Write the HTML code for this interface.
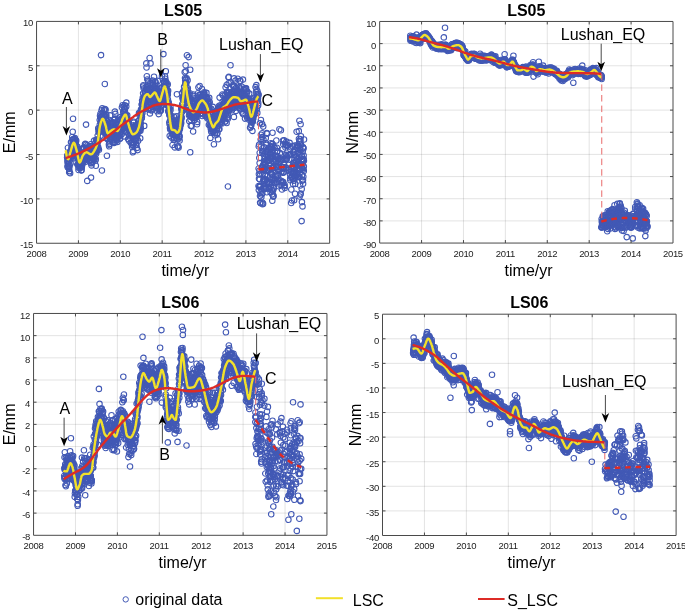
<!DOCTYPE html><html><head><meta charset="utf-8"><style>html,body{margin:0;padding:0;background:#fff;}svg{display:block;filter:blur(0.3px);}text{font-family:"Liberation Sans", sans-serif;}</style></head><body>
<svg width="685" height="611" viewBox="0 0 685 611">
<defs><marker id="m" markerUnits="userSpaceOnUse" markerWidth="8" markerHeight="8" refX="4" refY="4" overflow="visible"><circle cx="4" cy="4" r="2.75" fill="none" stroke="#4259b5" stroke-width="1.1"/></marker><clipPath id="cTL"><rect x="36.56" y="21.42" width="293.10" height="221.83"/></clipPath><clipPath id="cTR"><rect x="379.66" y="21.46" width="293.34" height="221.59"/></clipPath><clipPath id="cBL"><rect x="33.56" y="313.46" width="293.39" height="221.84"/></clipPath><clipPath id="cBR"><rect x="382.50" y="314.20" width="293.60" height="221.30"/></clipPath></defs>
<g><path d="M78.43 21.42V243.25M120.30 21.42V243.25M162.17 21.42V243.25M204.05 21.42V243.25M245.92 21.42V243.25M287.79 21.42V243.25" stroke="#262626" stroke-opacity="0.125" stroke-width="1" fill="none"/><path d="M36.56 198.88H329.66M36.56 154.52H329.66M36.56 110.15H329.66M36.56 65.79H329.66" stroke="#262626" stroke-opacity="0.125" stroke-width="1" fill="none"/><g clip-path="url(#cTL)"><polyline points="67.1,157.5 67.2,155.3 67.4,160.5 67.5,166.0 67.6,162.5 67.7,167.3 67.8,158.5 67.9,147.8 68.0,163.3 68.2,164.4 68.3,155.1 68.4,156.2 68.5,158.1 68.6,166.5 68.7,158.8 68.8,152.5 69.0,168.9 69.1,161.2 69.2,172.5 69.3,167.1 69.4,171.0 69.5,157.5 69.6,165.3 69.8,152.4 69.9,152.8 70.0,155.1 70.1,173.2 70.2,157.0 70.3,152.7 70.5,151.1 70.6,163.3 70.7,154.9 70.8,158.2 70.9,156.5 71.0,142.2 71.1,155.6 71.3,149.5 71.4,142.5 71.5,152.6 71.6,148.8 71.7,146.8 71.8,146.8 71.9,155.1 72.1,145.9 72.2,137.0 72.3,155.8 72.4,139.7 72.5,144.2 72.6,148.7 72.7,131.8 72.9,139.3 73.0,118.8 73.1,143.1 73.2,139.9 73.3,144.3 73.4,158.4 73.5,143.3 73.7,139.0 73.8,157.5 73.9,146.6 74.0,141.7 74.1,145.5 74.2,142.4 74.3,149.6 74.5,146.5 74.6,144.7 74.7,139.2 74.8,138.1 74.9,151.6 75.0,149.1 75.2,141.8 75.3,156.2 75.4,148.5 75.5,146.9 75.6,140.1 75.7,143.6 75.8,149.4 76.0,150.0 76.1,149.8 76.2,140.8 76.3,151.6 76.4,151.4 76.5,148.3 76.6,154.2 76.8,152.0 76.9,157.3 77.0,151.9 77.1,154.6 77.2,146.6 77.3,164.5 77.4,154.0 77.6,150.9 77.7,156.9 77.8,150.1 77.9,156.3 78.0,153.8 78.1,164.3 78.2,156.2 78.4,167.6 78.5,170.0 78.6,161.3 78.7,165.0 78.8,159.8 78.9,149.1 79.0,165.9 79.2,165.1 79.3,161.0 79.4,159.6 79.5,163.4 79.6,163.6 79.7,158.8 79.9,159.7 80.0,167.9 80.1,162.7 80.2,161.9 80.3,167.6 80.4,160.4 80.5,166.1 80.7,156.1 80.8,160.0 80.9,160.2 81.0,163.6 81.1,160.7 81.2,170.4 81.3,165.5 81.5,157.2 81.6,170.1 81.7,153.9 81.8,167.3 81.9,153.7 82.0,161.9 82.1,163.9 82.3,156.0 82.4,164.6 82.5,149.5 82.6,148.2 82.7,156.0 82.8,156.9 82.9,156.1 83.1,160.3 83.2,149.1 83.3,157.7 83.4,154.9 83.5,158.7 83.6,157.7 83.7,161.0 83.9,147.4 84.0,154.7 84.1,148.6 84.2,153.6 84.3,157.2 84.4,155.1 84.6,156.2 84.7,153.1 84.8,155.0 84.9,154.5 85.0,144.3 85.1,157.0 85.2,143.8 85.4,156.1 85.5,158.0 85.6,150.6 85.7,144.8 85.8,160.0 85.9,153.4 86.0,124.6 86.2,161.6 86.3,148.3 86.4,152.3 86.5,151.9 86.6,156.3 86.7,149.9 86.8,155.2 87.0,153.1 87.1,158.3 87.2,180.9 87.3,145.4 87.4,155.3 87.5,151.1 87.6,152.9 87.8,155.1 87.9,155.5 88.0,149.5 88.1,154.6 88.2,153.8 88.3,153.0 88.4,146.9 88.6,149.6 88.7,151.3 88.8,156.4 88.9,160.8 89.0,148.5 89.1,148.5 89.3,154.5 89.4,150.9 89.5,149.7 89.6,149.5 89.7,149.1 89.8,156.5 89.9,146.0 90.1,160.8 90.2,149.6 90.3,151.6 90.4,149.6 90.5,144.3 90.6,146.4 90.7,160.4 90.9,163.3 91.0,150.0 91.1,159.7 91.2,154.4 91.3,149.8 91.4,163.0 91.5,165.4 91.7,152.8 91.8,153.8 91.9,155.3 92.0,153.7 92.1,158.4 92.2,161.8 92.3,154.5 92.5,153.8 92.6,162.1 92.7,150.5 92.8,153.4 92.9,150.8 93.0,158.0 93.1,156.1 93.3,157.8 93.4,157.0 93.5,151.1 93.6,156.1 93.7,149.8 93.8,149.7 94.0,140.6 94.1,158.6 94.2,146.2 94.3,151.2 94.4,150.6 94.5,158.1 94.6,152.6 94.8,146.0 94.9,150.2 95.0,149.1 95.1,150.9 95.2,143.0 95.3,149.0 95.4,160.5 95.6,152.2 95.7,158.9 95.8,165.7 95.9,150.6 96.0,140.1 96.1,146.9 96.2,153.4 96.4,151.8 96.5,139.9 96.6,145.0 96.7,145.3 96.8,145.5 96.9,144.6 97.0,139.9 97.2,140.9 97.3,142.4 97.4,149.3 97.5,139.9 97.6,146.4 97.7,135.5 97.8,148.9 98.0,141.6 98.1,140.1 98.2,147.2 98.3,128.2 98.4,128.8 98.5,139.5 98.7,131.1 98.8,132.5 98.9,149.8 99.0,131.4 99.1,132.3 99.2,130.5 99.3,129.4 99.5,130.9 99.6,129.5 99.7,120.1 99.8,124.7 99.9,127.5 100.0,115.8 100.1,128.6 100.3,127.1 100.4,135.9 100.5,113.7 100.6,117.1 100.7,117.0 100.8,118.2 100.9,121.5 101.1,120.4 101.2,123.2 101.3,122.5 101.4,120.5 101.5,110.4 101.6,116.5 101.7,120.3 101.9,123.6 102.0,123.8 102.1,108.4 102.2,115.7 102.3,118.5 102.4,121.2 102.5,126.4 102.7,121.8 102.8,112.7 102.9,121.5 103.0,120.5 103.1,120.5 103.2,118.4 103.4,130.5 103.5,121.2 103.6,125.8 103.7,113.7 103.8,125.7 103.9,116.4 104.0,110.0 104.2,123.4 104.3,125.8 104.4,120.5 104.5,122.2 104.6,129.6 104.7,128.3 104.8,109.0 105.0,125.4 105.1,125.4 105.2,131.7 105.3,122.4 105.4,133.8 105.5,133.2 105.6,109.7 105.8,132.6 105.9,119.0 106.0,116.3 106.1,125.8 106.2,124.3 106.3,114.9 106.4,130.7 106.6,134.0 106.7,137.8 106.8,130.6 106.9,120.8 107.0,133.8 107.1,138.8 107.2,138.6 107.4,136.4 107.5,130.9 107.6,134.6 107.7,131.7 107.8,131.1 107.9,135.3 108.1,133.5 108.2,131.7 108.3,133.7 108.4,129.4 108.5,119.7 108.6,128.6 108.7,132.4 108.9,144.6 109.0,129.8 109.1,146.3 109.2,142.3 109.3,126.2 109.4,127.1 109.5,133.1 109.7,144.0 109.8,134.4 109.9,136.5 110.0,127.0 110.1,115.4 110.2,129.8 110.3,136.8 110.5,139.5 110.6,131.5 110.7,131.0 110.8,139.1 110.9,130.0 111.0,139.0 111.1,122.8 111.3,123.1 111.4,122.9 111.5,133.9 111.6,126.8 111.7,131.3 111.8,133.0 111.9,132.6 112.1,128.4 112.2,140.3 112.3,124.4 112.4,132.7 112.5,128.3 112.6,122.7 112.8,142.0 112.9,135.3 113.0,128.4 113.1,126.8 113.2,132.2 113.3,122.2 113.4,128.0 113.6,138.1 113.7,136.0 113.8,123.7 113.9,126.1 114.0,142.9 114.1,119.8 114.2,125.2 114.4,119.9 114.5,132.2 114.6,131.6 114.7,137.6 114.8,111.6 114.9,130.9 115.0,118.5 115.2,134.4 115.3,113.9 115.4,141.9 115.5,132.8 115.6,123.2 115.7,139.1 115.8,122.7 116.0,128.0 116.1,137.9 116.2,134.1 116.3,133.9 116.4,131.0 116.5,134.6 116.6,136.7 116.8,133.0 116.9,138.2 117.0,140.1 117.1,131.3 117.2,124.7 117.3,141.9 117.5,131.0 117.6,135.6 117.7,137.8 117.8,124.7 117.9,134.4 118.0,119.9 118.1,135.9 118.3,127.4 118.4,131.6 118.5,135.1 118.6,125.3 118.7,130.3 118.8,124.7 118.9,129.0 119.1,136.1 119.2,128.8 119.3,127.4 119.4,120.7 119.5,133.6 119.6,127.1 119.7,138.7 119.9,121.6 120.0,133.6 120.1,138.4 120.2,125.7 120.3,117.1 120.4,135.5 120.5,132.2 120.7,129.4 120.8,131.9 120.9,120.9 121.0,129.0 121.1,128.0 121.2,118.5 121.3,127.6 121.5,118.8 121.6,128.5 121.7,129.8 121.8,133.9 121.9,107.4 122.0,122.5 122.2,118.2 122.3,119.8 122.4,118.2 122.5,118.7 122.6,105.2 122.7,125.8 122.8,129.3 123.0,125.2 123.1,127.3 123.2,112.3 123.3,111.6 123.4,124.0 123.5,126.8 123.6,119.3 123.8,106.7 123.9,136.4 124.0,112.4 124.1,123.6 124.2,108.4 124.3,123.3 124.4,117.5 124.6,126.0 124.7,115.3 124.8,105.2 124.9,109.1 125.0,112.0 125.1,120.9 125.2,128.1 125.4,117.4 125.5,114.8 125.6,115.2 125.7,115.3 125.8,122.8 125.9,115.5 126.0,115.5 126.2,106.4 126.3,102.6 126.4,117.2 126.5,122.1 126.6,117.6 126.7,121.9 126.9,123.3 127.0,119.0 127.1,126.5 127.2,115.2 127.3,120.8 127.4,118.7 127.5,122.3 127.7,126.6 127.8,122.6 127.9,123.9 128.0,126.5 128.1,139.0 128.2,123.4 128.3,133.4 128.5,123.7 128.6,134.1 128.7,129.4 128.8,127.5 128.9,140.6 129.0,125.6 129.1,125.6 129.3,128.2 129.4,130.4 129.5,130.5 129.6,135.1 129.7,130.4 129.8,132.8 129.9,128.5 130.1,138.1 130.2,128.1 130.3,129.1 130.4,131.3 130.5,133.7 130.6,126.9 130.8,142.9 130.9,128.1 131.0,129.9 131.1,129.8 131.2,129.4 131.3,137.0 131.4,134.4 131.6,128.3 131.7,130.0 131.8,131.8 131.9,144.2 132.0,129.8 132.1,147.0 132.2,126.7 132.4,132.4 132.5,145.2 132.6,127.5 132.7,135.3 132.8,152.3 132.9,131.6 133.0,144.9 133.2,143.5 133.3,151.0 133.4,125.2 133.5,136.8 133.6,132.3 133.7,121.7 133.8,122.8 134.0,134.8 134.1,135.7 134.2,142.9 134.3,138.8 134.4,130.8 134.5,131.0 134.6,132.9 134.8,126.6 134.9,139.1 135.0,133.9 135.1,128.2 135.2,129.2 135.3,125.7 135.5,130.4 135.6,135.3 135.7,130.5 135.8,140.1 135.9,144.5 136.0,128.6 136.1,129.6 136.3,130.4 136.4,144.5 136.5,134.9 136.6,136.5 136.7,138.2 136.8,147.9 136.9,134.1 137.1,125.2 137.2,128.6 137.3,135.4 137.4,131.0 137.5,125.3 137.6,150.1 137.7,131.1 137.9,126.1 138.0,124.8 138.1,140.8 138.2,121.1 138.3,126.6 138.4,126.4 138.5,122.6 138.7,131.7 138.8,127.9 138.9,120.8 139.0,112.9 139.1,127.5 139.2,126.3 139.3,124.0 139.5,115.4 139.6,124.6 139.7,113.4 139.8,130.1 139.9,123.9 140.0,123.4 140.2,138.3 140.3,113.3 140.4,130.8 140.5,125.9 140.6,116.4 140.7,122.8 140.8,128.3 141.0,109.4 141.1,112.6 141.2,112.0 141.3,118.1 141.4,110.2 141.5,114.9 141.6,104.6 141.8,118.0 141.9,116.7 142.0,108.4 142.1,100.6 142.2,103.3 142.3,105.4 142.4,112.9 142.6,105.0 142.7,107.3 142.8,97.5 142.9,107.7 143.0,105.6 143.1,93.3 143.2,85.4 143.4,86.5 143.5,99.8 143.6,98.2 143.7,88.5 143.8,99.8 143.9,105.5 144.0,97.4 144.2,125.9 144.3,103.4 144.4,108.9 144.5,107.1 144.6,91.9 144.7,101.8 144.9,97.2 145.0,94.5 145.1,91.5 145.2,98.1 145.3,92.1 145.4,101.8 145.5,97.9 145.7,102.5 145.8,87.1 145.9,95.2 146.0,100.1 146.1,97.3 146.2,96.2 146.3,89.6 146.5,67.5 146.6,101.8 146.7,97.0 146.8,76.3 146.9,87.4 147.0,95.0 147.1,89.1 147.3,79.5 147.4,95.8 147.5,96.7 147.6,85.5 147.7,90.6 147.8,89.5 147.9,97.9 148.1,80.8 148.2,82.5 148.3,90.7 148.4,90.1 148.5,109.5 148.6,90.8 148.7,96.9 148.9,92.6 149.0,91.1 149.1,98.5 149.2,108.3 149.3,93.8 149.4,101.9 149.6,99.1 149.7,101.1 149.8,99.4 149.9,113.4 150.0,88.4 150.1,95.2 150.2,89.1 150.4,82.9 150.5,96.7 150.6,109.6 150.7,103.1 150.8,105.2 150.9,100.1 151.0,95.8 151.2,110.4 151.3,93.7 151.4,106.7 151.5,93.7 151.6,96.4 151.7,97.7 151.8,95.9 152.0,99.0 152.1,99.4 152.2,106.9 152.3,95.0 152.4,81.6 152.5,80.5 152.6,85.1 152.8,89.3 152.9,99.0 153.0,83.8 153.1,94.3 153.2,94.3 153.3,95.7 153.4,92.9 153.6,96.5 153.7,93.9 153.8,100.8 153.9,95.7 154.0,76.7 154.1,93.3 154.3,94.4 154.4,88.9 154.5,87.6 154.6,92.0 154.7,94.0 154.8,86.0 154.9,90.6 155.1,94.2 155.2,81.6 155.3,97.6 155.4,92.3 155.5,96.7 155.6,82.7 155.7,107.3 155.9,98.4 156.0,97.7 156.1,89.4 156.2,90.1 156.3,84.8 156.4,106.1 156.5,89.9 156.7,97.6 156.8,100.5 156.9,92.2 157.0,102.8 157.1,111.3 157.2,99.4 157.3,107.6 157.5,101.8 157.6,94.8 157.7,95.5 157.8,80.9 157.9,99.6 158.0,109.4 158.1,104.1 158.3,105.5 158.4,107.9 158.5,96.4 158.6,104.4 158.7,114.1 158.8,95.3 159.0,101.2 159.1,98.1 159.2,100.0 159.3,99.8 159.4,100.7 159.5,92.3 159.6,98.1 159.8,98.3 159.9,98.1 160.0,111.2 160.1,101.9 160.2,102.3 160.3,98.7 160.4,109.5 160.6,88.0 160.7,98.5 160.8,107.4 160.9,110.5 161.0,100.0 161.1,98.2 161.2,102.2 161.4,96.0 161.5,105.9 161.6,91.8 161.7,100.5 161.8,95.2 161.9,87.6 162.0,75.9 162.2,100.9 162.3,96.7 162.4,99.0 162.5,87.1 162.6,100.4 162.7,95.2 162.8,91.6 163.0,97.9 163.1,97.3 163.2,93.4 163.3,104.5 163.4,54.1 163.5,91.7 163.7,87.3 163.8,89.3 163.9,100.2 164.0,90.6 164.1,81.4 164.2,82.9 164.3,87.2 164.5,92.8 164.6,81.9 164.7,90.5 164.8,94.7 164.9,92.2 165.0,76.3 165.1,85.2 165.3,78.8 165.4,90.7 165.5,81.0 165.6,92.3 165.7,89.5 165.8,71.2 165.9,83.8 166.1,93.3 166.2,90.8 166.3,88.4 166.4,82.6 166.5,95.2 166.6,104.6 166.7,94.8 166.9,93.2 167.0,93.2 167.1,85.3 167.2,93.2 167.3,90.6 167.4,105.1 167.5,92.1 167.7,84.3 167.8,94.8 167.9,99.5 168.0,101.3 168.1,90.8 168.2,111.1 168.4,106.4 168.5,103.4 168.6,102.5 168.7,111.8 168.8,107.6 168.9,112.8 169.0,111.1 169.2,114.0 169.3,122.3 169.4,115.5 169.5,110.3 169.6,124.4 169.7,135.8 169.8,114.9 170.0,128.1 170.1,120.0 170.2,129.6 170.3,114.7 170.4,107.1 170.5,109.9 170.6,126.5 170.8,120.4 170.9,125.5 171.0,126.3 171.1,116.6 171.2,137.5 171.3,121.1 171.4,129.4 171.6,119.3 171.7,128.2 171.8,134.4 171.9,127.7 172.0,124.5 172.1,129.5 172.2,126.4 172.4,133.6 172.5,145.0 172.6,123.5 172.7,125.0 172.8,128.9 172.9,129.5 173.1,131.5 173.2,133.2 173.3,135.0 173.4,131.4 173.5,121.6 173.6,139.9 173.7,121.6 173.9,116.6 174.0,137.9 174.1,121.2 174.2,130.8 174.3,139.4 174.4,132.7 174.5,123.6 174.7,147.4 174.8,133.3 174.9,127.5 175.0,125.4 175.1,135.1 175.2,128.1 175.3,131.0 175.5,132.5 175.6,134.5 175.7,130.7 175.8,125.2 175.9,135.5 176.0,134.7 176.1,123.9 176.3,130.4 176.4,125.8 176.5,123.7 176.6,128.2 176.7,116.3 176.8,138.4 176.9,94.2 177.1,134.9 177.2,119.5 177.3,120.6 177.4,146.5 177.5,139.5 177.6,127.9 177.8,126.9 177.9,127.2 178.0,132.8 178.1,146.4 178.2,127.4 178.3,132.4 178.4,124.4 178.6,147.6 178.7,126.8 178.8,138.5 178.9,124.1 179.0,132.3 179.1,136.8 179.2,127.6 179.4,136.4 179.5,136.2 179.6,140.5 179.7,129.2 179.8,125.0 179.9,120.6 180.0,128.2 180.2,118.9 180.3,125.4 180.4,125.2 180.5,119.4 180.6,114.9 180.7,123.7 180.8,121.9 181.0,120.2 181.1,117.3 181.2,123.1 181.3,108.2 181.4,117.2 181.5,110.0 181.6,118.1 181.8,108.6 181.9,107.3 182.0,111.9 182.1,93.4 182.2,104.0 182.3,92.8 182.5,97.5 182.6,107.9 182.7,104.8 182.8,97.9 182.9,99.5 183.0,98.6 183.1,99.9 183.3,109.5 183.4,97.1 183.5,110.1 183.6,90.5 183.7,97.2 183.8,95.9 183.9,91.3 184.1,86.7 184.2,97.7 184.3,99.0 184.4,93.2 184.5,99.3 184.6,91.0 184.7,72.2 184.9,90.5 185.0,78.0 185.1,92.1 185.2,80.2 185.3,84.7 185.4,83.1 185.5,79.0 185.7,71.2 185.8,82.9 185.9,84.2 186.0,92.8 186.1,82.7 186.2,89.6 186.3,82.9 186.5,90.1 186.6,78.4 186.7,105.8 186.8,94.8 186.9,94.2 187.0,96.7 187.2,100.5 187.3,97.5 187.4,106.0 187.5,96.1 187.6,80.3 187.7,90.1 187.8,88.4 188.0,105.8 188.1,103.1 188.2,93.7 188.3,107.3 188.4,106.9 188.5,96.3 188.6,97.0 188.8,106.3 188.9,112.0 189.0,115.5 189.1,109.9 189.2,121.1 189.3,100.3 189.4,110.4 189.6,102.8 189.7,93.3 189.8,98.5 189.9,115.2 190.0,101.1 190.1,99.3 190.2,113.1 190.4,114.8 190.5,109.0 190.6,119.8 190.7,98.2 190.8,125.9 190.9,116.9 191.0,111.2 191.2,111.1 191.3,108.5 191.4,107.9 191.5,111.6 191.6,102.2 191.7,125.7 191.9,110.8 192.0,116.0 192.1,110.2 192.2,110.1 192.3,118.0 192.4,116.3 192.5,106.2 192.7,109.5 192.8,116.9 192.9,97.7 193.0,95.9 193.1,131.5 193.2,110.1 193.3,94.5 193.5,106.7 193.6,110.6 193.7,113.6 193.8,115.9 193.9,113.5 194.0,115.9 194.1,106.6 194.3,114.6 194.4,114.8 194.5,120.1 194.6,111.8 194.7,117.7 194.8,112.5 194.9,103.7 195.1,108.3 195.2,107.2 195.3,108.1 195.4,110.1 195.5,111.3 195.6,112.4 195.7,104.7 195.9,117.6 196.0,100.2 196.1,109.3 196.2,114.7 196.3,112.7 196.4,113.9 196.6,107.8 196.7,113.9 196.8,100.5 196.9,113.9 197.0,124.2 197.1,113.1 197.2,121.9 197.4,107.6 197.5,99.5 197.6,102.2 197.7,116.0 197.8,111.6 197.9,93.3 198.0,103.3 198.2,105.3 198.3,97.5 198.4,87.3 198.5,95.3 198.6,103.2 198.7,101.5 198.8,99.4 199.0,107.9 199.1,110.9 199.2,102.8 199.3,109.8 199.4,103.3 199.5,102.1 199.6,86.0 199.8,108.5 199.9,103.2 200.0,103.3 200.1,98.9 200.2,94.4 200.3,105.2 200.4,107.4 200.6,113.1 200.7,107.9 200.8,97.4 200.9,100.8 201.0,108.2 201.1,103.6 201.3,100.6 201.4,97.2 201.5,94.2 201.6,102.4 201.7,113.5 201.8,108.7 201.9,89.0 202.1,116.0 202.2,102.9 202.3,98.9 202.4,103.2 202.5,106.3 202.6,101.0 202.7,100.7 202.9,101.3 203.0,114.1 203.1,101.9 203.2,107.0 203.3,104.9 203.4,99.5 203.5,96.7 203.7,95.0 203.8,105.0 203.9,95.1 204.0,93.4 204.1,93.8 204.2,92.2 204.3,103.2 204.5,103.6 204.6,96.6 204.7,112.3 204.8,101.3 204.9,106.7 205.0,105.7 205.1,115.6 205.3,109.7 205.4,103.7 205.5,97.4 205.6,96.9 205.7,104.6 205.8,105.6 206.0,110.4 206.1,101.8 206.2,106.6 206.3,100.8 206.4,92.9 206.5,105.8 206.6,116.5 206.8,112.2 206.9,116.7 207.0,115.2 207.1,97.7 207.2,105.7 207.3,118.4 207.4,103.3 207.6,99.3 207.7,111.1 207.8,113.7 207.9,111.7 208.0,107.7 208.1,105.7 208.2,102.4 208.4,109.7 208.5,103.7 208.6,103.1 208.7,108.7 208.8,124.9 208.9,115.7 209.0,108.3 209.2,97.9 209.3,110.1 209.4,119.7 209.5,124.2 209.6,107.8 209.7,102.3 209.9,117.3 210.0,112.7 210.1,112.2 210.2,117.7 210.3,137.9 210.4,125.6 210.5,124.5 210.7,128.6 210.8,120.5 210.9,113.8 211.0,126.0 211.1,130.9 211.2,108.8 211.3,126.7 211.5,132.5 211.6,122.4 211.7,121.3 211.8,129.6 211.9,119.3 212.0,128.7 212.1,119.0 212.3,124.5 212.4,120.6 212.5,121.4 212.6,124.2 212.7,127.4 212.8,106.9 212.9,132.1 213.1,117.4 213.2,127.6 213.3,128.2 213.4,122.1 213.5,120.8 213.6,118.1 213.7,124.6 213.9,144.3 214.0,130.4 214.1,122.8 214.2,122.0 214.3,116.0 214.4,122.7 214.6,117.9 214.7,114.4 214.8,123.7 214.9,135.2 215.0,132.8 215.1,126.3 215.2,112.7 215.4,129.8 215.5,114.8 215.6,119.3 215.7,111.1 215.8,116.0 215.9,123.8 216.0,124.3 216.2,122.2 216.3,121.5 216.4,126.4 216.5,122.7 216.6,111.0 216.7,134.4 216.8,120.4 217.0,128.6 217.1,120.7 217.2,116.0 217.3,122.2 217.4,116.2 217.5,132.9 217.6,113.6 217.8,125.6 217.9,116.8 218.0,119.7 218.1,139.2 218.2,126.0 218.3,118.9 218.4,109.1 218.6,117.9 218.7,117.8 218.8,129.3 218.9,108.8 219.0,105.8 219.1,118.1 219.3,119.5 219.4,129.0 219.5,110.9 219.6,97.6 219.7,111.3 219.8,107.1 219.9,111.9 220.1,122.3 220.2,105.5 220.3,123.4 220.4,115.8 220.5,112.1 220.6,107.4 220.7,110.4 220.9,109.5 221.0,118.1 221.1,121.5 221.2,111.5 221.3,116.6 221.4,120.5 221.5,119.9 221.7,114.0 221.8,123.4 221.9,119.5 222.0,116.0 222.1,108.0 222.2,106.1 222.3,94.5 222.5,119.2 222.6,113.1 222.7,101.6 222.8,109.5 222.9,110.1 223.0,95.6 223.1,110.0 223.3,115.7 223.4,116.7 223.5,104.9 223.6,105.0 223.7,116.8 223.8,114.0 224.0,103.1 224.1,102.8 224.2,111.3 224.3,102.3 224.4,102.6 224.5,119.2 224.6,108.7 224.8,103.5 224.9,110.5 225.0,121.5 225.1,108.3 225.2,100.9 225.3,94.9 225.4,121.6 225.6,87.4 225.7,113.9 225.8,99.0 225.9,97.0 226.0,98.7 226.1,104.5 226.2,113.7 226.4,100.9 226.5,110.3 226.6,123.0 226.7,84.8 226.8,103.2 226.9,91.7 227.0,110.9 227.2,117.5 227.3,92.8 227.4,92.9 227.5,103.9 227.6,112.1 227.7,104.6 227.8,118.8 228.0,115.1 228.1,102.1 228.2,109.6 228.3,103.6 228.4,103.0 228.5,77.5 228.7,92.6 228.8,102.0 228.9,92.9 229.0,106.9 229.1,103.6 229.2,94.5 229.3,109.7 229.5,102.7 229.6,110.0 229.7,99.6 229.8,88.8 229.9,105.5 230.0,98.5 230.1,106.3 230.3,108.0 230.4,108.5 230.5,65.2 230.6,82.6 230.7,95.9 230.8,104.2 230.9,94.0 231.1,101.3 231.2,93.1 231.3,96.6 231.4,104.7 231.5,92.0 231.6,102.4 231.7,101.9 231.9,110.3 232.0,101.1 232.1,108.0 232.2,98.8 232.3,104.5 232.4,96.9 232.5,94.3 232.7,107.5 232.8,103.2 232.9,104.0 233.0,92.0 233.1,85.2 233.2,91.2 233.4,99.7 233.5,86.8 233.6,107.9 233.7,86.6 233.8,101.9 233.9,116.9 234.0,78.4 234.2,86.0 234.3,104.5 234.4,96.0 234.5,98.7 234.6,96.5 234.7,107.8 234.8,102.1 235.0,93.9 235.1,95.7 235.2,88.8 235.3,96.7 235.4,80.6 235.5,102.4 235.6,95.5 235.8,110.9 235.9,106.3 236.0,87.9 236.1,104.1 236.2,93.6 236.3,97.9 236.4,104.9 236.6,99.9 236.7,101.1 236.8,101.0 236.9,92.2 237.0,92.9 237.1,101.7 237.2,104.0 237.4,95.6 237.5,98.3 237.6,90.4 237.7,78.8 237.8,91.8 237.9,98.1 238.1,99.1 238.2,104.1 238.3,104.6 238.4,105.4 238.5,101.2 238.6,101.6 238.7,93.4 238.9,101.7 239.0,100.4 239.1,107.8 239.2,87.7 239.3,95.9 239.4,87.0 239.5,94.2 239.7,89.5 239.8,102.0 239.9,95.3 240.0,81.3 240.1,109.3 240.2,92.4 240.3,80.7 240.5,98.0 240.6,95.6 240.7,92.1 240.8,106.0 240.9,98.3 241.0,94.3 241.1,106.2 241.3,105.8 241.4,102.3 241.5,100.2 241.6,97.9 241.7,111.5 241.8,86.8 241.9,92.7 242.1,99.9 242.2,103.7 242.3,101.7 242.4,97.0 242.5,97.9 242.6,113.1 242.8,95.4 242.9,79.6 243.0,114.2 243.1,93.4 243.2,98.0 243.3,101.4 243.4,104.1 243.6,109.1 243.7,99.3 243.8,89.8 243.9,101.8 244.0,103.4 244.1,99.4 244.2,103.4 244.4,88.8 244.5,106.7 244.6,93.6 244.7,109.1 244.8,95.0 244.9,97.8 245.0,118.6 245.2,99.8 245.3,107.5 245.4,102.9 245.5,88.4 245.6,107.8 245.7,107.3 245.8,89.1 246.0,98.8 246.1,88.4 246.2,97.4 246.3,106.3 246.4,100.5 246.5,91.3 246.6,93.6 246.8,100.8 246.9,100.7 247.0,102.2 247.1,106.0 247.2,118.1 247.3,91.7 247.5,111.2 247.6,106.8 247.7,98.4 247.8,99.4 247.9,105.5 248.0,109.8 248.1,105.1 248.3,117.9 248.4,115.6 248.5,100.6 248.6,110.3 248.7,104.5 248.8,98.8 248.9,119.6 249.1,108.5 249.2,93.6 249.3,104.8 249.4,112.8 249.5,105.5 249.6,108.4 249.7,118.1 249.9,111.9 250.0,114.2 250.1,127.8 250.2,115.2 250.3,116.5 250.4,118.0 250.5,127.2 250.7,118.2 250.8,116.2 250.9,115.4 251.0,124.7 251.1,112.0 251.2,125.5 251.3,118.4 251.5,107.2 251.6,121.7 251.7,120.2 251.8,108.5 251.9,118.9 252.0,118.0 252.2,113.9 252.3,107.6 252.4,130.9 252.5,120.5 252.6,121.4 252.7,121.6 252.8,119.4 253.0,118.9 253.1,110.1 253.2,118.3 253.3,110.5 253.4,108.0 253.5,115.8 253.6,109.1 253.8,97.8 253.9,106.9 254.0,113.5 254.1,108.9 254.2,114.7 254.3,105.6 254.4,100.8 254.6,112.5 254.7,107.6 254.8,97.5 254.9,108.6 255.0,103.1 255.1,111.4 255.2,109.4 255.4,106.7 255.5,87.1 255.6,104.9 255.7,105.4 255.8,105.2 255.9,101.9 256.0,91.9 256.2,98.7 256.3,85.1 256.4,98.0 256.5,89.0 256.6,97.0 256.7,94.5 256.9,108.8 257.0,99.2 257.1,98.6 257.2,99.6 257.3,112.9 257.4,91.2 257.5,100.0 257.7,100.2 257.8,98.8 257.9,98.4 258.0,93.8 258.1,105.6 258.2,103.1 258.3,94.3 258.5,95.3 258.7,146.5 259.1,144.6 259.3,157.9 259.6,163.1 259.7,152.8 261.1,146.4 261.4,138.8 261.5,167.6 262.0,166.8 262.3,152.5 262.6,151.0 262.6,167.4 262.7,151.2 263.1,164.9 263.4,139.6 264.2,161.5 264.2,170.1 264.2,147.4 264.2,163.0 264.3,153.0 264.7,169.8 264.7,159.0 264.7,164.2 264.8,167.1 265.3,157.2 265.6,160.4 265.8,152.0 266.0,143.4 266.2,151.2 266.2,170.2 266.4,144.9 266.8,170.4 267.4,159.8 267.5,157.1 267.5,151.8 267.6,159.9 268.1,160.6 268.3,148.6 268.3,154.8 268.5,160.3 268.9,161.0 269.4,160.1 269.4,163.0 269.9,154.0 269.9,158.0 270.0,157.5 270.3,149.6 270.5,146.4 270.6,152.9 270.8,157.7 270.9,143.3 270.9,172.8 271.0,148.8 271.2,158.3 271.4,156.9 271.9,147.0 272.2,152.2 272.2,144.1 272.3,144.0 272.3,167.6 272.6,157.2 272.8,150.1 273.2,166.5 273.3,155.9 273.4,145.8 273.4,162.0 273.5,168.1 273.6,161.1 274.2,159.5 274.4,159.4 274.6,155.7 274.6,147.9 275.6,155.8 276.0,156.1 276.0,163.3 276.1,167.1 276.3,140.5 276.3,160.8 276.8,147.7 277.0,157.2 277.1,151.8 277.2,151.1 277.2,167.1 277.3,166.4 277.7,156.3 277.7,169.5 278.5,159.1 278.8,165.3 279.6,161.8 279.9,153.0 280.5,158.8 280.9,160.7 281.8,159.6 282.7,149.3 282.8,167.1 282.9,140.6 283.1,159.7 283.2,144.2 283.7,172.1 283.9,167.3 283.9,164.8 284.0,140.3 284.5,158.9 284.9,143.8 285.4,147.5 285.5,168.0 285.6,159.0 285.7,154.8 286.0,155.4 286.1,144.9 286.1,167.9 286.3,141.6 286.5,159.0 286.7,158.5 286.8,145.8 286.9,156.4 288.0,145.4 288.5,155.4 288.6,155.0 288.6,165.0 289.3,163.7 289.6,142.9 289.9,154.3 289.9,155.1 290.3,149.3 290.5,147.2 291.6,167.0 292.4,146.4 292.7,171.4 293.4,151.6 293.5,162.9 293.7,162.5 293.9,154.8 294.3,152.2 294.4,159.5 294.5,149.5 294.6,145.6 295.1,165.1 295.4,162.7 295.6,157.2 296.3,160.8 296.4,161.8 296.4,156.2 296.5,153.4 296.8,148.0 296.9,145.3 297.2,147.4 297.2,159.5 297.8,146.1 298.0,153.1 298.0,165.4 298.5,146.1 298.7,163.7 299.4,153.8 299.9,149.7 300.1,147.9 300.2,154.9 301.0,144.8 301.2,164.2 301.3,167.8 301.5,162.0 301.8,155.9 301.9,159.6 302.1,168.1 302.6,164.2 302.7,151.5 302.7,161.2 303.0,147.3 303.2,159.2 303.2,147.8 303.5,148.6 303.6,155.5 303.7,159.4 303.8,166.5 303.9,160.8 258.5,186.0 258.6,168.5 258.8,190.1 258.9,174.2 259.0,178.7 259.3,186.9 259.4,170.6 259.7,179.4 259.8,186.4 259.8,186.8 260.3,174.5 260.4,192.8 260.6,185.7 261.4,189.4 261.5,194.5 262.4,174.2 263.3,180.2 263.9,178.7 264.0,168.5 264.0,182.2 264.2,189.1 264.2,180.8 264.6,180.2 264.7,187.6 264.7,186.3 265.1,179.3 265.2,175.9 265.4,188.5 265.6,164.6 266.3,188.4 266.4,187.9 266.7,192.2 266.9,181.9 266.9,182.1 267.6,176.0 267.9,170.3 268.4,183.1 268.5,170.4 268.5,188.2 269.2,182.3 269.2,188.8 269.8,168.7 269.9,183.6 270.1,176.7 270.6,192.5 270.6,179.5 270.7,186.7 271.6,182.5 271.8,174.6 271.8,190.3 272.1,180.3 272.2,174.2 273.0,190.4 273.5,178.9 273.6,188.4 273.9,187.2 274.2,182.7 274.5,180.5 274.8,180.3 274.8,172.4 275.8,176.0 277.1,182.1 277.4,179.5 277.5,175.9 277.6,169.7 277.6,174.9 278.4,178.2 278.7,186.2 278.7,171.1 280.4,185.1 280.9,180.8 281.4,171.5 281.6,185.1 281.7,167.4 281.8,183.5 281.9,189.5 282.2,181.9 282.4,172.7 282.7,181.7 283.1,169.0 283.3,182.4 283.6,172.6 284.3,186.2 284.6,185.0 284.7,187.9 289.2,170.0 290.0,174.6 290.2,178.2 290.3,180.2 290.6,172.0 291.2,172.0 291.5,177.0 291.7,177.4 292.5,173.6 292.6,171.4 292.9,179.0 293.0,183.9 293.3,172.4 293.4,179.0 293.4,168.0 293.8,175.9 293.8,180.7 293.8,167.7 294.1,172.4 294.1,173.7 294.4,166.6 294.8,177.1 295.0,170.5 295.2,183.9 295.5,178.1 295.9,175.7 297.0,175.0 297.2,173.0 297.4,176.8 298.3,176.6 298.8,168.4 299.2,177.2 299.5,170.0 299.5,176.7 299.8,168.9 300.1,185.5 301.7,189.0 302.0,175.1 302.3,180.6 302.4,168.6 303.0,180.1 303.1,169.6 303.1,183.7 303.3,176.7 303.8,170.9 259.9,123.3 260.7,139.6 260.9,120.0 260.9,134.8 262.1,133.3 262.1,137.1 262.1,124.1 263.2,126.6 265.8,138.1 266.7,133.1 298.8,131.1 298.9,138.8 299.2,140.9 299.4,120.7 300.4,141.5 300.4,139.2 300.6,124.2 300.9,136.3 304.0,139.5 267.0,133.7 272.5,132.7 279.4,129.2 280.9,130.3 296.6,131.7 260.0,196.1 260.1,202.6 260.5,203.1 261.3,197.2 262.3,193.2 262.5,204.2 262.5,202.7 263.1,203.7 272.2,194.2 272.3,200.8 273.0,195.9 273.2,196.6 273.5,195.9 291.1,203.0 291.3,189.5 291.9,200.5 294.1,200.2 295.0,193.8 299.6,196.5 300.4,194.6 300.7,193.5 301.9,202.1 302.5,206.4 301.6,221.1 101.0,55.1 104.8,84.0 146.3,63.4 149.6,58.0 150.5,63.4 186.9,55.3 188.6,57.1 185.6,65.2 190.2,69.7 228.7,76.9 228.7,83.2 190.2,152.3 227.9,186.5 91.0,177.6 101.9,170.5 106.9,155.8" fill="none" stroke="none" marker-start="url(#m)" marker-mid="url(#m)" marker-end="url(#m)"/><polyline points="65.7,150.2 66.0,152.0 66.3,153.7 66.5,155.2 66.8,156.4 67.1,157.4 67.4,158.2 67.6,158.7 67.9,159.1 68.2,159.2 68.5,159.0 68.7,158.5 69.0,157.7 69.3,156.6 69.6,155.5 69.8,154.3 70.1,153.1 70.4,152.1 70.7,151.3 70.9,150.4 71.2,149.4 71.5,148.4 71.8,147.4 72.0,146.4 72.3,145.5 72.6,144.7 72.9,144.0 73.1,143.4 73.4,143.0 73.7,142.8 74.0,142.8 74.3,143.1 74.5,143.6 74.8,144.2 75.1,145.0 75.4,145.9 75.6,146.9 75.9,147.9 76.2,148.9 76.5,149.9 76.7,150.9 77.0,151.9 77.3,153.1 77.6,154.5 77.8,155.9 78.1,157.4 78.4,158.8 78.7,160.0 78.9,161.1 79.2,161.9 79.5,162.4 79.8,162.5 80.0,162.3 80.3,161.9 80.6,161.4 80.9,160.7 81.1,160.0 81.4,159.2 81.7,158.4 82.0,157.5 82.2,156.8 82.5,156.1 82.8,155.5 83.1,155.1 83.4,154.7 83.6,154.4 83.9,154.0 84.2,153.7 84.5,153.3 84.7,153.0 85.0,152.8 85.3,152.6 85.6,152.4 85.8,152.3 86.1,152.2 86.4,152.2 86.7,152.3 86.9,152.4 87.2,152.5 87.5,152.6 87.8,152.8 88.0,152.9 88.3,153.1 88.6,153.3 88.9,153.5 89.1,153.6 89.4,153.8 89.7,154.0 90.0,154.1 90.2,154.2 90.5,154.3 90.8,154.3 91.1,154.3 91.4,154.3 91.6,154.2 91.9,154.0 92.2,153.8 92.5,153.5 92.7,153.2 93.0,152.8 93.3,152.4 93.6,152.0 93.8,151.5 94.1,151.1 94.4,150.6 94.7,150.1 94.9,149.6 95.2,149.1 95.5,148.6 95.8,148.0 96.0,147.4 96.3,146.7 96.6,145.9 96.9,145.1 97.1,144.1 97.4,143.2 97.7,142.1 98.0,140.7 98.2,138.9 98.5,136.8 98.8,134.6 99.1,132.3 99.3,130.0 99.6,127.9 99.9,126.2 100.2,124.9 100.5,123.9 100.7,122.9 101.0,122.0 101.3,121.2 101.6,120.4 101.8,119.8 102.1,119.3 102.4,118.9 102.7,118.8 102.9,118.8 103.2,119.1 103.5,119.5 103.8,120.1 104.0,120.8 104.3,121.6 104.6,122.5 104.9,123.3 105.1,124.2 105.4,125.0 105.7,125.9 106.0,127.0 106.2,128.3 106.5,129.6 106.8,130.9 107.1,131.9 107.3,132.7 107.6,133.2 107.9,133.2 108.2,133.1 108.4,133.0 108.7,132.8 109.0,132.5 109.3,132.3 109.6,132.0 109.8,131.7 110.1,131.4 110.4,131.2 110.7,131.0 110.9,130.8 111.2,130.7 111.5,130.5 111.8,130.3 112.0,130.1 112.3,130.0 112.6,129.8 112.9,129.7 113.1,129.6 113.4,129.5 113.7,129.4 114.0,129.4 114.2,129.4 114.5,129.5 114.8,129.6 115.1,129.8 115.3,130.0 115.6,130.2 115.9,130.3 116.2,130.5 116.4,130.7 116.7,130.8 117.0,130.9 117.3,131.0 117.6,131.0 117.8,130.8 118.1,130.4 118.4,129.9 118.7,129.4 118.9,128.7 119.2,128.0 119.5,127.2 119.8,126.5 120.0,125.7 120.3,125.0 120.6,124.4 120.9,123.6 121.1,122.9 121.4,122.1 121.7,121.3 122.0,120.4 122.2,119.7 122.5,119.0 122.8,118.3 123.1,117.8 123.3,117.3 123.6,116.8 123.9,116.3 124.2,115.9 124.4,115.4 124.7,115.1 125.0,114.8 125.3,114.6 125.5,114.6 125.8,114.8 126.1,115.4 126.4,116.2 126.7,117.2 126.9,118.4 127.2,119.6 127.5,120.7 127.8,121.8 128.0,122.7 128.3,123.6 128.6,124.6 128.9,125.6 129.1,126.6 129.4,127.5 129.7,128.4 130.0,129.2 130.2,129.9 130.5,130.6 130.8,131.2 131.1,131.8 131.3,132.4 131.6,132.9 131.9,133.4 132.2,133.8 132.4,134.1 132.7,134.3 133.0,134.3 133.3,134.3 133.5,134.2 133.8,134.1 134.1,134.0 134.4,133.9 134.6,133.7 134.9,133.6 135.2,133.4 135.5,133.2 135.8,133.0 136.0,132.8 136.3,132.5 136.6,132.2 136.9,131.9 137.1,131.4 137.4,130.9 137.7,130.3 138.0,129.7 138.2,129.0 138.5,128.3 138.8,127.5 139.1,126.6 139.3,125.5 139.6,124.2 139.9,122.8 140.2,121.3 140.4,119.7 140.7,118.1 141.0,116.6 141.3,114.9 141.5,113.1 141.8,111.1 142.1,109.0 142.4,106.9 142.6,104.9 142.9,103.1 143.2,101.5 143.5,100.2 143.8,99.2 144.0,98.3 144.3,97.4 144.6,96.7 144.9,96.2 145.1,95.8 145.4,95.5 145.7,95.2 146.0,94.9 146.2,94.7 146.5,94.5 146.8,94.3 147.1,94.2 147.3,94.1 147.6,94.1 147.9,94.3 148.2,94.6 148.4,95.0 148.7,95.4 149.0,95.9 149.3,96.4 149.5,96.7 149.8,97.0 150.1,97.0 150.4,96.9 150.6,96.8 150.9,96.5 151.2,96.2 151.5,95.8 151.7,95.5 152.0,95.1 152.3,94.8 152.6,94.5 152.9,94.2 153.1,93.9 153.4,93.6 153.7,93.3 154.0,93.0 154.2,92.7 154.5,92.6 154.8,92.5 155.1,92.6 155.3,92.8 155.6,93.2 155.9,93.7 156.2,94.3 156.4,95.0 156.7,95.6 157.0,96.3 157.3,96.8 157.5,97.4 157.8,98.0 158.1,98.6 158.4,99.3 158.6,99.9 158.9,100.4 159.2,100.8 159.5,101.0 159.7,101.1 160.0,100.8 160.3,100.3 160.6,99.5 160.8,98.6 161.1,97.6 161.4,96.5 161.7,95.4 162.0,94.4 162.2,93.6 162.5,92.7 162.8,91.6 163.1,90.6 163.3,89.5 163.6,88.5 163.9,87.6 164.2,87.0 164.4,86.5 164.7,86.4 165.0,86.6 165.3,87.1 165.5,87.8 165.8,88.7 166.1,89.8 166.4,91.0 166.6,92.3 166.9,93.6 167.2,95.4 167.5,97.5 167.7,99.9 168.0,102.5 168.3,105.1 168.6,107.7 168.8,110.1 169.1,112.8 169.4,115.5 169.7,118.1 170.0,120.4 170.2,122.3 170.5,124.1 170.8,125.8 171.1,127.4 171.3,128.6 171.6,129.4 171.9,129.7 172.2,129.8 172.4,129.9 172.7,129.9 173.0,130.0 173.3,130.0 173.5,130.0 173.8,130.1 174.1,130.1 174.4,130.2 174.6,130.3 174.9,130.4 175.2,130.6 175.5,130.9 175.7,131.3 176.0,131.6 176.3,132.0 176.6,132.3 176.8,132.5 177.1,132.7 177.4,132.7 177.7,132.6 177.9,132.3 178.2,132.0 178.5,131.6 178.8,131.2 179.1,130.6 179.3,130.0 179.6,129.4 179.9,128.2 180.2,126.4 180.4,124.1 180.7,121.6 181.0,118.8 181.3,116.0 181.5,113.3 181.8,110.7 182.1,108.0 182.4,105.2 182.6,102.5 182.9,99.9 183.2,97.4 183.5,94.6 183.7,91.7 184.0,89.0 184.3,86.5 184.6,84.5 184.8,83.0 185.1,82.3 185.4,82.5 185.7,83.7 185.9,85.5 186.2,87.7 186.5,90.1 186.8,92.4 187.0,94.3 187.3,95.9 187.6,97.5 187.9,99.1 188.2,100.7 188.4,102.1 188.7,103.4 189.0,104.5 189.3,105.4 189.5,106.2 189.8,106.8 190.1,107.4 190.4,108.0 190.6,108.5 190.9,109.0 191.2,109.5 191.5,110.0 191.7,110.5 192.0,111.1 192.3,111.5 192.6,111.9 192.8,112.2 193.1,112.3 193.4,112.3 193.7,112.2 193.9,112.0 194.2,111.8 194.5,111.6 194.8,111.3 195.0,111.0 195.3,110.6 195.6,110.3 195.9,109.9 196.2,109.5 196.4,109.1 196.7,108.7 197.0,108.2 197.3,107.6 197.5,106.9 197.8,106.2 198.1,105.5 198.4,104.8 198.6,104.2 198.9,103.6 199.2,103.2 199.5,102.8 199.7,102.5 200.0,102.1 200.3,101.8 200.6,101.5 200.8,101.2 201.1,100.9 201.4,100.7 201.7,100.6 201.9,100.5 202.2,100.5 202.5,100.5 202.8,100.6 203.0,100.8 203.3,101.0 203.6,101.3 203.9,101.6 204.1,101.9 204.4,102.3 204.7,102.6 205.0,103.0 205.3,103.4 205.5,103.8 205.8,104.2 206.1,104.7 206.4,105.2 206.6,105.8 206.9,106.5 207.2,107.2 207.5,107.9 207.7,108.7 208.0,109.7 208.3,111.0 208.6,112.6 208.8,114.2 209.1,115.7 209.4,117.1 209.7,118.2 209.9,119.2 210.2,120.2 210.5,121.1 210.8,121.9 211.0,122.7 211.3,123.4 211.6,124.1 211.9,124.8 212.1,125.5 212.4,126.2 212.7,126.7 213.0,127.1 213.2,127.3 213.5,127.2 213.8,126.9 214.1,126.4 214.4,125.9 214.6,125.3 214.9,124.6 215.2,124.1 215.5,123.6 215.7,123.3 216.0,123.0 216.3,122.7 216.6,122.5 216.8,122.2 217.1,122.0 217.4,121.7 217.7,121.4 217.9,121.1 218.2,120.7 218.5,120.1 218.8,119.4 219.0,118.6 219.3,117.7 219.6,116.8 219.9,115.9 220.1,115.1 220.4,114.3 220.7,113.5 221.0,112.7 221.2,111.8 221.5,111.0 221.8,110.2 222.1,109.4 222.4,108.8 222.6,108.2 222.9,107.8 223.2,107.5 223.5,107.3 223.7,107.1 224.0,106.9 224.3,106.7 224.6,106.6 224.8,106.4 225.1,106.3 225.4,106.1 225.7,105.9 225.9,105.7 226.2,105.5 226.5,105.2 226.8,104.8 227.0,104.5 227.3,104.0 227.6,103.6 227.9,103.1 228.1,102.7 228.4,102.2 228.7,101.8 229.0,101.4 229.2,101.0 229.5,100.6 229.8,100.3 230.1,100.0 230.3,99.7 230.6,99.4 230.9,99.1 231.2,98.8 231.5,98.5 231.7,98.2 232.0,97.9 232.3,97.7 232.6,97.5 232.8,97.4 233.1,97.3 233.4,97.2 233.7,97.2 233.9,97.2 234.2,97.2 234.5,97.2 234.8,97.2 235.0,97.3 235.3,97.3 235.6,97.3 235.9,97.4 236.1,97.4 236.4,97.4 236.7,97.5 237.0,97.5 237.2,97.6 237.5,97.6 237.8,97.7 238.1,97.9 238.3,98.2 238.6,98.5 238.9,98.9 239.2,99.3 239.4,99.7 239.7,100.1 240.0,100.5 240.3,100.8 240.6,101.1 240.8,101.2 241.1,101.3 241.4,101.3 241.7,101.2 241.9,101.1 242.2,101.0 242.5,100.9 242.8,100.8 243.0,100.7 243.3,100.6 243.6,100.5 243.9,100.4 244.1,100.2 244.4,100.1 244.7,100.0 245.0,99.8 245.2,99.7 245.5,99.6 245.8,99.6 246.1,99.6 246.3,99.9 246.6,100.4 246.9,101.1 247.2,102.0 247.4,102.9 247.7,103.9 248.0,104.8 248.3,105.8 248.6,106.6 248.8,107.7 249.1,108.9 249.4,110.1 249.7,111.5 249.9,112.8 250.2,114.0 250.5,115.0 250.8,115.9 251.0,116.5 251.3,116.7 251.6,116.6 251.9,116.2 252.1,115.6 252.4,114.8 252.7,113.8 253.0,112.7 253.2,111.6 253.5,110.6 253.8,109.5 254.1,108.6 254.3,107.5 254.6,106.3 254.9,105.1 255.2,103.8 255.4,102.6 255.7,101.5 256.0,100.6 256.3,99.8 256.5,99.2 256.8,98.6 257.1,98.0 257.4,97.6 257.7,97.1 257.9,96.8 258.2,96.5 258.5,96.3" fill="none" stroke="#f2e02a" stroke-width="2.4" stroke-linejoin="round"/><polyline points="65.7,158.0 66.3,157.8 67.0,157.6 67.6,157.4 68.3,157.2 68.9,157.0 69.6,156.8 70.2,156.5 70.8,156.3 71.5,156.1 72.1,155.9 72.8,155.7 73.4,155.4 74.1,155.2 74.7,155.0 75.4,154.7 76.0,154.5 76.6,154.2 77.3,154.0 77.9,153.7 78.6,153.4 79.2,153.1 79.9,152.8 80.5,152.6 81.1,152.3 81.8,152.0 82.4,151.6 83.1,151.3 83.7,151.0 84.4,150.7 85.0,150.4 85.6,150.1 86.3,149.7 86.9,149.4 87.6,149.1 88.2,148.7 88.9,148.4 89.5,148.0 90.1,147.7 90.8,147.3 91.4,147.0 92.1,146.6 92.7,146.3 93.4,145.9 94.0,145.5 94.7,145.2 95.3,144.8 95.9,144.4 96.6,144.0 97.2,143.6 97.9,143.2 98.5,142.8 99.2,142.4 99.8,142.0 100.4,141.6 101.1,141.2 101.7,140.7 102.4,140.3 103.0,139.9 103.7,139.4 104.3,139.0 104.9,138.5 105.6,138.0 106.2,137.6 106.9,137.1 107.5,136.6 108.2,136.1 108.8,135.6 109.4,135.1 110.1,134.6 110.7,134.1 111.4,133.6 112.0,133.0 112.7,132.5 113.3,132.0 114.0,131.5 114.6,130.9 115.2,130.4 115.9,129.9 116.5,129.3 117.2,128.8 117.8,128.3 118.5,127.7 119.1,127.2 119.7,126.7 120.4,126.2 121.0,125.7 121.7,125.2 122.3,124.8 123.0,124.3 123.6,123.8 124.2,123.4 124.9,122.9 125.5,122.5 126.2,122.0 126.8,121.6 127.5,121.1 128.1,120.7 128.7,120.2 129.4,119.7 130.0,119.3 130.7,118.8 131.3,118.3 132.0,117.8 132.6,117.4 133.3,116.9 133.9,116.4 134.5,115.9 135.2,115.5 135.8,115.0 136.5,114.6 137.1,114.2 137.8,113.7 138.4,113.3 139.0,112.9 139.7,112.6 140.3,112.2 141.0,111.8 141.6,111.5 142.3,111.1 142.9,110.8 143.5,110.5 144.2,110.1 144.8,109.8 145.5,109.5 146.1,109.1 146.8,108.8 147.4,108.4 148.0,108.1 148.7,107.8 149.3,107.4 150.0,107.1 150.6,106.8 151.3,106.5 151.9,106.2 152.6,105.9 153.2,105.7 153.8,105.5 154.5,105.3 155.1,105.1 155.8,104.9 156.4,104.8 157.1,104.6 157.7,104.5 158.3,104.4 159.0,104.3 159.6,104.2 160.3,104.2 160.9,104.1 161.6,104.1 162.2,104.1 162.8,104.0 163.5,104.0 164.1,104.0 164.8,104.0 165.4,104.0 166.1,104.1 166.7,104.1 167.3,104.1 168.0,104.2 168.6,104.2 169.3,104.3 169.9,104.3 170.6,104.4 171.2,104.5 171.9,104.6 172.5,104.7 173.1,104.8 173.8,104.9 174.4,105.0 175.1,105.2 175.7,105.3 176.4,105.5 177.0,105.6 177.6,105.8 178.3,106.0 178.9,106.2 179.6,106.4 180.2,106.6 180.9,106.8 181.5,107.1 182.1,107.3 182.8,107.6 183.4,107.9 184.1,108.1 184.7,108.4 185.4,108.7 186.0,109.0 186.6,109.2 187.3,109.5 187.9,109.7 188.6,110.0 189.2,110.2 189.9,110.4 190.5,110.6 191.2,110.7 191.8,110.9 192.4,111.0 193.1,111.1 193.7,111.2 194.4,111.3 195.0,111.4 195.7,111.5 196.3,111.6 196.9,111.7 197.6,111.7 198.2,111.8 198.9,111.9 199.5,112.0 200.2,112.1 200.8,112.2 201.4,112.2 202.1,112.3 202.7,112.4 203.4,112.4 204.0,112.4 204.7,112.5 205.3,112.5 205.9,112.5 206.6,112.4 207.2,112.4 207.9,112.4 208.5,112.3 209.2,112.2 209.8,112.1 210.5,112.0 211.1,111.9 211.7,111.8 212.4,111.7 213.0,111.5 213.7,111.4 214.3,111.2 215.0,111.1 215.6,110.9 216.2,110.7 216.9,110.5 217.5,110.3 218.2,110.1 218.8,109.9 219.5,109.7 220.1,109.4 220.7,109.2 221.4,109.0 222.0,108.8 222.7,108.6 223.3,108.3 224.0,108.1 224.6,107.9 225.2,107.7 225.9,107.5 226.5,107.3 227.2,107.0 227.8,106.8 228.5,106.6 229.1,106.4 229.8,106.2 230.4,106.0 231.0,105.8 231.7,105.6 232.3,105.4 233.0,105.2 233.6,105.0 234.3,104.9 234.9,104.7 235.5,104.5 236.2,104.4 236.8,104.3 237.5,104.1 238.1,104.0 238.8,103.9 239.4,103.8 240.0,103.8 240.7,103.7 241.3,103.6 242.0,103.5 242.6,103.5 243.3,103.4 243.9,103.3 244.5,103.2 245.2,103.2 245.8,103.1 246.5,103.0 247.1,102.9 247.8,102.7 248.4,102.6 249.1,102.5 249.7,102.4 250.3,102.2 251.0,102.1 251.6,102.0 252.3,101.9 252.9,101.8 253.6,101.7 254.2,101.7 254.8,101.6 255.5,101.6 256.1,101.6 256.8,101.6 257.4,101.6 258.1,101.6" fill="none" stroke="#dd2b26" stroke-width="2.4" stroke-linejoin="round"/><path d="M258.48 101.6V169.6" stroke="#e86a6a" stroke-width="1" stroke-dasharray="6.5 4.1" fill="none"/><polyline points="258.5,169.6 259.1,169.5 259.6,169.5 260.2,169.4 260.8,169.4 261.4,169.3 262.0,169.2 262.6,169.2 263.1,169.1 263.7,169.0 264.3,169.0 264.9,168.9 265.5,168.9 266.1,168.8 266.6,168.7 267.2,168.7 267.8,168.6 268.4,168.6 269.0,168.5 269.6,168.4 270.1,168.4 270.7,168.3 271.3,168.2 271.9,168.2 272.5,168.1 273.1,168.1 273.6,168.0 274.2,167.9 274.8,167.9 275.4,167.8 276.0,167.7 276.6,167.7 277.1,167.6 277.7,167.6 278.3,167.5 278.9,167.4 279.5,167.4 280.1,167.3 280.6,167.3 281.2,167.2 281.8,167.1 282.4,167.1 283.0,167.0 283.5,166.9 284.1,166.9 284.7,166.8 285.3,166.8 285.9,166.7 286.5,166.6 287.0,166.6 287.6,166.5 288.2,166.5 288.8,166.4 289.4,166.3 290.0,166.3 290.5,166.2 291.1,166.1 291.7,166.1 292.3,166.0 292.9,166.0 293.5,165.9 294.0,165.8 294.6,165.8 295.2,165.7 295.8,165.6 296.4,165.6 297.0,165.5 297.5,165.5 298.1,165.4 298.7,165.3 299.3,165.3 299.9,165.2 300.5,165.2 301.0,165.1 301.6,165.0 302.2,165.0 302.8,164.9 303.4,164.8 304.0,164.8 304.5,164.7" fill="none" stroke="#dd2b26" stroke-width="2.4" stroke-dasharray="5.6 4.8"/></g><path d="M36.56 21.42H329.66V243.25H36.56ZM78.43 243.25v-3M78.43 21.42v3M120.30 243.25v-3M120.30 21.42v3M162.17 243.25v-3M162.17 21.42v3M204.05 243.25v-3M204.05 21.42v3M245.92 243.25v-3M245.92 21.42v3M287.79 243.25v-3M287.79 21.42v3M36.56 198.88h3M329.66 198.88h-3M36.56 154.52h3M329.66 154.52h-3M36.56 110.15h3M329.66 110.15h-3M36.56 65.79h3M329.66 65.79h-3" stroke="#4a4a4a" stroke-width="1" fill="none"/><text x="36.5" y="256.9" font-size="9.5" letter-spacing="-0.3" text-anchor="middle" fill="#1c1c1c">2008</text><text x="78.3" y="256.9" font-size="9.5" letter-spacing="-0.3" text-anchor="middle" fill="#1c1c1c">2009</text><text x="120.2" y="256.9" font-size="9.5" letter-spacing="-0.3" text-anchor="middle" fill="#1c1c1c">2010</text><text x="162.1" y="256.9" font-size="9.5" letter-spacing="-0.3" text-anchor="middle" fill="#1c1c1c">2011</text><text x="203.9" y="256.9" font-size="9.5" letter-spacing="-0.3" text-anchor="middle" fill="#1c1c1c">2012</text><text x="245.8" y="256.9" font-size="9.5" letter-spacing="-0.3" text-anchor="middle" fill="#1c1c1c">2013</text><text x="287.7" y="256.9" font-size="9.5" letter-spacing="-0.3" text-anchor="middle" fill="#1c1c1c">2014</text><text x="329.6" y="256.9" font-size="9.5" letter-spacing="-0.3" text-anchor="middle" fill="#1c1c1c">2015</text><text x="33.0" y="248.2" font-size="9.5" letter-spacing="-0.3" text-anchor="end" fill="#1c1c1c">-15</text><text x="33.0" y="203.9" font-size="9.5" letter-spacing="-0.3" text-anchor="end" fill="#1c1c1c">-10</text><text x="33.0" y="159.5" font-size="9.5" letter-spacing="-0.3" text-anchor="end" fill="#1c1c1c">-5</text><text x="33.0" y="115.2" font-size="9.5" letter-spacing="-0.3" text-anchor="end" fill="#1c1c1c">0</text><text x="33.0" y="70.8" font-size="9.5" letter-spacing="-0.3" text-anchor="end" fill="#1c1c1c">5</text><text x="33.0" y="26.4" font-size="9.5" letter-spacing="-0.3" text-anchor="end" fill="#1c1c1c">10</text><text x="183.1" y="15.7" font-size="16" font-weight="bold" text-anchor="middle" fill="#000">LS05</text><text x="185.4" y="275.7" font-size="16" text-anchor="middle" fill="#000">time/yr</text><text transform="translate(14.6 132.3) rotate(-90)" font-size="16" text-anchor="middle" fill="#000">E/mm</text></g>
<g><path d="M421.57 21.46V243.05M463.47 21.46V243.05M505.38 21.46V243.05M547.28 21.46V243.05M589.19 21.46V243.05M631.09 21.46V243.05" stroke="#262626" stroke-opacity="0.125" stroke-width="1" fill="none"/><path d="M379.66 220.89H673.00M379.66 198.73H673.00M379.66 176.57H673.00M379.66 154.41H673.00M379.66 132.25H673.00M379.66 110.10H673.00M379.66 87.94H673.00M379.66 65.78H673.00M379.66 43.62H673.00" stroke="#262626" stroke-opacity="0.125" stroke-width="1" fill="none"/><g clip-path="url(#cTR)"><polyline points="410.3,35.7 410.4,40.7 410.5,37.3 410.6,38.0 410.7,39.4 410.8,38.7 410.9,39.2 411.1,38.5 411.2,37.4 411.3,40.5 411.4,37.0 411.5,39.1 411.6,36.8 411.7,38.2 411.9,37.2 412.0,38.0 412.1,37.4 412.2,38.7 412.3,39.8 412.4,38.0 412.5,37.9 412.7,36.3 412.8,41.3 412.9,39.1 413.0,37.6 413.1,40.5 413.2,39.3 413.3,36.4 413.5,37.3 413.6,40.2 413.7,37.4 413.8,37.7 413.9,38.3 414.0,38.8 414.2,39.0 414.3,40.4 414.4,40.0 414.5,38.5 414.6,39.3 414.7,40.5 414.8,40.0 415.0,42.5 415.1,40.0 415.2,39.3 415.3,39.2 415.4,39.6 415.5,40.7 415.6,37.9 415.8,40.6 415.9,39.0 416.0,40.2 416.1,41.3 416.2,38.2 416.3,43.0 416.4,34.6 416.6,39.5 416.7,40.5 416.8,39.1 416.9,40.2 417.0,40.7 417.1,37.5 417.2,40.4 417.4,40.4 417.5,41.5 417.6,41.1 417.7,39.5 417.8,39.6 417.9,40.3 418.1,41.1 418.2,39.5 418.3,42.4 418.4,40.7 418.5,40.6 418.6,41.4 418.7,40.1 418.9,41.1 419.0,41.2 419.1,38.0 419.2,39.2 419.3,38.6 419.4,39.9 419.5,38.6 419.7,42.0 419.8,38.1 419.9,36.5 420.0,39.6 420.1,38.8 420.2,39.0 420.3,43.1 420.5,40.4 420.6,38.5 420.7,37.6 420.8,38.9 420.9,36.7 421.0,36.4 421.2,38.4 421.3,36.0 421.4,35.5 421.5,36.9 421.6,38.6 421.7,35.5 421.8,37.4 422.0,37.5 422.1,36.8 422.2,37.4 422.3,35.3 422.4,35.6 422.5,34.9 422.6,35.5 422.8,37.1 422.9,36.2 423.0,34.8 423.1,36.3 423.2,36.0 423.3,35.9 423.4,36.2 423.6,34.0 423.7,34.4 423.8,35.2 423.9,35.4 424.0,34.6 424.1,34.0 424.2,34.1 424.4,35.4 424.5,34.5 424.6,34.0 424.7,34.1 424.8,38.8 424.9,36.1 425.1,36.0 425.2,35.4 425.3,34.9 425.4,34.1 425.5,34.5 425.6,35.4 425.7,35.3 425.9,33.3 426.0,36.2 426.1,35.2 426.2,33.7 426.3,35.3 426.4,38.3 426.5,35.4 426.7,36.4 426.8,36.2 426.9,34.9 427.0,35.7 427.1,36.7 427.2,35.3 427.3,36.0 427.5,36.5 427.6,36.4 427.7,36.5 427.8,37.3 427.9,38.6 428.0,37.1 428.1,38.4 428.3,38.9 428.4,36.0 428.5,38.0 428.6,37.9 428.7,38.2 428.8,38.2 429.0,38.4 429.1,39.2 429.2,39.8 429.3,37.8 429.4,40.0 429.5,38.1 429.6,41.9 429.8,41.1 429.9,38.8 430.0,40.4 430.1,41.3 430.2,40.2 430.3,42.1 430.4,41.0 430.6,44.0 430.7,42.0 430.8,42.4 430.9,41.2 431.0,40.9 431.1,43.2 431.2,40.4 431.4,43.2 431.5,45.2 431.6,45.8 431.7,41.2 431.8,43.3 431.9,44.2 432.1,44.5 432.2,45.1 432.3,42.3 432.4,44.2 432.5,42.1 432.6,44.7 432.7,47.5 432.9,43.7 433.0,45.4 433.1,45.3 433.2,43.3 433.3,45.6 433.4,44.0 433.5,45.5 433.7,46.5 433.8,45.0 433.9,46.4 434.0,44.3 434.1,44.7 434.2,45.8 434.3,45.2 434.5,45.3 434.6,46.4 434.7,45.0 434.8,46.4 434.9,45.5 435.0,47.4 435.1,46.2 435.3,45.8 435.4,47.4 435.5,46.9 435.6,47.1 435.7,45.6 435.8,47.4 436.0,46.0 436.1,44.8 436.2,46.2 436.3,48.6 436.4,46.6 436.5,45.5 436.6,47.1 436.8,45.4 436.9,46.1 437.0,46.3 437.1,47.2 437.2,47.5 437.3,47.2 437.4,46.8 437.6,46.3 437.7,46.4 437.8,47.3 437.9,46.9 438.0,46.5 438.1,48.9 438.2,47.9 438.4,48.0 438.5,47.2 438.6,47.3 438.7,47.3 438.8,48.1 438.9,44.7 439.0,46.7 439.2,49.1 439.3,47.0 439.4,48.4 439.5,45.0 439.6,47.6 439.7,47.6 439.9,47.0 440.0,47.3 440.1,47.2 440.2,45.2 440.3,46.8 440.4,46.1 440.5,45.7 440.7,48.3 440.8,45.1 440.9,45.3 441.0,46.0 441.1,48.2 441.2,46.1 441.3,46.6 441.5,47.8 441.6,44.4 441.7,46.5 441.8,49.3 441.9,46.9 442.0,46.0 442.1,45.8 442.3,46.4 442.4,45.6 442.5,45.3 442.6,48.6 442.7,47.7 442.8,48.2 442.9,47.0 443.1,45.3 443.2,46.3 443.3,48.3 443.4,47.4 443.5,45.8 443.6,47.6 443.8,47.1 443.9,46.6 444.0,49.2 444.1,46.0 444.2,46.5 444.3,46.3 444.4,48.1 444.6,47.9 444.7,47.7 444.8,46.6 444.9,46.8 445.0,46.8 445.1,44.7 445.2,45.3 445.4,47.8 445.5,47.3 445.6,44.9 445.7,47.5 445.8,45.4 445.9,45.2 446.0,46.9 446.2,47.6 446.3,48.5 446.4,47.5 446.5,48.7 446.6,48.1 446.7,46.6 446.9,48.3 447.0,48.1 447.1,48.5 447.2,50.1 447.3,46.3 447.4,51.0 447.5,49.0 447.7,47.6 447.8,50.1 447.9,47.7 448.0,47.0 448.1,49.6 448.2,48.3 448.3,50.0 448.5,48.0 448.6,48.6 448.7,48.4 448.8,47.0 448.9,48.1 449.0,47.0 449.1,47.9 449.3,50.1 449.4,48.3 449.5,48.0 449.6,50.3 449.7,46.8 449.8,48.3 449.9,47.9 450.1,49.4 450.2,48.1 450.3,47.8 450.4,48.4 450.5,47.9 450.6,50.0 450.8,46.1 450.9,49.1 451.0,50.3 451.1,48.7 451.2,48.4 451.3,47.1 451.4,48.3 451.6,46.8 451.7,48.2 451.8,44.3 451.9,46.2 452.0,44.4 452.1,47.9 452.2,45.8 452.4,47.7 452.5,45.7 452.6,45.5 452.7,48.2 452.8,47.6 452.9,47.6 453.0,47.9 453.2,47.0 453.3,47.2 453.4,47.7 453.5,45.8 453.6,45.2 453.7,47.5 453.8,46.5 454.0,45.8 454.1,46.1 454.2,46.6 454.3,44.7 454.4,44.7 454.5,44.8 454.7,45.9 454.8,43.2 454.9,43.4 455.0,46.0 455.1,45.7 455.2,44.0 455.3,46.4 455.5,44.9 455.6,45.3 455.7,46.2 455.8,45.6 455.9,47.2 456.0,46.0 456.1,47.7 456.3,42.5 456.4,43.4 456.5,43.7 456.6,44.8 456.7,44.0 456.8,43.6 456.9,43.9 457.1,44.0 457.2,48.2 457.3,44.6 457.4,45.8 457.5,46.5 457.6,46.5 457.8,44.6 457.9,43.8 458.0,43.7 458.1,43.0 458.2,43.3 458.3,45.6 458.4,45.7 458.6,45.2 458.7,44.0 458.8,45.7 458.9,46.6 459.0,44.9 459.1,47.9 459.2,45.2 459.4,44.0 459.5,45.1 459.6,44.6 459.7,45.0 459.8,44.8 459.9,45.6 460.0,46.9 460.2,46.2 460.3,46.1 460.4,44.6 460.5,44.2 460.6,45.8 460.7,47.3 460.8,47.4 461.0,46.8 461.1,45.0 461.2,46.4 461.3,46.9 461.4,47.9 461.5,46.0 461.7,47.7 461.8,47.5 461.9,47.5 462.0,45.8 462.1,48.2 462.2,46.2 462.3,47.0 462.5,48.7 462.6,48.0 462.7,49.5 462.8,50.6 462.9,50.2 463.0,51.3 463.1,49.9 463.3,50.8 463.4,50.4 463.5,50.3 463.6,55.4 463.7,51.5 463.8,54.3 463.9,55.1 464.1,53.7 464.2,52.8 464.3,51.5 464.4,55.5 464.5,53.4 464.6,54.0 464.7,56.5 464.9,53.6 465.0,54.6 465.1,55.6 465.2,56.1 465.3,51.5 465.4,56.1 465.6,58.1 465.7,57.3 465.8,56.8 465.9,57.0 466.0,56.8 466.1,58.2 466.2,58.9 466.4,57.9 466.5,59.2 466.6,58.8 466.7,58.5 466.8,57.2 466.9,57.8 467.0,59.0 467.2,58.7 467.3,60.3 467.4,59.5 467.5,58.8 467.6,58.8 467.7,58.6 467.8,60.7 468.0,59.3 468.1,59.4 468.2,60.1 468.3,58.8 468.4,58.2 468.5,58.0 468.6,59.6 468.8,59.0 468.9,56.2 469.0,60.3 469.1,58.6 469.2,57.6 469.3,58.3 469.5,57.6 469.6,58.0 469.7,57.1 469.8,56.3 469.9,57.9 470.0,57.3 470.1,57.4 470.3,57.7 470.4,57.1 470.5,58.3 470.6,55.8 470.7,57.2 470.8,54.4 470.9,54.9 471.1,57.5 471.2,54.4 471.3,57.1 471.4,56.2 471.5,53.9 471.6,57.4 471.7,55.0 471.9,55.7 472.0,56.2 472.1,57.0 472.2,55.4 472.3,56.4 472.4,54.6 472.6,54.3 472.7,57.4 472.8,56.4 472.9,56.1 473.0,57.1 473.1,57.0 473.2,55.5 473.4,55.9 473.5,57.6 473.6,56.3 473.7,55.0 473.8,57.1 473.9,56.7 474.0,53.7 474.2,54.0 474.3,57.6 474.4,57.3 474.5,55.2 474.6,57.2 474.7,56.1 474.8,56.4 475.0,55.2 475.1,58.5 475.2,58.7 475.3,57.6 475.4,54.9 475.5,56.4 475.6,58.4 475.8,55.8 475.9,55.6 476.0,56.8 476.1,57.0 476.2,56.2 476.3,55.3 476.5,56.7 476.6,56.3 476.7,57.1 476.8,57.6 476.9,58.3 477.0,56.9 477.1,57.7 477.3,57.7 477.4,56.3 477.5,56.9 477.6,56.5 477.7,59.5 477.8,56.9 477.9,58.4 478.1,58.7 478.2,58.8 478.3,56.3 478.4,56.8 478.5,58.7 478.6,59.3 478.7,57.9 478.9,58.5 479.0,56.0 479.1,59.8 479.2,60.3 479.3,58.4 479.4,58.1 479.5,58.0 479.7,57.2 479.8,55.7 479.9,58.6 480.0,53.8 480.1,60.4 480.2,58.0 480.4,57.3 480.5,58.7 480.6,56.9 480.7,58.3 480.8,56.6 480.9,58.0 481.0,59.7 481.2,59.2 481.3,60.3 481.4,60.6 481.5,58.1 481.6,55.6 481.7,56.1 481.8,58.5 482.0,58.7 482.1,59.8 482.2,57.2 482.3,58.0 482.4,59.1 482.5,57.6 482.6,57.7 482.8,60.6 482.9,57.4 483.0,58.2 483.1,58.8 483.2,58.8 483.3,57.8 483.4,56.4 483.6,56.0 483.7,59.6 483.8,58.9 483.9,57.0 484.0,59.6 484.1,59.0 484.3,60.3 484.4,55.8 484.5,56.7 484.6,57.4 484.7,57.7 484.8,58.5 484.9,58.4 485.1,57.2 485.2,58.8 485.3,56.4 485.4,58.5 485.5,58.9 485.6,56.3 485.7,58.0 485.9,57.1 486.0,58.3 486.1,60.5 486.2,57.1 486.3,59.4 486.4,56.4 486.5,59.6 486.7,60.0 486.8,57.3 486.9,57.1 487.0,57.5 487.1,59.1 487.2,56.5 487.4,59.4 487.5,58.1 487.6,58.5 487.7,58.0 487.8,56.5 487.9,58.3 488.0,56.8 488.2,56.6 488.3,59.6 488.4,58.9 488.5,57.9 488.6,58.2 488.7,57.1 488.8,59.8 489.0,56.5 489.1,56.5 489.2,57.6 489.3,59.1 489.4,57.4 489.5,58.0 489.6,56.7 489.8,57.5 489.9,56.5 490.0,57.9 490.1,55.6 490.2,60.2 490.3,58.6 490.4,56.8 490.6,59.2 490.7,56.5 490.8,58.9 490.9,57.3 491.0,58.6 491.1,58.0 491.3,54.5 491.4,57.7 491.5,58.1 491.6,55.0 491.7,57.7 491.8,58.9 491.9,56.7 492.1,56.8 492.2,56.4 492.3,55.8 492.4,59.2 492.5,56.8 492.6,56.8 492.7,58.2 492.9,58.0 493.0,62.0 493.1,59.1 493.2,56.3 493.3,60.7 493.4,59.3 493.5,58.4 493.7,58.1 493.8,56.9 493.9,61.1 494.0,58.9 494.1,58.0 494.2,60.7 494.3,59.3 494.5,57.0 494.6,57.8 494.7,58.8 494.8,62.8 494.9,59.9 495.0,59.3 495.2,58.8 495.3,60.1 495.4,56.4 495.5,60.5 495.6,61.6 495.7,60.2 495.8,61.0 496.0,61.1 496.1,61.0 496.2,60.1 496.3,60.9 496.4,62.7 496.5,62.1 496.6,60.9 496.8,62.2 496.9,60.4 497.0,60.9 497.1,63.2 497.2,61.7 497.3,59.8 497.4,60.4 497.6,62.5 497.7,61.4 497.8,63.4 497.9,64.4 498.0,62.1 498.1,62.5 498.3,62.3 498.4,63.0 498.5,62.6 498.6,63.7 498.7,62.6 498.8,62.2 498.9,63.3 499.1,62.3 499.2,65.5 499.3,64.4 499.4,61.7 499.5,61.4 499.6,63.2 499.7,63.7 499.9,65.1 500.0,63.1 500.1,62.6 500.2,65.3 500.3,62.8 500.4,62.8 500.5,62.8 500.7,64.7 500.8,62.6 500.9,65.0 501.0,61.3 501.1,62.6 501.2,64.3 501.3,61.2 501.5,61.3 501.6,63.4 501.7,59.8 501.8,63.6 501.9,61.9 502.0,60.7 502.2,64.9 502.3,60.8 502.4,62.0 502.5,61.9 502.6,63.1 502.7,61.3 502.8,63.0 503.0,62.8 503.1,62.1 503.2,63.1 503.3,59.7 503.4,63.2 503.5,62.5 503.6,62.0 503.8,61.7 503.9,60.8 504.0,60.8 504.1,62.3 504.2,62.5 504.3,62.1 504.4,61.2 504.6,54.3 504.7,59.4 504.8,65.1 504.9,60.1 505.0,59.7 505.1,62.7 505.2,62.8 505.4,64.0 505.5,64.7 505.6,64.0 505.7,64.0 505.8,64.7 505.9,65.8 506.1,64.5 506.2,63.6 506.3,65.0 506.4,64.5 506.5,67.2 506.6,65.0 506.7,65.0 506.9,66.4 507.0,67.1 507.1,64.5 507.2,66.1 507.3,64.5 507.4,65.6 507.5,64.4 507.7,65.5 507.8,66.9 507.9,65.2 508.0,65.5 508.1,64.3 508.2,65.6 508.3,65.5 508.5,64.0 508.6,63.6 508.7,64.1 508.8,63.7 508.9,64.4 509.0,66.0 509.1,63.8 509.3,64.4 509.4,64.7 509.5,64.6 509.6,61.7 509.7,64.5 509.8,64.7 510.0,64.8 510.1,64.2 510.2,63.7 510.3,65.3 510.4,66.1 510.5,63.2 510.6,65.4 510.8,62.9 510.9,62.9 511.0,61.5 511.1,60.7 511.2,62.1 511.3,63.1 511.4,63.7 511.6,63.1 511.7,62.0 511.8,64.5 511.9,59.9 512.0,61.8 512.1,60.9 512.2,62.0 512.4,61.5 512.5,62.5 512.6,62.1 512.7,63.8 512.8,61.6 512.9,59.9 513.1,61.8 513.2,61.7 513.3,63.5 513.4,55.7 513.5,63.7 513.6,62.1 513.7,63.2 513.9,64.8 514.0,62.6 514.1,64.1 514.2,64.2 514.3,64.2 514.4,65.0 514.5,65.7 514.7,64.9 514.8,66.3 514.9,65.9 515.0,67.0 515.1,68.2 515.2,67.4 515.3,67.4 515.5,67.0 515.6,65.8 515.7,69.6 515.8,67.6 515.9,70.7 516.0,69.5 516.1,69.1 516.3,71.4 516.4,71.2 516.5,68.9 516.6,69.2 516.7,69.6 516.8,70.6 517.0,67.2 517.1,70.1 517.2,71.1 517.3,68.1 517.4,69.4 517.5,70.7 517.6,68.8 517.8,70.1 517.9,69.5 518.0,70.0 518.1,71.5 518.2,69.1 518.3,70.1 518.4,71.6 518.6,71.3 518.7,69.2 518.8,70.8 518.9,70.3 519.0,69.6 519.1,70.2 519.2,72.3 519.4,69.6 519.5,69.3 519.6,69.4 519.7,68.4 519.8,70.0 519.9,69.5 520.0,68.5 520.2,70.8 520.3,68.3 520.4,68.3 520.5,69.5 520.6,68.2 520.7,69.4 520.9,71.4 521.0,69.0 521.1,69.9 521.2,69.7 521.3,70.0 521.4,68.5 521.5,69.4 521.7,70.9 521.8,69.3 521.9,69.0 522.0,70.7 522.1,70.2 522.2,70.1 522.3,70.3 522.5,69.1 522.6,68.2 522.7,67.1 522.8,67.9 522.9,68.0 523.0,67.8 523.1,67.6 523.3,69.6 523.4,68.3 523.5,68.7 523.6,69.3 523.7,67.7 523.8,69.7 524.0,69.5 524.1,70.7 524.2,68.6 524.3,69.3 524.4,69.2 524.5,69.0 524.6,68.6 524.8,70.3 524.9,69.8 525.0,71.7 525.1,72.5 525.2,72.2 525.3,68.1 525.4,72.2 525.6,66.8 525.7,68.4 525.8,70.8 525.9,68.4 526.0,68.2 526.1,66.7 526.2,67.8 526.4,70.0 526.5,71.7 526.6,70.3 526.7,71.5 526.8,72.6 526.9,72.6 527.0,69.1 527.2,71.7 527.3,71.1 527.4,71.9 527.5,70.8 527.6,71.2 527.7,71.4 527.9,72.2 528.0,72.4 528.1,71.5 528.2,70.1 528.3,67.7 528.4,68.8 528.5,67.7 528.7,69.2 528.8,69.7 528.9,71.1 529.0,69.3 529.1,71.7 529.2,69.3 529.3,66.7 529.5,68.2 529.6,67.0 529.7,68.7 529.8,69.7 529.9,68.4 530.0,68.2 530.1,66.1 530.3,65.0 530.4,68.2 530.5,67.6 530.6,67.2 530.7,67.3 530.8,68.3 530.9,66.6 531.1,66.3 531.2,66.2 531.3,68.1 531.4,66.8 531.5,68.8 531.6,65.5 531.8,67.9 531.9,67.0 532.0,67.3 532.1,67.5 532.2,68.1 532.3,69.0 532.4,64.7 532.6,66.6 532.7,66.6 532.8,64.5 532.9,67.2 533.0,62.3 533.1,67.2 533.2,65.8 533.4,66.7 533.5,67.0 533.6,67.8 533.7,67.2 533.8,66.2 533.9,70.2 534.0,67.0 534.2,68.4 534.3,68.3 534.4,70.4 534.5,67.3 534.6,69.4 534.7,68.8 534.8,67.2 535.0,71.0 535.1,69.7 535.2,71.6 535.3,70.8 535.4,70.2 535.5,70.1 535.7,70.2 535.8,70.7 535.9,68.1 536.0,70.3 536.1,72.4 536.2,71.8 536.3,72.9 536.5,71.3 536.6,71.8 536.7,72.1 536.8,69.0 536.9,70.9 537.0,71.3 537.1,71.2 537.3,71.0 537.4,69.0 537.5,70.1 537.6,69.2 537.7,74.3 537.8,70.0 537.9,69.0 538.1,67.8 538.2,70.1 538.3,72.1 538.4,69.2 538.5,70.6 538.6,72.0 538.8,61.7 538.9,68.3 539.0,68.1 539.1,68.5 539.2,70.7 539.3,66.2 539.4,70.7 539.6,69.3 539.7,70.9 539.8,67.5 539.9,68.5 540.0,68.0 540.1,68.9 540.2,69.1 540.4,68.8 540.5,71.4 540.6,67.9 540.7,68.0 540.8,69.6 540.9,69.2 541.0,68.8 541.2,67.3 541.3,68.7 541.4,69.2 541.5,69.9 541.6,71.1 541.7,70.1 541.8,69.3 542.0,69.7 542.1,69.4 542.2,68.6 542.3,69.0 542.4,69.3 542.5,68.8 542.7,69.4 542.8,69.7 542.9,69.2 543.0,65.6 543.1,68.3 543.2,71.4 543.3,68.9 543.5,69.9 543.6,68.6 543.7,71.4 543.8,71.2 543.9,68.7 544.0,69.8 544.1,69.9 544.3,70.0 544.4,70.1 544.5,69.1 544.6,69.9 544.7,72.0 544.8,70.6 544.9,70.0 545.1,68.0 545.2,69.7 545.3,70.2 545.4,68.7 545.5,72.4 545.6,70.1 545.7,69.9 545.9,71.9 546.0,68.9 546.1,69.5 546.2,70.3 546.3,71.4 546.4,69.7 546.6,68.2 546.7,69.8 546.8,71.2 546.9,69.3 547.0,71.8 547.1,72.5 547.2,70.9 547.4,70.6 547.5,70.1 547.6,70.4 547.7,69.3 547.8,69.9 547.9,70.4 548.0,70.2 548.2,68.8 548.3,68.4 548.4,68.5 548.5,68.7 548.6,73.5 548.7,67.9 548.8,69.9 549.0,69.2 549.1,71.5 549.2,67.7 549.3,69.1 549.4,70.2 549.5,69.3 549.7,69.9 549.8,70.4 549.9,68.9 550.0,70.1 550.1,71.3 550.2,70.3 550.3,69.7 550.5,70.9 550.6,68.1 550.7,71.0 550.8,67.6 550.9,68.7 551.0,71.0 551.1,69.7 551.3,68.5 551.4,70.3 551.5,71.5 551.6,69.9 551.7,67.7 551.8,72.0 551.9,69.5 552.1,70.2 552.2,70.5 552.3,70.8 552.4,70.8 552.5,69.2 552.6,69.8 552.7,72.4 552.9,68.8 553.0,72.3 553.1,70.0 553.2,70.6 553.3,69.4 553.4,70.5 553.6,69.7 553.7,71.1 553.8,72.0 553.9,70.8 554.0,68.7 554.1,72.2 554.2,70.0 554.4,71.9 554.5,71.4 554.6,72.4 554.7,71.3 554.8,73.7 554.9,73.7 555.0,71.2 555.2,74.1 555.3,70.5 555.4,72.7 555.5,72.2 555.6,72.5 555.7,72.2 555.8,74.3 556.0,73.3 556.1,73.1 556.2,71.8 556.3,71.8 556.4,71.7 556.5,72.9 556.6,73.7 556.8,70.7 556.9,72.8 557.0,72.7 557.1,74.3 557.2,72.9 557.3,72.4 557.5,74.0 557.6,72.9 557.7,73.9 557.8,76.5 557.9,75.1 558.0,75.1 558.1,74.1 558.3,75.9 558.4,75.5 558.5,76.2 558.6,75.2 558.7,75.1 558.8,74.1 558.9,74.5 559.1,75.3 559.2,75.3 559.3,75.6 559.4,75.7 559.5,74.0 559.6,79.0 559.7,76.2 559.9,75.7 560.0,74.8 560.1,77.6 560.2,75.9 560.3,74.3 560.4,76.9 560.5,78.8 560.7,76.9 560.8,76.1 560.9,75.8 561.0,77.7 561.1,80.3 561.2,76.6 561.4,77.8 561.5,77.5 561.6,78.2 561.7,76.5 561.8,75.2 561.9,77.3 562.0,75.9 562.2,78.2 562.3,76.7 562.4,75.6 562.5,78.9 562.6,75.7 562.7,81.0 562.8,79.5 563.0,79.0 563.1,78.4 563.2,76.0 563.3,77.7 563.4,77.4 563.5,76.3 563.6,77.0 563.8,76.9 563.9,77.5 564.0,75.7 564.1,78.0 564.2,75.0 564.3,77.4 564.5,78.0 564.6,76.2 564.7,76.4 564.8,79.3 564.9,76.6 565.0,78.5 565.1,77.8 565.3,75.8 565.4,77.7 565.5,76.2 565.6,77.0 565.7,74.1 565.8,76.5 565.9,77.7 566.1,75.7 566.2,77.2 566.3,75.9 566.4,75.9 566.5,74.7 566.6,75.5 566.7,75.5 566.9,75.2 567.0,75.6 567.1,75.0 567.2,74.3 567.3,74.1 567.4,75.6 567.5,77.0 567.7,75.7 567.8,74.2 567.9,77.4 568.0,74.8 568.1,73.5 568.2,74.6 568.4,75.1 568.5,71.4 568.6,71.7 568.7,73.6 568.8,71.5 568.9,71.4 569.0,74.3 569.2,69.5 569.3,73.9 569.4,73.0 569.5,73.9 569.6,72.4 569.7,74.1 569.8,72.4 570.0,71.1 570.1,72.1 570.2,72.6 570.3,70.3 570.4,73.3 570.5,71.0 570.6,72.5 570.8,71.8 570.9,72.0 571.0,71.8 571.1,72.0 571.2,72.9 571.3,72.6 571.4,71.3 571.6,72.0 571.7,73.2 571.8,72.6 571.9,72.6 572.0,71.8 572.1,71.5 572.3,71.5 572.4,72.4 572.5,71.6 572.6,73.3 572.7,75.1 572.8,71.6 572.9,73.6 573.1,72.7 573.2,73.0 573.3,70.7 573.4,73.2 573.5,71.2 573.6,72.1 573.7,73.0 573.9,73.4 574.0,70.9 574.1,71.0 574.2,70.5 574.3,69.2 574.4,71.1 574.5,71.1 574.7,71.6 574.8,71.3 574.9,71.8 575.0,72.5 575.1,69.0 575.2,73.7 575.3,71.1 575.5,70.8 575.6,71.2 575.7,72.5 575.8,71.6 575.9,71.9 576.0,72.7 576.2,71.4 576.3,71.8 576.4,72.0 576.5,70.5 576.6,72.6 576.7,70.8 576.8,72.1 577.0,70.8 577.1,71.2 577.2,71.0 577.3,72.5 577.4,72.3 577.5,72.4 577.6,71.1 577.8,70.4 577.9,70.0 578.0,71.9 578.1,71.2 578.2,73.3 578.3,74.0 578.4,72.4 578.6,72.1 578.7,73.2 578.8,73.5 578.9,70.7 579.0,72.3 579.1,73.4 579.3,68.6 579.4,71.2 579.5,71.8 579.6,70.6 579.7,72.4 579.8,69.5 579.9,73.3 580.1,73.1 580.2,71.7 580.3,72.5 580.4,69.8 580.5,73.5 580.6,72.5 580.7,74.0 580.9,71.0 581.0,70.4 581.1,71.3 581.2,69.0 581.3,72.3 581.4,71.5 581.5,73.7 581.7,72.2 581.8,72.2 581.9,72.4 582.0,72.7 582.1,73.3 582.2,65.6 582.3,73.8 582.5,71.5 582.6,73.9 582.7,69.5 582.8,70.0 582.9,70.7 583.0,72.4 583.2,72.9 583.3,70.7 583.4,72.0 583.5,71.6 583.6,73.2 583.7,71.1 583.8,73.1 584.0,72.4 584.1,74.7 584.2,73.5 584.3,73.2 584.4,73.4 584.5,73.4 584.6,72.0 584.8,73.1 584.9,71.6 585.0,76.1 585.1,72.5 585.2,72.7 585.3,75.2 585.4,70.4 585.6,72.4 585.7,74.8 585.8,74.4 585.9,72.9 586.0,74.1 586.1,73.2 586.2,74.9 586.4,73.5 586.5,72.6 586.6,73.5 586.7,76.6 586.8,73.2 586.9,73.9 587.1,75.1 587.2,72.3 587.3,76.2 587.4,71.8 587.5,74.8 587.6,72.1 587.7,74.1 587.9,75.6 588.0,73.8 588.1,73.5 588.2,73.2 588.3,72.6 588.4,74.9 588.5,73.2 588.7,72.8 588.8,74.0 588.9,74.8 589.0,74.7 589.1,72.6 589.2,72.5 589.3,74.4 589.5,75.0 589.6,71.8 589.7,75.1 589.8,73.0 589.9,74.1 590.0,75.1 590.2,72.8 590.3,71.5 590.4,71.1 590.5,70.0 590.6,72.9 590.7,71.4 590.8,69.2 591.0,73.1 591.1,73.4 591.2,70.4 591.3,72.7 591.4,72.2 591.5,72.5 591.6,72.2 591.8,72.7 591.9,70.9 592.0,70.2 592.1,72.1 592.2,73.2 592.3,71.3 592.4,73.1 592.6,71.9 592.7,69.5 592.8,68.1 592.9,70.4 593.0,72.0 593.1,69.7 593.2,73.2 593.4,71.3 593.5,68.5 593.6,69.4 593.7,71.9 593.8,72.2 593.9,69.1 594.1,70.1 594.2,70.8 594.3,69.6 594.4,70.8 594.5,72.4 594.6,69.2 594.7,71.0 594.9,71.5 595.0,72.0 595.1,70.2 595.2,71.5 595.3,69.9 595.4,71.1 595.5,69.6 595.7,71.5 595.8,74.7 595.9,73.7 596.0,72.8 596.1,70.8 596.2,68.1 596.3,73.4 596.5,73.3 596.6,71.8 596.7,71.8 596.8,73.3 596.9,72.6 597.0,74.8 597.1,73.3 597.3,72.0 597.4,71.2 597.5,73.6 597.6,73.8 597.7,73.1 597.8,72.5 598.0,77.1 598.1,75.1 598.2,73.9 598.3,73.3 598.4,75.5 598.5,76.4 598.6,74.4 598.8,74.7 598.9,74.1 599.0,75.4 599.1,76.4 599.2,76.3 599.3,77.1 599.4,77.2 599.6,76.8 599.7,76.9 599.8,75.0 599.9,78.0 600.0,76.6 600.1,77.4 600.2,75.0 600.4,76.6 600.5,77.4 600.6,76.1 600.7,77.1 600.8,77.8 600.9,75.5 601.0,76.5 601.2,75.4 601.3,76.1 601.4,76.7 601.5,77.5 601.6,79.0 601.7,76.9 601.3,227.3 601.6,227.4 601.6,219.1 601.9,227.1 602.0,221.9 602.0,221.1 602.0,224.6 602.0,222.4 602.2,225.1 602.2,225.5 602.4,227.3 602.5,221.9 602.6,225.0 602.8,216.0 602.8,222.5 603.0,217.1 603.2,226.7 603.2,218.5 603.3,216.6 603.5,218.8 604.0,226.2 604.4,215.3 604.6,218.2 604.7,223.7 604.7,216.9 605.0,226.4 605.0,225.9 605.1,227.5 605.4,220.9 605.5,223.3 605.6,226.9 605.7,221.3 605.9,216.8 605.9,223.6 606.1,220.2 606.3,224.8 606.4,221.1 606.5,223.5 606.5,224.5 606.5,226.0 606.5,219.3 607.0,221.4 607.2,231.2 607.4,223.3 607.7,211.2 607.8,228.9 607.8,224.9 607.9,217.8 608.0,226.1 608.1,224.7 608.1,220.0 608.6,215.8 608.7,212.6 608.7,222.5 608.8,217.7 609.0,218.7 609.2,212.4 609.4,215.2 609.4,211.1 609.9,224.2 610.0,221.8 610.2,214.4 610.2,228.4 610.3,212.2 610.3,215.7 610.3,213.3 610.4,225.6 610.6,210.3 610.6,216.3 610.6,225.4 610.7,218.1 610.8,211.4 610.8,220.1 610.8,223.2 611.2,220.8 611.5,213.2 611.6,224.5 611.9,224.5 612.1,213.2 612.3,209.1 612.5,222.5 612.6,209.9 612.6,222.9 612.6,220.7 612.9,219.8 613.1,219.3 613.2,223.0 613.3,217.1 613.9,221.1 613.9,217.6 614.1,218.2 614.5,205.2 614.5,219.1 614.6,212.0 614.9,228.9 615.2,212.0 615.6,217.5 615.6,227.0 615.7,215.7 615.7,220.8 615.8,223.4 615.9,221.4 615.9,228.3 616.0,209.4 616.3,216.4 616.4,211.0 616.8,214.2 616.8,217.4 616.9,218.1 617.0,216.0 617.2,203.9 617.2,219.4 617.2,226.3 617.4,226.6 617.5,219.1 617.7,215.6 617.9,215.4 617.9,209.6 617.9,212.8 618.1,225.3 618.2,219.9 618.4,221.2 618.4,226.4 618.5,211.4 618.7,209.6 618.8,227.2 618.8,214.4 619.0,226.4 619.0,207.1 619.1,213.8 619.2,226.0 619.3,217.3 619.4,224.4 619.4,226.5 619.5,211.6 619.7,215.2 619.8,204.0 619.8,203.4 620.2,207.4 620.4,218.5 620.7,205.8 620.9,224.7 621.0,210.8 621.4,219.2 621.5,208.5 621.6,227.9 621.6,214.1 621.7,227.6 621.9,230.5 622.1,214.9 622.2,225.2 622.3,213.2 622.7,217.4 622.9,223.0 623.2,217.4 623.4,218.2 623.6,227.1 623.6,230.9 624.0,212.8 624.6,217.3 624.8,210.8 625.0,221.3 625.0,216.9 625.4,214.8 625.6,227.5 626.1,215.6 626.1,222.5 626.2,222.3 626.2,225.5 626.2,220.2 626.3,224.4 626.7,237.1 626.8,227.2 627.2,218.3 627.4,225.0 627.5,215.0 627.7,215.2 628.2,220.3 628.2,216.9 628.3,218.6 628.4,221.1 628.9,220.2 629.1,219.2 629.1,222.8 629.3,221.8 629.7,227.0 629.7,224.8 630.2,225.4 630.4,227.3 630.6,223.4 630.7,221.7 630.8,222.2 631.0,226.9 631.3,227.6 631.6,227.2 631.8,220.9 632.0,224.3 632.1,217.6 632.2,225.8 632.4,216.5 632.5,219.2 632.5,218.0 632.7,238.4 632.9,213.9 633.1,223.5 633.3,216.4 633.4,214.3 633.4,219.6 633.5,216.2 633.5,218.3 634.6,217.6 634.6,217.4 634.8,220.6 635.2,225.3 635.2,206.9 635.3,209.1 636.0,221.4 636.2,215.4 636.7,215.0 636.8,202.4 636.9,211.2 637.0,209.2 637.0,209.5 637.1,225.8 637.3,213.1 637.4,204.3 637.5,205.9 637.5,203.5 637.7,227.5 637.8,206.7 637.8,221.8 638.5,206.9 639.1,216.8 639.2,215.1 639.3,215.7 639.3,228.1 639.6,205.3 639.8,213.8 640.1,224.6 640.3,215.8 640.3,228.3 640.4,223.1 640.5,217.3 640.8,216.0 640.9,226.4 641.2,220.3 641.2,222.1 641.3,221.5 641.5,218.9 641.5,228.2 641.5,227.7 641.5,216.9 641.8,212.3 641.8,207.8 642.0,212.3 642.1,226.8 642.2,210.9 642.2,208.9 642.4,210.6 642.5,213.7 642.7,223.2 642.7,216.3 642.8,219.4 642.8,227.7 642.9,217.6 643.0,222.7 643.1,208.8 643.2,214.6 643.2,217.8 643.6,228.6 643.8,218.6 643.9,212.5 643.9,218.6 644.0,222.4 644.2,219.3 644.2,217.3 644.3,220.5 644.5,222.8 644.7,218.1 644.8,213.8 645.0,224.3 645.0,212.8 645.3,236.1 645.4,223.0 645.6,222.6 645.6,230.4 645.8,223.4 645.8,228.3 645.8,226.3 645.8,214.5 645.9,222.3 646.0,214.4 646.1,220.8 646.3,220.5 646.4,221.7 646.7,215.7 646.9,221.5 647.0,226.0 647.3,226.1 647.4,227.1 445.0,27.7 443.8,37.4 573.3,82.8 533.5,76.6" fill="none" stroke="none" marker-start="url(#m)" marker-mid="url(#m)" marker-end="url(#m)"/><polyline points="408.9,38.4 409.2,38.4 409.5,38.4 409.7,38.4 410.0,38.4 410.3,38.5 410.6,38.5 410.8,38.5 411.1,38.6 411.4,38.6 411.7,38.6 411.9,38.7 412.2,38.7 412.5,38.8 412.8,38.8 413.0,38.9 413.3,39.0 413.6,39.1 413.9,39.2 414.1,39.3 414.4,39.4 414.7,39.5 415.0,39.6 415.2,39.6 415.5,39.7 415.8,39.8 416.1,39.8 416.3,39.9 416.6,40.0 416.9,40.0 417.2,40.1 417.4,40.2 417.7,40.2 418.0,40.3 418.3,40.3 418.5,40.3 418.8,40.3 419.1,40.1 419.4,39.9 419.6,39.7 419.9,39.4 420.2,39.0 420.5,38.7 420.7,38.3 421.0,38.0 421.3,37.7 421.6,37.4 421.8,37.1 422.1,36.8 422.4,36.5 422.7,36.2 423.0,35.9 423.2,35.7 423.5,35.4 423.8,35.2 424.1,35.1 424.3,35.0 424.6,35.0 424.9,35.0 425.2,35.1 425.4,35.2 425.7,35.3 426.0,35.5 426.3,35.7 426.5,35.9 426.8,36.1 427.1,36.3 427.4,36.5 427.6,36.8 427.9,37.0 428.2,37.3 428.5,37.7 428.7,38.0 429.0,38.5 429.3,39.0 429.6,39.4 429.8,39.9 430.1,40.5 430.4,40.9 430.7,41.4 430.9,41.9 431.2,42.3 431.5,42.7 431.8,43.1 432.0,43.6 432.3,44.0 432.6,44.4 432.9,44.8 433.1,45.1 433.4,45.4 433.7,45.6 434.0,45.7 434.2,45.9 434.5,46.0 434.8,46.1 435.1,46.3 435.3,46.4 435.6,46.5 435.9,46.6 436.2,46.7 436.4,46.7 436.7,46.8 437.0,46.8 437.3,46.9 437.5,46.9 437.8,47.0 438.1,47.0 438.4,47.0 438.6,47.0 438.9,47.0 439.2,47.1 439.5,47.1 439.7,47.1 440.0,47.1 440.3,47.1 440.6,47.1 440.8,47.2 441.1,47.2 441.4,47.2 441.7,47.2 441.9,47.2 442.2,47.1 442.5,47.1 442.8,47.1 443.0,47.1 443.3,47.1 443.6,47.0 443.9,47.0 444.1,47.0 444.4,47.0 444.7,46.9 445.0,46.9 445.2,47.0 445.5,47.0 445.8,47.1 446.1,47.3 446.4,47.4 446.6,47.6 446.9,47.8 447.2,48.0 447.5,48.2 447.7,48.4 448.0,48.5 448.3,48.6 448.6,48.7 448.8,48.7 449.1,48.7 449.4,48.6 449.7,48.5 449.9,48.4 450.2,48.2 450.5,48.0 450.8,47.8 451.0,47.6 451.3,47.4 451.6,47.1 451.9,46.9 452.1,46.7 452.4,46.5 452.7,46.3 453.0,46.2 453.2,46.1 453.5,46.0 453.8,45.9 454.1,45.8 454.3,45.7 454.6,45.7 454.9,45.6 455.2,45.5 455.4,45.4 455.7,45.4 456.0,45.3 456.3,45.3 456.5,45.2 456.8,45.2 457.1,45.2 457.4,45.1 457.6,45.1 457.9,45.1 458.2,45.1 458.5,45.1 458.7,45.2 459.0,45.3 459.3,45.4 459.6,45.6 459.8,45.7 460.1,45.9 460.4,46.1 460.7,46.3 460.9,46.6 461.2,46.8 461.5,47.1 461.8,47.4 462.0,47.9 462.3,48.5 462.6,49.1 462.9,49.8 463.1,50.5 463.4,51.2 463.7,51.8 464.0,52.4 464.2,53.0 464.5,53.7 464.8,54.3 465.1,54.9 465.3,55.5 465.6,56.0 465.9,56.5 466.2,57.0 466.4,57.5 466.7,58.0 467.0,58.5 467.3,58.9 467.5,59.3 467.8,59.5 468.1,59.6 468.4,59.5 468.6,59.3 468.9,59.0 469.2,58.7 469.5,58.3 469.8,57.9 470.0,57.5 470.3,57.1 470.6,56.8 470.9,56.5 471.1,56.3 471.4,56.2 471.7,56.1 472.0,56.0 472.2,55.9 472.5,55.8 472.8,55.7 473.1,55.7 473.3,55.6 473.6,55.6 473.9,55.6 474.2,55.6 474.4,55.7 474.7,55.8 475.0,55.9 475.3,56.0 475.5,56.2 475.8,56.4 476.1,56.6 476.4,56.8 476.6,57.0 476.9,57.2 477.2,57.3 477.5,57.5 477.7,57.6 478.0,57.7 478.3,57.8 478.6,57.8 478.8,57.9 479.1,58.0 479.4,58.1 479.7,58.2 479.9,58.2 480.2,58.3 480.5,58.3 480.8,58.4 481.0,58.4 481.3,58.5 481.6,58.5 481.9,58.5 482.1,58.4 482.4,58.4 482.7,58.4 483.0,58.3 483.2,58.3 483.5,58.2 483.8,58.2 484.1,58.1 484.3,58.0 484.6,58.0 484.9,57.9 485.2,57.9 485.4,57.9 485.7,57.8 486.0,57.8 486.3,57.7 486.5,57.7 486.8,57.7 487.1,57.6 487.4,57.6 487.6,57.6 487.9,57.5 488.2,57.5 488.5,57.5 488.7,57.4 489.0,57.4 489.3,57.4 489.6,57.4 489.8,57.4 490.1,57.4 490.4,57.4 490.7,57.4 490.9,57.4 491.2,57.5 491.5,57.6 491.8,57.7 492.0,57.8 492.3,58.0 492.6,58.1 492.9,58.3 493.2,58.5 493.4,58.6 493.7,58.8 494.0,59.0 494.3,59.1 494.5,59.3 494.8,59.6 495.1,59.8 495.4,60.1 495.6,60.4 495.9,60.7 496.2,61.0 496.5,61.3 496.7,61.6 497.0,61.9 497.3,62.2 497.6,62.4 497.8,62.6 498.1,62.8 498.4,63.0 498.7,63.1 498.9,63.3 499.2,63.4 499.5,63.5 499.8,63.6 500.0,63.6 500.3,63.5 500.6,63.4 500.9,63.2 501.1,63.0 501.4,62.7 501.7,62.5 502.0,62.3 502.2,62.0 502.5,61.8 502.8,61.7 503.1,61.6 503.3,61.6 503.6,61.6 503.9,61.8 504.2,62.0 504.4,62.2 504.7,62.5 505.0,62.9 505.3,63.2 505.5,63.5 505.8,63.9 506.1,64.2 506.4,64.5 506.6,64.7 506.9,64.9 507.2,65.1 507.5,65.1 507.7,65.1 508.0,65.1 508.3,65.1 508.6,65.0 508.8,65.0 509.1,64.9 509.4,64.8 509.7,64.6 509.9,64.3 510.2,64.0 510.5,63.6 510.8,63.2 511.0,62.8 511.3,62.5 511.6,62.1 511.9,61.9 512.1,61.7 512.4,61.6 512.7,61.6 513.0,61.9 513.2,62.3 513.5,62.8 513.8,63.5 514.1,64.1 514.3,64.8 514.6,65.4 514.9,66.0 515.2,66.5 515.4,67.0 515.7,67.6 516.0,68.2 516.3,68.7 516.6,69.2 516.8,69.6 517.1,70.0 517.4,70.2 517.7,70.2 517.9,70.3 518.2,70.3 518.5,70.3 518.8,70.4 519.0,70.4 519.3,70.4 519.6,70.4 519.9,70.4 520.1,70.4 520.4,70.4 520.7,70.4 521.0,70.3 521.2,70.2 521.5,70.1 521.8,69.9 522.1,69.8 522.3,69.6 522.6,69.4 522.9,69.3 523.2,69.2 523.4,69.1 523.7,69.1 524.0,69.2 524.3,69.3 524.5,69.5 524.8,69.6 525.1,69.8 525.4,69.9 525.6,70.2 525.9,70.4 526.2,70.6 526.5,70.8 526.7,71.0 527.0,71.1 527.3,71.1 527.6,71.0 527.8,70.8 528.1,70.5 528.4,70.2 528.7,69.8 528.9,69.4 529.2,69.0 529.5,68.5 529.8,68.1 530.0,67.7 530.3,67.4 530.6,67.1 530.9,66.8 531.1,66.7 531.4,66.7 531.7,66.7 532.0,66.7 532.2,66.8 532.5,66.9 532.8,67.1 533.1,67.2 533.3,67.4 533.6,67.5 533.9,67.7 534.2,67.9 534.4,68.1 534.7,68.5 535.0,69.0 535.3,69.6 535.5,70.1 535.8,70.6 536.1,71.0 536.4,71.1 536.6,71.1 536.9,71.0 537.2,70.9 537.5,70.7 537.7,70.5 538.0,70.3 538.3,70.1 538.6,69.9 538.8,69.7 539.1,69.5 539.4,69.3 539.7,69.2 540.0,69.1 540.2,69.1 540.5,69.1 540.8,69.2 541.1,69.2 541.3,69.3 541.6,69.4 541.9,69.4 542.2,69.5 542.4,69.6 542.7,69.7 543.0,69.8 543.3,69.9 543.5,70.0 543.8,70.1 544.1,70.1 544.4,70.2 544.6,70.2 544.9,70.2 545.2,70.2 545.5,70.2 545.7,70.1 546.0,70.1 546.3,70.0 546.6,70.0 546.8,69.9 547.1,69.9 547.4,69.8 547.7,69.8 547.9,69.7 548.2,69.7 548.5,69.6 548.8,69.6 549.0,69.6 549.3,69.5 549.6,69.6 549.9,69.6 550.1,69.6 550.4,69.7 550.7,69.8 551.0,69.9 551.2,70.0 551.5,70.1 551.8,70.2 552.1,70.3 552.3,70.5 552.6,70.6 552.9,70.7 553.2,70.9 553.4,71.0 553.7,71.2 554.0,71.4 554.3,71.6 554.5,71.8 554.8,72.0 555.1,72.2 555.4,72.5 555.6,72.7 555.9,72.9 556.2,73.2 556.5,73.4 556.7,73.6 557.0,73.8 557.3,74.1 557.6,74.3 557.8,74.5 558.1,74.8 558.4,75.0 558.7,75.3 558.9,75.5 559.2,75.7 559.5,76.0 559.8,76.1 560.0,76.3 560.3,76.4 560.6,76.6 560.9,76.7 561.1,76.8 561.4,76.9 561.7,77.0 562.0,77.1 562.2,77.2 562.5,77.3 562.8,77.3 563.1,77.3 563.4,77.3 563.6,77.3 563.9,77.2 564.2,77.2 564.5,77.1 564.7,77.0 565.0,76.9 565.3,76.8 565.6,76.7 565.8,76.5 566.1,76.3 566.4,76.0 566.7,75.8 566.9,75.6 567.2,75.3 567.5,75.0 567.8,74.6 568.0,74.3 568.3,73.9 568.6,73.5 568.9,73.2 569.1,72.9 569.4,72.7 569.7,72.6 570.0,72.4 570.2,72.3 570.5,72.2 570.8,72.1 571.1,72.0 571.3,71.9 571.6,71.9 571.9,71.8 572.2,71.7 572.4,71.7 572.7,71.6 573.0,71.6 573.3,71.6 573.5,71.5 573.8,71.5 574.1,71.5 574.4,71.5 574.6,71.4 574.9,71.4 575.2,71.4 575.5,71.4 575.7,71.4 576.0,71.4 576.3,71.4 576.6,71.3 576.8,71.3 577.1,71.3 577.4,71.3 577.7,71.3 577.9,71.3 578.2,71.3 578.5,71.3 578.8,71.3 579.0,71.4 579.3,71.4 579.6,71.4 579.9,71.4 580.1,71.5 580.4,71.5 580.7,71.6 581.0,71.6 581.2,71.7 581.5,71.7 581.8,71.8 582.1,71.8 582.3,71.9 582.6,72.0 582.9,72.0 583.2,72.1 583.4,72.2 583.7,72.4 584.0,72.5 584.3,72.7 584.5,72.8 584.8,73.0 585.1,73.2 585.4,73.3 585.6,73.5 585.9,73.6 586.2,73.7 586.5,73.8 586.8,73.9 587.0,74.0 587.3,74.0 587.6,74.0 587.9,73.9 588.1,73.9 588.4,73.8 588.7,73.7 589.0,73.5 589.2,73.4 589.5,73.3 589.8,73.1 590.1,72.9 590.3,72.8 590.6,72.6 590.9,72.4 591.2,72.3 591.4,72.1 591.7,71.9 592.0,71.7 592.3,71.4 592.5,71.1 592.8,70.8 593.1,70.6 593.4,70.3 593.6,70.2 593.9,70.0 594.2,70.0 594.5,70.0 594.7,70.1 595.0,70.3 595.3,70.6 595.6,70.9 595.8,71.2 596.1,71.5 596.4,71.9 596.7,72.3 596.9,72.6 597.2,72.9 597.5,73.3 597.8,73.6 598.0,74.0 598.3,74.4 598.6,74.8 598.9,75.2 599.1,75.6 599.4,75.9 599.7,76.2 600.0,76.5 600.2,76.7 600.5,76.9 600.8,77.2 601.1,77.4 601.3,77.5" fill="none" stroke="#f2e02a" stroke-width="2.4" stroke-linejoin="round"/><polyline points="408.9,37.1 409.6,37.2 410.2,37.3 410.8,37.4 411.5,37.5 412.1,37.6 412.8,37.7 413.4,37.8 414.1,37.9 414.7,38.0 415.3,38.1 416.0,38.3 416.6,38.4 417.3,38.5 417.9,38.7 418.6,38.8 419.2,39.0 419.9,39.1 420.5,39.3 421.1,39.4 421.8,39.6 422.4,39.8 423.1,40.0 423.7,40.1 424.4,40.3 425.0,40.5 425.6,40.7 426.3,40.9 426.9,41.1 427.6,41.3 428.2,41.4 428.9,41.6 429.5,41.8 430.1,42.0 430.8,42.2 431.4,42.4 432.1,42.5 432.7,42.7 433.4,42.9 434.0,43.0 434.7,43.2 435.3,43.4 435.9,43.5 436.6,43.7 437.2,43.9 437.9,44.0 438.5,44.2 439.2,44.4 439.8,44.5 440.4,44.7 441.1,44.9 441.7,45.0 442.4,45.2 443.0,45.4 443.7,45.6 444.3,45.7 445.0,45.9 445.6,46.1 446.2,46.3 446.9,46.5 447.5,46.7 448.2,46.9 448.8,47.1 449.5,47.3 450.1,47.5 450.7,47.7 451.4,47.9 452.0,48.2 452.7,48.4 453.3,48.6 454.0,48.8 454.6,49.0 455.2,49.3 455.9,49.5 456.5,49.7 457.2,50.0 457.8,50.2 458.5,50.4 459.1,50.7 459.8,50.9 460.4,51.1 461.0,51.4 461.7,51.6 462.3,51.8 463.0,52.1 463.6,52.3 464.3,52.6 464.9,52.8 465.5,53.0 466.2,53.2 466.8,53.5 467.5,53.7 468.1,53.9 468.8,54.1 469.4,54.3 470.1,54.5 470.7,54.8 471.3,55.0 472.0,55.2 472.6,55.3 473.3,55.5 473.9,55.7 474.6,55.9 475.2,56.1 475.8,56.2 476.5,56.4 477.1,56.6 477.8,56.7 478.4,56.9 479.1,57.1 479.7,57.2 480.3,57.4 481.0,57.5 481.6,57.7 482.3,57.8 482.9,58.0 483.6,58.1 484.2,58.3 484.9,58.4 485.5,58.6 486.1,58.7 486.8,58.9 487.4,59.0 488.1,59.1 488.7,59.3 489.4,59.4 490.0,59.6 490.6,59.7 491.3,59.9 491.9,60.0 492.6,60.2 493.2,60.3 493.9,60.5 494.5,60.6 495.2,60.8 495.8,60.9 496.4,61.1 497.1,61.3 497.7,61.4 498.4,61.6 499.0,61.8 499.7,61.9 500.3,62.1 500.9,62.3 501.6,62.5 502.2,62.6 502.9,62.8 503.5,63.0 504.2,63.2 504.8,63.4 505.4,63.6 506.1,63.7 506.7,63.9 507.4,64.1 508.0,64.3 508.7,64.4 509.3,64.6 510.0,64.8 510.6,64.9 511.2,65.1 511.9,65.3 512.5,65.4 513.2,65.6 513.8,65.7 514.5,65.9 515.1,66.0 515.7,66.2 516.4,66.3 517.0,66.4 517.7,66.6 518.3,66.7 519.0,66.8 519.6,67.0 520.2,67.1 520.9,67.2 521.5,67.3 522.2,67.5 522.8,67.6 523.5,67.7 524.1,67.8 524.8,67.9 525.4,68.1 526.0,68.2 526.7,68.3 527.3,68.4 528.0,68.5 528.6,68.6 529.3,68.7 529.9,68.8 530.5,68.9 531.2,69.1 531.8,69.2 532.5,69.3 533.1,69.4 533.8,69.5 534.4,69.6 535.1,69.7 535.7,69.8 536.3,69.9 537.0,70.0 537.6,70.1 538.3,70.2 538.9,70.4 539.6,70.5 540.2,70.6 540.8,70.7 541.5,70.8 542.1,70.9 542.8,71.0 543.4,71.1 544.1,71.2 544.7,71.3 545.3,71.4 546.0,71.5 546.6,71.6 547.3,71.7 547.9,71.8 548.6,71.9 549.2,72.0 549.9,72.1 550.5,72.1 551.1,72.2 551.8,72.3 552.4,72.3 553.1,72.4 553.7,72.5 554.4,72.5 555.0,72.6 555.6,72.6 556.3,72.7 556.9,72.7 557.6,72.7 558.2,72.8 558.9,72.8 559.5,72.8 560.2,72.8 560.8,72.9 561.4,72.9 562.1,72.9 562.7,72.9 563.4,72.9 564.0,73.0 564.7,73.0 565.3,73.0 565.9,73.0 566.6,73.0 567.2,73.0 567.9,73.0 568.5,73.0 569.2,73.0 569.8,73.0 570.4,73.0 571.1,73.1 571.7,73.1 572.4,73.1 573.0,73.1 573.7,73.1 574.3,73.1 575.0,73.1 575.6,73.1 576.2,73.1 576.9,73.1 577.5,73.1 578.2,73.1 578.8,73.1 579.5,73.1 580.1,73.1 580.7,73.1 581.4,73.1 582.0,73.1 582.7,73.1 583.3,73.1 584.0,73.1 584.6,73.2 585.3,73.2 585.9,73.2 586.5,73.2 587.2,73.2 587.8,73.2 588.5,73.2 589.1,73.2 589.8,73.3 590.4,73.3 591.0,73.3 591.7,73.3 592.3,73.3 593.0,73.4 593.6,73.4 594.3,73.4 594.9,73.5 595.5,73.5 596.2,73.5 596.8,73.5 597.5,73.6 598.1,73.6 598.8,73.6 599.4,73.7 600.1,73.7 600.7,73.7 601.3,73.8" fill="none" stroke="#dd2b26" stroke-width="2.4" stroke-linejoin="round"/><path d="M601.76 73.8V221.6" stroke="#e86a6a" stroke-width="1" stroke-dasharray="6.5 4.1" fill="none"/><polyline points="601.3,221.6 601.9,221.4 602.5,221.2 603.1,221.1 603.7,220.9 604.3,220.8 604.8,220.6 605.4,220.5 606.0,220.4 606.6,220.2 607.2,220.1 607.8,220.0 608.3,219.8 608.9,219.7 609.5,219.6 610.1,219.5 610.7,219.4 611.3,219.3 611.8,219.2 612.4,219.1 613.0,219.0 613.6,218.9 614.2,218.8 614.8,218.7 615.3,218.6 615.9,218.6 616.5,218.5 617.1,218.4 617.7,218.4 618.3,218.3 618.8,218.3 619.4,218.2 620.0,218.2 620.6,218.1 621.2,218.1 621.8,218.1 622.3,218.1 622.9,218.0 623.5,218.0 624.1,218.0 624.7,218.0 625.3,218.0 625.8,218.0 626.4,218.0 627.0,218.0 627.6,218.0 628.2,218.0 628.8,218.1 629.3,218.1 629.9,218.1 630.5,218.1 631.1,218.2 631.7,218.2 632.3,218.2 632.9,218.2 633.4,218.3 634.0,218.3 634.6,218.4 635.2,218.4 635.8,218.5 636.4,218.5 636.9,218.6 637.5,218.6 638.1,218.7 638.7,218.8 639.3,218.8 639.9,218.9 640.4,219.0 641.0,219.1 641.6,219.2 642.2,219.2 642.8,219.3 643.4,219.4 643.9,219.5 644.5,219.6 645.1,219.7 645.7,219.9 646.3,220.0 646.9,220.1 647.4,220.2" fill="none" stroke="#dd2b26" stroke-width="2.4" stroke-dasharray="5.6 4.8"/></g><path d="M379.66 21.46H673.00V243.05H379.66ZM421.57 243.05v-3M421.57 21.46v3M463.47 243.05v-3M463.47 21.46v3M505.38 243.05v-3M505.38 21.46v3M547.28 243.05v-3M547.28 21.46v3M589.19 243.05v-3M589.19 21.46v3M631.09 243.05v-3M631.09 21.46v3M379.66 220.89h3M673.00 220.89h-3M379.66 198.73h3M673.00 198.73h-3M379.66 176.57h3M673.00 176.57h-3M379.66 154.41h3M673.00 154.41h-3M379.66 132.25h3M673.00 132.25h-3M379.66 110.10h3M673.00 110.10h-3M379.66 87.94h3M673.00 87.94h-3M379.66 65.78h3M673.00 65.78h-3M379.66 43.62h3M673.00 43.62h-3" stroke="#4a4a4a" stroke-width="1" fill="none"/><text x="379.6" y="256.7" font-size="9.5" letter-spacing="-0.3" text-anchor="middle" fill="#1c1c1c">2008</text><text x="421.5" y="256.7" font-size="9.5" letter-spacing="-0.3" text-anchor="middle" fill="#1c1c1c">2009</text><text x="463.4" y="256.7" font-size="9.5" letter-spacing="-0.3" text-anchor="middle" fill="#1c1c1c">2010</text><text x="505.3" y="256.7" font-size="9.5" letter-spacing="-0.3" text-anchor="middle" fill="#1c1c1c">2011</text><text x="547.2" y="256.7" font-size="9.5" letter-spacing="-0.3" text-anchor="middle" fill="#1c1c1c">2012</text><text x="589.1" y="256.7" font-size="9.5" letter-spacing="-0.3" text-anchor="middle" fill="#1c1c1c">2013</text><text x="631.0" y="256.7" font-size="9.5" letter-spacing="-0.3" text-anchor="middle" fill="#1c1c1c">2014</text><text x="672.9" y="256.7" font-size="9.5" letter-spacing="-0.3" text-anchor="middle" fill="#1c1c1c">2015</text><text x="376.1" y="248.1" font-size="9.5" letter-spacing="-0.3" text-anchor="end" fill="#1c1c1c">-90</text><text x="376.1" y="225.9" font-size="9.5" letter-spacing="-0.3" text-anchor="end" fill="#1c1c1c">-80</text><text x="376.1" y="203.7" font-size="9.5" letter-spacing="-0.3" text-anchor="end" fill="#1c1c1c">-70</text><text x="376.1" y="181.6" font-size="9.5" letter-spacing="-0.3" text-anchor="end" fill="#1c1c1c">-60</text><text x="376.1" y="159.4" font-size="9.5" letter-spacing="-0.3" text-anchor="end" fill="#1c1c1c">-50</text><text x="376.1" y="137.3" font-size="9.5" letter-spacing="-0.3" text-anchor="end" fill="#1c1c1c">-40</text><text x="376.1" y="115.1" font-size="9.5" letter-spacing="-0.3" text-anchor="end" fill="#1c1c1c">-30</text><text x="376.1" y="92.9" font-size="9.5" letter-spacing="-0.3" text-anchor="end" fill="#1c1c1c">-20</text><text x="376.1" y="70.8" font-size="9.5" letter-spacing="-0.3" text-anchor="end" fill="#1c1c1c">-10</text><text x="376.1" y="48.6" font-size="9.5" letter-spacing="-0.3" text-anchor="end" fill="#1c1c1c">0</text><text x="376.1" y="26.5" font-size="9.5" letter-spacing="-0.3" text-anchor="end" fill="#1c1c1c">10</text><text x="526.3" y="15.7" font-size="16" font-weight="bold" text-anchor="middle" fill="#000">LS05</text><text x="528.6" y="275.9" font-size="16" text-anchor="middle" fill="#000">time/yr</text><text transform="translate(358.3 132.3) rotate(-90)" font-size="16" text-anchor="middle" fill="#000">N/mm</text></g>
<g><path d="M75.47 313.46V535.30M117.39 313.46V535.30M159.30 313.46V535.30M201.21 313.46V535.30M243.12 313.46V535.30M285.04 313.46V535.30" stroke="#262626" stroke-opacity="0.125" stroke-width="1" fill="none"/><path d="M33.56 513.12H326.95M33.56 490.93H326.95M33.56 468.75H326.95M33.56 446.56H326.95M33.56 424.38H326.95M33.56 402.20H326.95M33.56 380.01H326.95M33.56 357.83H326.95M33.56 335.64H326.95" stroke="#262626" stroke-opacity="0.125" stroke-width="1" fill="none"/><g clip-path="url(#cBL)"><polyline points="64.2,475.8 64.3,468.1 64.4,477.8 64.5,457.4 64.6,479.1 64.7,469.9 64.8,452.3 65.0,469.4 65.1,477.2 65.2,466.6 65.3,464.0 65.4,464.8 65.5,485.0 65.6,469.5 65.8,486.2 65.9,457.6 66.0,470.6 66.1,474.3 66.2,466.3 66.3,467.6 66.5,479.5 66.6,459.5 66.7,472.7 66.8,483.4 66.9,460.9 67.0,459.8 67.1,461.6 67.3,466.4 67.4,476.4 67.5,463.1 67.6,456.3 67.7,463.4 67.8,457.5 67.9,474.1 68.1,479.0 68.2,461.2 68.3,478.1 68.4,478.8 68.5,471.9 68.6,465.9 68.7,462.9 68.9,467.4 69.0,465.9 69.1,465.9 69.2,464.1 69.3,460.3 69.4,460.6 69.5,464.3 69.7,461.8 69.8,469.6 69.9,457.6 70.0,466.7 70.1,451.2 70.2,463.1 70.4,460.9 70.5,468.3 70.6,465.3 70.7,461.7 70.8,462.9 70.9,467.6 71.0,471.6 71.2,463.2 71.3,462.6 71.4,460.0 71.5,455.2 71.6,466.7 71.7,479.0 71.8,466.0 72.0,478.5 72.1,474.8 72.2,458.6 72.3,462.2 72.4,457.3 72.5,471.4 72.6,467.9 72.8,480.2 72.9,464.7 73.0,471.1 73.1,456.0 73.2,477.3 73.3,463.1 73.5,475.8 73.6,464.3 73.7,479.3 73.8,467.7 73.9,476.7 74.0,480.2 74.1,476.0 74.3,472.1 74.4,473.3 74.5,465.5 74.6,471.5 74.7,496.9 74.8,481.4 74.9,493.5 75.1,482.6 75.2,476.0 75.3,490.8 75.4,490.3 75.5,481.5 75.6,485.3 75.7,472.6 75.9,482.3 76.0,481.4 76.1,473.3 76.2,490.0 76.3,487.0 76.4,494.6 76.5,486.0 76.7,480.8 76.8,478.7 76.9,489.0 77.0,494.0 77.1,494.5 77.2,499.0 77.4,488.0 77.5,479.1 77.6,505.8 77.7,504.2 77.8,478.4 77.9,499.9 78.0,485.7 78.2,496.9 78.3,482.0 78.4,481.7 78.5,485.9 78.6,480.9 78.7,486.2 78.8,482.2 79.0,472.8 79.1,477.7 79.2,490.1 79.3,490.8 79.4,486.4 79.5,486.0 79.6,483.6 79.8,482.8 79.9,475.0 80.0,482.7 80.1,479.8 80.2,481.9 80.3,477.0 80.5,489.4 80.6,468.9 80.7,477.2 80.8,475.8 80.9,474.1 81.0,474.8 81.1,472.1 81.3,475.2 81.4,477.7 81.5,487.8 81.6,474.1 81.7,477.6 81.8,477.3 81.9,457.6 82.1,488.2 82.2,474.3 82.3,465.9 82.4,467.6 82.5,483.4 82.6,483.5 82.7,481.2 82.9,469.7 83.0,476.2 83.1,461.7 83.2,472.3 83.3,472.5 83.4,470.6 83.5,475.7 83.7,472.8 83.8,478.5 83.9,450.3 84.0,477.0 84.1,471.6 84.2,458.0 84.4,484.2 84.5,470.1 84.6,471.7 84.7,480.3 84.8,474.9 84.9,480.8 85.0,458.5 85.2,495.2 85.3,460.9 85.4,479.2 85.5,482.2 85.6,475.1 85.7,476.0 85.8,466.5 86.0,467.3 86.1,475.3 86.2,479.8 86.3,458.3 86.4,463.1 86.5,472.2 86.6,475.4 86.8,471.1 86.9,472.6 87.0,464.6 87.1,480.2 87.2,473.1 87.3,478.9 87.5,463.8 87.6,460.2 87.7,473.9 87.8,469.3 87.9,463.1 88.0,475.4 88.1,479.9 88.3,465.7 88.4,469.6 88.5,473.3 88.6,462.7 88.7,471.5 88.8,486.0 88.9,470.6 89.1,473.5 89.2,459.4 89.3,473.1 89.4,474.3 89.5,469.6 89.6,470.9 89.7,482.7 89.9,471.6 90.0,474.7 90.1,462.1 90.2,454.7 90.3,480.0 90.4,478.7 90.5,477.6 90.7,476.1 90.8,476.2 90.9,470.6 91.0,462.9 91.1,479.9 91.2,481.4 91.4,483.4 91.5,461.9 91.6,460.1 91.7,480.4 91.8,480.9 91.9,459.8 92.0,460.3 92.2,460.1 92.3,465.1 92.4,460.5 92.5,461.9 92.6,467.0 92.7,448.0 92.8,460.4 93.0,467.1 93.1,461.2 93.2,467.7 93.3,455.3 93.4,446.4 93.5,462.5 93.6,444.3 93.8,436.4 93.9,447.9 94.0,458.0 94.1,454.9 94.2,450.3 94.3,456.3 94.5,455.2 94.6,447.2 94.7,445.8 94.8,439.3 94.9,451.5 95.0,428.5 95.1,433.6 95.3,434.0 95.4,444.4 95.5,426.4 95.6,440.7 95.7,424.4 95.8,429.0 95.9,442.5 96.1,438.7 96.2,421.2 96.3,426.9 96.4,434.5 96.5,431.3 96.6,430.7 96.7,433.0 96.9,432.3 97.0,435.0 97.1,432.7 97.2,425.7 97.3,435.4 97.4,422.7 97.5,426.6 97.7,421.3 97.8,419.9 97.9,416.8 98.0,444.7 98.1,419.7 98.2,425.7 98.4,419.8 98.5,430.1 98.6,424.9 98.7,417.4 98.8,411.3 98.9,418.7 99.0,429.2 99.2,411.3 99.3,425.0 99.4,423.8 99.5,403.9 99.6,413.1 99.7,422.3 99.8,426.6 100.0,432.9 100.1,421.3 100.2,427.7 100.3,415.2 100.4,408.7 100.5,435.3 100.6,428.7 100.8,417.3 100.9,410.9 101.0,417.9 101.1,418.0 101.2,417.0 101.3,417.3 101.5,409.5 101.6,417.3 101.7,408.6 101.8,425.9 101.9,421.3 102.0,429.1 102.1,425.5 102.3,427.8 102.4,429.5 102.5,413.6 102.6,413.3 102.7,433.4 102.8,431.1 102.9,426.1 103.1,411.6 103.2,425.5 103.3,417.2 103.4,424.9 103.5,444.5 103.6,426.8 103.7,436.2 103.9,440.3 104.0,438.8 104.1,418.5 104.2,443.4 104.3,436.8 104.4,424.3 104.5,428.2 104.7,445.7 104.8,434.3 104.9,437.4 105.0,435.3 105.1,428.6 105.2,438.4 105.4,436.7 105.5,442.0 105.6,448.0 105.7,437.5 105.8,421.1 105.9,444.1 106.0,439.8 106.2,444.8 106.3,434.3 106.4,440.0 106.5,429.9 106.6,428.3 106.7,435.4 106.8,438.6 107.0,434.0 107.1,435.5 107.2,444.8 107.3,428.1 107.4,434.3 107.5,430.2 107.6,445.7 107.8,429.4 107.9,420.3 108.0,431.0 108.1,445.9 108.2,435.0 108.3,435.5 108.5,433.3 108.6,436.4 108.7,430.9 108.8,437.7 108.9,432.4 109.0,438.9 109.1,433.0 109.3,426.3 109.4,436.9 109.5,430.7 109.6,439.4 109.7,435.5 109.8,434.3 109.9,423.4 110.1,437.9 110.2,423.3 110.3,442.8 110.4,433.2 110.5,425.3 110.6,426.9 110.7,439.3 110.9,440.9 111.0,425.6 111.1,441.2 111.2,427.8 111.3,435.8 111.4,432.1 111.5,415.2 111.7,420.8 111.8,426.0 111.9,442.2 112.0,429.9 112.1,431.9 112.2,433.0 112.4,450.0 112.5,444.9 112.6,430.1 112.7,431.6 112.8,438.0 112.9,420.0 113.0,441.9 113.2,432.5 113.3,432.2 113.4,448.9 113.5,443.5 113.6,440.3 113.7,427.6 113.8,426.7 114.0,429.4 114.1,432.2 114.2,450.3 114.3,432.9 114.4,438.4 114.5,426.4 114.6,425.3 114.8,419.0 114.9,430.3 115.0,429.7 115.1,443.3 115.2,435.3 115.3,445.0 115.5,429.5 115.6,444.7 115.7,437.5 115.8,441.9 115.9,439.2 116.0,432.3 116.1,439.6 116.3,433.7 116.4,442.4 116.5,424.6 116.6,439.2 116.7,426.8 116.8,418.3 116.9,451.4 117.1,439.0 117.2,434.4 117.3,423.9 117.4,435.6 117.5,428.9 117.6,436.6 117.7,426.8 117.9,435.4 118.0,423.9 118.1,423.4 118.2,443.1 118.3,415.5 118.4,427.2 118.5,434.6 118.7,411.5 118.8,419.6 118.9,418.7 119.0,429.7 119.1,421.6 119.2,422.0 119.4,437.4 119.5,420.4 119.6,425.5 119.7,414.2 119.8,413.5 119.9,427.3 120.0,426.4 120.2,420.0 120.3,416.1 120.4,423.4 120.5,420.7 120.6,410.0 120.7,415.7 120.8,409.8 121.0,416.1 121.1,424.0 121.2,430.0 121.3,410.8 121.4,418.9 121.5,418.7 121.6,418.1 121.8,427.4 121.9,418.6 122.0,434.8 122.1,418.7 122.2,422.4 122.3,402.3 122.4,412.7 122.6,417.8 122.7,415.2 122.8,411.3 122.9,422.5 123.0,418.9 123.1,420.1 123.3,399.5 123.4,417.7 123.5,433.1 123.6,413.1 123.7,400.3 123.8,426.9 123.9,394.5 124.1,421.1 124.2,413.6 124.3,425.6 124.4,423.9 124.5,431.4 124.6,430.5 124.7,439.1 124.9,415.3 125.0,432.9 125.1,422.4 125.2,423.4 125.3,431.4 125.4,427.0 125.5,428.8 125.7,432.6 125.8,429.3 125.9,430.0 126.0,438.7 126.1,447.5 126.2,438.8 126.4,432.3 126.5,423.5 126.6,423.3 126.7,432.3 126.8,427.9 126.9,434.3 127.0,427.2 127.2,434.5 127.3,432.7 127.4,437.8 127.5,435.8 127.6,421.8 127.7,444.9 127.8,436.0 128.0,440.6 128.1,429.1 128.2,422.8 128.3,438.7 128.4,457.1 128.5,426.6 128.6,432.0 128.8,449.2 128.9,438.5 129.0,437.3 129.1,454.0 129.2,431.8 129.3,433.6 129.4,435.1 129.6,444.9 129.7,442.3 129.8,441.7 129.9,433.5 130.0,444.4 130.1,426.1 130.3,434.3 130.4,453.3 130.5,424.5 130.6,435.9 130.7,441.1 130.8,436.2 130.9,450.6 131.1,435.4 131.2,455.1 131.3,444.3 131.4,426.4 131.5,427.0 131.6,437.3 131.7,443.4 131.9,429.0 132.0,436.2 132.1,434.0 132.2,430.7 132.3,443.3 132.4,429.1 132.5,450.7 132.7,423.6 132.8,446.1 132.9,438.8 133.0,438.9 133.1,428.2 133.2,427.8 133.4,430.4 133.5,428.8 133.6,429.1 133.7,432.8 133.8,446.4 133.9,449.0 134.0,448.7 134.2,431.5 134.3,432.6 134.4,431.6 134.5,428.6 134.6,431.7 134.7,437.0 134.8,440.4 135.0,442.9 135.1,419.0 135.2,420.8 135.3,437.2 135.4,428.6 135.5,440.5 135.6,413.3 135.8,429.2 135.9,422.7 136.0,414.6 136.1,435.7 136.2,427.4 136.3,421.4 136.4,425.8 136.6,403.7 136.7,412.3 136.8,416.6 136.9,424.5 137.0,409.8 137.1,410.6 137.3,418.3 137.4,416.6 137.5,423.2 137.6,411.5 137.7,403.2 137.8,400.9 137.9,402.8 138.1,399.7 138.2,409.1 138.3,407.0 138.4,393.1 138.5,397.6 138.6,405.9 138.7,395.0 138.9,391.5 139.0,391.4 139.1,394.8 139.2,382.9 139.3,390.4 139.4,402.8 139.5,390.2 139.7,395.3 139.8,386.6 139.9,397.5 140.0,385.5 140.1,388.5 140.2,378.1 140.4,383.7 140.5,375.8 140.6,365.6 140.7,383.9 140.8,387.9 140.9,377.6 141.0,396.9 141.2,378.9 141.3,383.9 141.4,374.7 141.5,377.8 141.6,394.0 141.7,379.0 141.8,374.3 142.0,367.4 142.1,380.2 142.2,381.4 142.3,366.4 142.4,379.2 142.5,373.5 142.6,370.4 142.8,368.1 142.9,373.4 143.0,381.6 143.1,365.5 143.2,376.3 143.3,376.9 143.4,357.9 143.6,366.4 143.7,381.0 143.8,376.8 143.9,375.1 144.0,379.0 144.1,388.0 144.3,367.8 144.4,368.2 144.5,372.4 144.6,377.4 144.7,373.1 144.8,370.1 144.9,383.0 145.1,377.9 145.2,379.9 145.3,370.7 145.4,374.3 145.5,386.2 145.6,381.4 145.7,363.8 145.9,384.6 146.0,376.4 146.1,382.5 146.2,368.7 146.3,378.7 146.4,367.8 146.5,387.4 146.7,380.6 146.8,372.8 146.9,374.1 147.0,389.2 147.1,367.8 147.2,381.4 147.4,387.6 147.5,378.9 147.6,384.7 147.7,384.5 147.8,385.1 147.9,381.2 148.0,384.4 148.2,368.1 148.3,377.0 148.4,384.9 148.5,372.2 148.6,377.2 148.7,376.7 148.8,380.0 149.0,390.3 149.1,383.9 149.2,388.9 149.3,378.9 149.4,401.7 149.5,384.1 149.6,379.7 149.8,384.3 149.9,371.6 150.0,375.6 150.1,379.8 150.2,383.5 150.3,372.1 150.4,385.1 150.6,382.9 150.7,374.0 150.8,374.9 150.9,364.0 151.0,380.6 151.1,392.7 151.3,373.6 151.4,369.0 151.5,363.3 151.6,366.4 151.7,364.6 151.8,382.7 151.9,381.3 152.1,387.0 152.2,373.6 152.3,372.3 152.4,373.2 152.5,387.1 152.6,383.7 152.7,388.9 152.9,390.6 153.0,388.9 153.1,391.0 153.2,380.9 153.3,376.8 153.4,375.7 153.5,381.0 153.7,386.3 153.8,381.8 153.9,378.0 154.0,384.9 154.1,382.8 154.2,385.9 154.4,388.0 154.5,370.4 154.6,393.4 154.7,377.7 154.8,397.5 154.9,382.9 155.0,396.8 155.2,375.8 155.3,380.9 155.4,393.6 155.5,391.1 155.6,396.4 155.7,388.5 155.8,385.1 156.0,369.2 156.1,398.3 156.2,378.9 156.3,392.4 156.4,385.9 156.5,381.2 156.6,383.5 156.8,384.2 156.9,388.5 157.0,386.9 157.1,385.4 157.2,377.3 157.3,396.7 157.4,389.1 157.6,394.4 157.7,391.9 157.8,390.3 157.9,375.8 158.0,367.6 158.1,373.1 158.3,391.5 158.4,381.7 158.5,390.3 158.6,378.1 158.7,371.6 158.8,376.3 158.9,373.7 159.1,380.9 159.2,394.0 159.3,385.9 159.4,379.4 159.5,374.0 159.6,368.4 159.7,379.9 159.9,376.2 160.0,374.4 160.1,347.7 160.2,375.7 160.3,382.7 160.4,366.0 160.5,370.5 160.7,373.5 160.8,381.9 160.9,372.1 161.0,384.3 161.1,367.7 161.2,372.6 161.4,373.7 161.5,366.1 161.6,359.4 161.7,370.2 161.8,402.6 161.9,374.3 162.0,364.4 162.2,379.5 162.3,369.3 162.4,372.8 162.5,372.2 162.6,366.5 162.7,385.1 162.8,370.6 163.0,362.7 163.1,371.3 163.2,369.7 163.3,375.7 163.4,376.2 163.5,382.4 163.6,370.3 163.8,379.9 163.9,372.2 164.0,386.5 164.1,366.4 164.2,384.7 164.3,369.2 164.4,381.8 164.6,375.4 164.7,381.6 164.8,376.9 164.9,383.3 165.0,375.5 165.1,381.6 165.3,383.2 165.4,377.7 165.5,396.9 165.6,383.8 165.7,394.6 165.8,407.6 165.9,406.3 166.1,401.0 166.2,388.3 166.3,405.9 166.4,403.4 166.5,403.6 166.6,420.9 166.7,404.6 166.9,417.2 167.0,401.0 167.1,400.5 167.2,414.2 167.3,427.1 167.4,415.2 167.5,411.1 167.7,413.1 167.8,442.4 167.9,428.4 168.0,420.9 168.1,426.8 168.2,406.8 168.4,425.1 168.5,424.7 168.6,420.1 168.7,428.9 168.8,422.9 168.9,420.5 169.0,423.0 169.2,421.1 169.3,410.0 169.4,415.8 169.5,402.5 169.6,421.9 169.7,413.1 169.8,397.9 170.0,417.7 170.1,418.4 170.2,414.1 170.3,419.1 170.4,418.6 170.5,423.6 170.6,414.4 170.8,423.6 170.9,403.7 171.0,416.3 171.1,417.6 171.2,409.9 171.3,416.1 171.4,414.6 171.6,415.5 171.7,420.4 171.8,421.8 171.9,420.1 172.0,406.6 172.1,419.7 172.3,418.2 172.4,418.7 172.5,410.5 172.6,401.2 172.7,422.9 172.8,412.3 172.9,415.8 173.1,419.1 173.2,413.5 173.3,426.8 173.4,411.5 173.5,416.3 173.6,425.5 173.7,406.5 173.9,412.1 174.0,410.0 174.1,429.4 174.2,420.8 174.3,422.8 174.4,414.5 174.5,409.2 174.7,433.4 174.8,419.3 174.9,420.5 175.0,412.3 175.1,420.1 175.2,429.2 175.4,421.3 175.5,393.4 175.6,425.7 175.7,419.6 175.8,423.3 175.9,417.3 176.0,430.0 176.2,401.1 176.3,408.1 176.4,411.2 176.5,425.1 176.6,430.4 176.7,419.8 176.8,414.0 177.0,394.7 177.1,400.4 177.2,412.8 177.3,399.0 177.4,397.9 177.5,441.9 177.6,395.7 177.8,401.1 177.9,407.2 178.0,409.8 178.1,400.8 178.2,391.2 178.3,388.8 178.4,390.8 178.6,430.7 178.7,413.4 178.8,378.6 178.9,394.0 179.0,384.1 179.1,374.5 179.3,397.7 179.4,393.4 179.5,367.8 179.6,384.9 179.7,382.3 179.8,378.1 179.9,370.4 180.1,366.9 180.2,374.2 180.3,375.9 180.4,372.0 180.5,367.9 180.6,358.9 180.7,366.0 180.9,352.1 181.0,370.4 181.1,358.7 181.2,348.4 181.3,350.6 181.4,356.5 181.5,364.4 181.7,362.2 181.8,357.2 181.9,353.1 182.0,356.7 182.1,364.1 182.2,354.9 182.4,350.2 182.5,348.0 182.6,364.6 182.7,357.3 182.8,334.9 182.9,359.7 183.0,330.0 183.2,356.3 183.3,360.1 183.4,362.7 183.5,368.2 183.6,373.9 183.7,372.2 183.8,364.2 184.0,359.9 184.1,376.3 184.2,365.6 184.3,356.4 184.4,381.7 184.5,363.5 184.6,381.2 184.8,366.4 184.9,360.3 185.0,372.0 185.1,370.7 185.2,378.6 185.3,372.1 185.4,366.5 185.6,376.9 185.7,377.3 185.8,374.1 185.9,371.6 186.0,390.5 186.1,378.7 186.3,384.9 186.4,377.0 186.5,373.7 186.6,379.7 186.7,373.2 186.8,390.7 186.9,387.0 187.1,391.9 187.2,384.7 187.3,385.0 187.4,387.6 187.5,395.5 187.6,387.5 187.7,390.5 187.9,383.1 188.0,382.2 188.1,379.3 188.2,392.9 188.3,401.6 188.4,389.2 188.5,398.4 188.7,380.7 188.8,377.3 188.9,388.1 189.0,384.6 189.1,398.5 189.2,404.4 189.3,391.9 189.5,389.7 189.6,375.0 189.7,387.1 189.8,385.5 189.9,383.0 190.0,376.3 190.2,381.8 190.3,390.5 190.4,387.0 190.5,383.3 190.6,395.4 190.7,377.9 190.8,381.0 191.0,389.3 191.1,392.3 191.2,359.6 191.3,381.4 191.4,380.6 191.5,374.3 191.6,380.3 191.8,373.6 191.9,382.3 192.0,394.2 192.1,382.2 192.2,398.8 192.3,384.3 192.4,383.3 192.6,398.8 192.7,373.1 192.8,395.8 192.9,379.5 193.0,391.1 193.1,384.9 193.3,392.0 193.4,368.7 193.5,379.5 193.6,373.7 193.7,381.2 193.8,381.8 193.9,385.8 194.1,388.6 194.2,382.2 194.3,385.4 194.4,387.6 194.5,396.5 194.6,388.4 194.7,404.5 194.9,370.0 195.0,383.1 195.1,386.5 195.2,392.9 195.3,391.7 195.4,390.3 195.5,386.8 195.7,386.3 195.8,375.9 195.9,391.9 196.0,398.8 196.1,378.4 196.2,386.5 196.3,383.8 196.5,363.8 196.6,371.6 196.7,377.8 196.8,374.9 196.9,380.8 197.0,374.3 197.2,385.7 197.3,386.2 197.4,390.7 197.5,368.8 197.6,368.7 197.7,384.5 197.8,383.3 198.0,380.8 198.1,371.5 198.2,381.6 198.3,372.0 198.4,379.7 198.5,380.9 198.6,378.8 198.8,377.3 198.9,382.7 199.0,388.4 199.1,365.7 199.2,381.1 199.3,391.6 199.4,394.9 199.6,398.8 199.7,382.7 199.8,368.1 199.9,390.3 200.0,380.7 200.1,392.1 200.3,370.5 200.4,376.2 200.5,376.7 200.6,363.5 200.7,367.4 200.8,372.2 200.9,384.4 201.1,390.3 201.2,388.5 201.3,394.1 201.4,368.1 201.5,383.3 201.6,381.3 201.7,381.2 201.9,368.1 202.0,387.6 202.1,375.1 202.2,382.0 202.3,385.8 202.4,399.4 202.5,378.8 202.7,391.5 202.8,389.8 202.9,385.2 203.0,386.6 203.1,379.4 203.2,393.1 203.3,387.3 203.5,386.9 203.6,389.1 203.7,384.7 203.8,392.0 203.9,381.5 204.0,396.1 204.2,402.0 204.3,392.0 204.4,383.4 204.5,396.4 204.6,397.7 204.7,396.1 204.8,392.8 205.0,395.8 205.1,392.7 205.2,408.3 205.3,384.9 205.4,392.2 205.5,403.4 205.6,387.4 205.8,394.7 205.9,397.0 206.0,407.8 206.1,387.3 206.2,399.7 206.3,415.9 206.4,395.5 206.6,403.8 206.7,409.6 206.8,404.1 206.9,417.4 207.0,399.1 207.1,405.4 207.3,406.3 207.4,394.2 207.5,404.8 207.6,410.3 207.7,397.6 207.8,406.6 207.9,398.6 208.1,411.1 208.2,414.8 208.3,400.5 208.4,407.1 208.5,408.0 208.6,392.6 208.7,417.3 208.9,407.1 209.0,422.0 209.1,411.3 209.2,404.9 209.3,401.1 209.4,419.2 209.5,403.8 209.7,404.4 209.8,411.3 209.9,392.3 210.0,399.6 210.1,417.5 210.2,407.9 210.3,425.1 210.5,399.8 210.6,404.2 210.7,414.6 210.8,407.1 210.9,407.8 211.0,397.5 211.2,416.4 211.3,421.5 211.4,427.0 211.5,403.3 211.6,423.5 211.7,413.1 211.8,408.7 212.0,415.0 212.1,418.7 212.2,402.8 212.3,413.1 212.4,409.8 212.5,404.4 212.6,421.1 212.8,418.1 212.9,392.7 213.0,412.3 213.1,418.7 213.2,412.8 213.3,415.0 213.4,417.8 213.6,413.6 213.7,410.6 213.8,410.4 213.9,406.2 214.0,422.9 214.1,422.8 214.3,403.9 214.4,412.9 214.5,400.4 214.6,407.0 214.7,419.6 214.8,405.0 214.9,416.3 215.1,406.7 215.2,399.4 215.3,392.7 215.4,408.7 215.5,402.8 215.6,405.6 215.7,401.8 215.9,426.4 216.0,410.2 216.1,404.9 216.2,403.4 216.3,412.2 216.4,400.3 216.5,397.9 216.7,405.3 216.8,395.8 216.9,407.8 217.0,403.8 217.1,395.7 217.2,393.0 217.3,407.2 217.5,410.2 217.6,408.8 217.7,395.2 217.8,400.4 217.9,399.4 218.0,397.6 218.2,397.9 218.3,401.1 218.4,407.5 218.5,403.8 218.6,397.9 218.7,387.5 218.8,400.5 219.0,400.3 219.1,386.6 219.2,399.7 219.3,394.1 219.4,397.5 219.5,401.0 219.6,405.3 219.8,397.6 219.9,399.1 220.0,386.3 220.1,400.5 220.2,394.5 220.3,386.1 220.4,391.3 220.6,386.3 220.7,383.2 220.8,401.1 220.9,391.4 221.0,395.0 221.1,377.4 221.3,387.6 221.4,382.5 221.5,373.1 221.6,387.6 221.7,383.8 221.8,380.7 221.9,377.8 222.1,373.2 222.2,375.7 222.3,373.7 222.4,380.0 222.5,382.2 222.6,381.6 222.7,381.0 222.9,389.7 223.0,374.3 223.1,370.3 223.2,375.7 223.3,378.6 223.4,374.0 223.5,372.0 223.7,370.6 223.8,359.2 223.9,378.1 224.0,368.6 224.1,365.6 224.2,369.6 224.3,371.9 224.5,376.7 224.6,373.0 224.7,363.1 224.8,357.2 224.9,372.3 225.0,363.7 225.2,363.0 225.3,359.2 225.4,364.5 225.5,362.7 225.6,353.5 225.7,373.9 225.8,364.7 226.0,377.7 226.1,378.9 226.2,370.2 226.3,375.2 226.4,360.0 226.5,356.2 226.6,365.4 226.8,363.9 226.9,364.4 227.0,364.3 227.1,361.2 227.2,359.4 227.3,365.2 227.4,367.3 227.6,365.2 227.7,355.4 227.8,364.2 227.9,350.4 228.0,362.6 228.1,350.7 228.3,369.3 228.4,360.5 228.5,357.0 228.6,356.8 228.7,361.5 228.8,345.5 228.9,359.8 229.1,358.3 229.2,364.5 229.3,348.4 229.4,354.2 229.5,357.4 229.6,372.4 229.7,357.9 229.9,364.0 230.0,357.8 230.1,354.1 230.2,366.2 230.3,359.2 230.4,354.5 230.5,359.8 230.7,363.4 230.8,368.8 230.9,366.1 231.0,370.5 231.1,354.3 231.2,360.8 231.3,370.4 231.5,361.8 231.6,371.2 231.7,385.8 231.8,353.3 231.9,353.7 232.0,373.0 232.2,367.6 232.3,361.1 232.4,365.5 232.5,369.0 232.6,366.7 232.7,364.8 232.8,367.2 233.0,361.9 233.1,365.2 233.2,369.2 233.3,363.6 233.4,376.0 233.5,353.7 233.6,382.8 233.8,365.1 233.9,362.2 234.0,361.9 234.1,363.2 234.2,356.2 234.3,373.8 234.4,366.4 234.6,365.1 234.7,370.1 234.8,371.1 234.9,357.8 235.0,372.6 235.1,371.2 235.3,370.1 235.4,370.0 235.5,364.5 235.6,370.6 235.7,366.8 235.8,368.8 235.9,362.7 236.1,360.6 236.2,376.9 236.3,359.2 236.4,374.7 236.5,360.6 236.6,370.9 236.7,374.6 236.9,387.0 237.0,361.6 237.1,379.1 237.2,379.7 237.3,366.8 237.4,374.3 237.5,361.6 237.7,363.6 237.8,371.1 237.9,374.8 238.0,371.5 238.1,386.9 238.2,376.6 238.3,377.2 238.5,382.0 238.6,377.1 238.7,389.8 238.8,373.1 238.9,370.6 239.0,389.4 239.2,379.3 239.3,369.5 239.4,377.7 239.5,388.2 239.6,388.0 239.7,374.8 239.8,367.8 240.0,388.6 240.1,380.4 240.2,386.0 240.3,382.2 240.4,377.6 240.5,379.7 240.6,383.9 240.8,363.4 240.9,379.1 241.0,378.8 241.1,369.0 241.2,376.3 241.3,377.3 241.4,368.5 241.6,382.1 241.7,368.9 241.8,366.3 241.9,368.5 242.0,374.1 242.1,372.5 242.3,384.4 242.4,372.8 242.5,369.6 242.6,365.4 242.7,370.5 242.8,374.4 242.9,377.7 243.1,372.2 243.2,371.2 243.3,363.8 243.4,372.7 243.5,376.8 243.6,374.4 243.7,377.6 243.9,376.3 244.0,391.0 244.1,387.2 244.2,384.9 244.3,373.7 244.4,378.2 244.5,377.3 244.7,370.7 244.8,387.1 244.9,372.1 245.0,378.2 245.1,386.6 245.2,371.5 245.3,392.9 245.5,391.3 245.6,385.3 245.7,381.4 245.8,386.2 245.9,400.6 246.0,388.1 246.2,387.2 246.3,369.1 246.4,378.1 246.5,387.7 246.6,397.0 246.7,401.7 246.8,398.8 247.0,389.8 247.1,389.2 247.2,395.4 247.3,391.4 247.4,396.1 247.5,398.4 247.6,384.0 247.8,391.4 247.9,398.2 248.0,402.0 248.1,395.7 248.2,393.3 248.3,391.7 248.4,387.5 248.6,395.0 248.7,406.5 248.8,384.2 248.9,390.5 249.0,392.8 249.1,389.1 249.2,409.0 249.4,400.8 249.5,401.3 249.6,388.7 249.7,404.9 249.8,398.2 249.9,384.3 250.1,404.1 250.2,396.2 250.3,379.3 250.4,401.2 250.5,387.6 250.6,391.6 250.7,385.4 250.9,390.2 251.0,393.3 251.1,385.1 251.2,395.2 251.3,381.4 251.4,386.8 251.5,377.4 251.7,386.6 251.8,387.7 251.9,379.6 252.0,373.1 252.1,396.1 252.2,375.7 252.3,375.9 252.5,390.0 252.6,385.6 252.7,374.3 252.8,384.3 252.9,382.5 253.0,383.1 253.2,383.7 253.3,382.7 253.4,392.6 253.5,383.5 253.6,384.0 253.7,362.7 253.8,365.8 254.0,383.0 254.1,359.7 254.2,367.8 254.3,374.2 254.4,366.8 254.5,369.5 254.6,377.3 254.8,384.0 254.9,377.6 255.0,370.9 255.1,373.1 255.2,375.5 255.3,363.0 255.4,377.2 255.6,363.1 255.7,372.6 264.9,457.2 265.2,447.6 265.3,473.5 265.4,462.2 265.7,481.6 265.7,455.8 266.7,445.8 266.8,467.1 267.0,452.6 267.0,459.3 267.1,452.7 267.2,480.4 267.5,455.9 267.6,485.3 267.8,465.7 267.8,489.4 268.1,441.2 268.2,473.4 268.2,465.4 268.5,442.6 268.6,461.4 268.8,468.1 269.0,449.3 269.1,460.4 269.1,471.8 269.1,444.4 269.4,471.7 269.6,476.1 269.7,449.2 269.8,461.5 269.9,434.1 269.9,461.6 269.9,440.6 270.0,476.4 270.0,481.8 270.3,467.0 270.4,446.7 270.4,461.6 270.5,452.5 270.9,468.2 271.0,475.6 271.1,467.9 271.2,471.5 271.6,480.2 271.8,452.3 272.2,462.4 272.5,446.7 272.6,461.0 272.8,473.9 272.9,475.2 273.1,474.2 273.1,448.9 273.2,481.4 273.3,455.0 273.4,457.6 273.6,466.0 273.8,450.1 274.1,456.6 274.1,474.6 274.2,476.9 274.4,468.4 275.1,479.1 275.4,461.0 275.6,450.0 275.6,456.5 275.7,454.8 276.6,452.8 276.8,454.0 277.1,476.1 277.6,456.4 277.8,486.4 277.9,461.3 278.0,476.6 278.7,452.4 279.4,459.5 279.5,470.8 279.9,459.9 280.0,450.5 280.2,455.0 280.2,468.3 280.5,476.6 280.8,442.6 280.9,482.4 281.0,474.0 281.7,449.8 281.8,484.4 281.9,482.2 282.3,467.5 282.8,478.3 282.9,474.6 283.2,445.1 283.2,478.7 283.3,437.4 283.3,485.2 283.4,467.3 283.5,454.0 283.5,466.8 283.6,467.3 283.8,462.1 284.5,456.8 285.0,439.0 285.3,462.2 285.3,445.8 285.4,478.3 285.4,452.2 255.3,422.1 255.4,417.2 255.5,443.9 255.9,417.2 256.1,446.4 256.3,454.0 256.3,428.1 256.7,448.2 256.7,438.2 256.8,423.8 257.2,436.3 257.4,422.0 257.4,431.6 257.5,436.6 257.7,447.7 257.9,438.6 257.9,436.7 258.3,441.0 258.6,429.0 258.6,444.6 258.6,431.9 258.7,439.6 258.9,429.1 259.8,451.5 259.9,451.5 260.1,454.5 260.1,424.2 260.3,434.4 260.3,421.1 260.5,440.4 260.7,417.7 260.8,429.1 260.8,424.2 260.9,450.5 260.9,418.5 260.9,448.7 261.0,428.9 261.0,438.3 261.0,449.9 261.2,461.7 261.2,461.8 261.4,463.5 261.4,441.8 261.6,439.2 261.8,459.2 255.4,412.5 255.7,416.4 256.5,397.0 256.9,406.8 257.7,384.4 258.9,383.5 259.0,394.2 259.2,397.4 259.8,414.3 259.8,389.2 260.0,404.9 260.2,391.7 260.9,401.6 261.7,393.4 261.7,414.6 261.8,383.7 256.0,384.4 257.4,377.4 258.9,379.4 261.7,403.4 261.8,395.7 262.5,400.2 264.3,405.6 264.4,398.8 267.0,411.5 267.9,406.9 266.0,426.4 266.4,416.9 266.5,432.3 267.6,433.0 268.5,429.3 268.7,434.1 270.8,424.7 271.6,427.6 271.7,424.3 272.0,437.5 272.5,420.7 276.0,429.4 277.2,434.3 277.8,424.4 279.8,432.1 279.9,433.3 280.4,421.6 280.4,435.8 281.4,418.1 282.6,431.2 282.9,426.8 284.5,433.7 268.4,496.8 268.8,493.4 268.8,495.8 270.3,495.4 270.7,491.4 273.7,485.6 274.1,492.6 275.1,496.0 276.0,500.0 276.1,486.0 276.2,489.3 276.4,497.2 286.7,458.1 286.8,485.7 286.9,466.2 287.0,461.8 287.1,432.5 287.1,462.8 287.2,499.0 287.5,474.7 287.5,456.1 287.9,480.9 288.2,485.7 288.6,475.1 289.5,449.0 289.7,471.0 289.7,482.5 289.7,458.4 289.8,448.8 289.8,453.1 289.8,442.7 289.9,464.1 290.0,492.1 290.0,458.8 290.4,446.3 290.6,468.4 290.7,489.4 290.7,478.0 290.8,448.1 291.2,455.3 291.3,486.3 291.6,454.3 292.1,456.4 292.3,450.7 292.3,444.2 292.3,484.7 292.5,450.1 292.6,447.3 292.7,466.7 292.7,479.6 292.7,463.3 293.2,456.6 293.2,471.1 293.5,455.3 293.5,459.7 293.8,442.2 293.9,433.9 293.9,428.7 294.2,489.3 294.4,447.1 294.8,445.2 295.0,427.7 295.1,446.9 295.7,438.8 295.9,437.8 295.9,482.2 296.0,483.9 296.1,466.5 296.7,441.5 296.8,454.2 296.8,453.2 296.8,442.2 297.1,459.5 297.4,435.9 297.8,456.6 297.8,466.9 298.2,462.3 298.5,441.1 298.7,474.1 299.4,473.2 299.6,481.2 299.6,454.3 299.7,460.6 299.7,437.8 300.0,469.0 300.1,443.3 300.1,473.9 300.5,438.2 301.2,458.8 301.2,468.7 286.9,429.7 290.7,435.2 290.8,428.3 291.5,421.2 294.6,426.1 295.0,429.9 297.7,420.3 298.8,423.3 288.5,495.5 288.9,495.7 290.0,496.2 290.9,493.9 290.9,493.4 292.8,491.8 294.3,499.8 298.0,495.7 300.1,500.3 300.5,501.1 70.9,438.2 123.3,376.7 130.0,466.5 98.9,388.9 122.8,397.8 186.5,445.5 142.5,336.8 161.4,330.1 181.9,326.8 225.1,324.6 225.9,332.3 273.3,506.5 271.2,514.2 291.3,514.2 288.4,519.8 299.3,518.7 296.8,530.9 293.0,402.2 300.5,404.4 290.5,423.3 299.7,422.2" fill="none" stroke="none" marker-start="url(#m)" marker-mid="url(#m)" marker-end="url(#m)"/><polyline points="63.6,470.5 63.9,470.8 64.2,470.9 64.4,471.1 64.7,471.2 65.0,471.3 65.3,471.3 65.5,471.4 65.8,471.4 66.1,471.4 66.4,471.4 66.6,471.4 66.9,471.2 67.2,470.8 67.5,470.2 67.7,469.5 68.0,468.8 68.3,467.9 68.5,467.1 68.8,466.2 69.1,465.4 69.4,464.7 69.6,464.1 69.9,463.6 70.2,463.3 70.5,463.2 70.7,463.3 71.0,463.6 71.3,464.1 71.6,464.7 71.8,465.4 72.1,466.1 72.4,466.9 72.7,467.7 72.9,468.7 73.2,470.0 73.5,471.5 73.8,473.1 74.0,474.7 74.3,476.2 74.6,477.7 74.9,479.1 75.1,480.6 75.4,482.3 75.7,483.9 76.0,485.5 76.2,486.9 76.5,488.1 76.8,488.9 77.0,489.3 77.3,489.3 77.6,489.1 77.9,488.8 78.1,488.3 78.4,487.7 78.7,487.1 79.0,486.4 79.2,485.6 79.5,484.9 79.8,484.1 80.1,483.1 80.3,481.9 80.6,480.5 80.9,479.1 81.2,477.8 81.4,476.7 81.7,475.8 82.0,475.4 82.3,475.2 82.5,474.9 82.8,474.8 83.1,474.6 83.4,474.4 83.6,474.3 83.9,474.1 84.2,474.0 84.5,474.0 84.7,473.9 85.0,473.9 85.3,473.9 85.5,473.9 85.8,473.9 86.1,473.9 86.4,473.9 86.6,473.9 86.9,473.9 87.2,473.9 87.5,473.9 87.7,473.9 88.0,473.9 88.3,473.9 88.6,473.8 88.8,473.8 89.1,473.7 89.4,473.5 89.7,473.3 89.9,473.0 90.2,472.7 90.5,472.3 90.8,471.9 91.0,471.4 91.3,470.9 91.6,470.3 91.9,469.7 92.1,468.3 92.4,465.9 92.7,463.0 93.0,459.9 93.2,456.9 93.5,454.3 93.8,452.1 94.0,449.9 94.3,447.8 94.6,445.8 94.9,443.8 95.1,441.9 95.4,440.0 95.7,438.3 96.0,436.6 96.2,435.0 96.5,433.5 96.8,431.9 97.1,430.5 97.3,429.1 97.6,427.7 97.9,426.5 98.2,425.4 98.4,424.4 98.7,423.4 99.0,422.5 99.3,421.5 99.5,420.7 99.8,420.1 100.1,419.8 100.4,419.8 100.6,420.0 100.9,420.6 101.2,421.2 101.5,422.0 101.7,422.9 102.0,423.8 102.3,424.8 102.5,425.6 102.8,426.6 103.1,427.7 103.4,429.0 103.6,430.2 103.9,431.5 104.2,432.6 104.5,433.5 104.7,434.1 105.0,434.6 105.3,434.9 105.6,435.3 105.8,435.6 106.1,435.9 106.4,436.2 106.7,436.4 106.9,436.5 107.2,436.6 107.5,436.6 107.8,436.4 108.0,436.1 108.3,435.8 108.6,435.3 108.9,434.8 109.1,434.4 109.4,433.9 109.7,433.4 110.0,433.1 110.2,432.8 110.5,432.6 110.8,432.6 111.0,432.6 111.3,432.7 111.6,432.7 111.9,432.8 112.1,432.9 112.4,433.0 112.7,433.1 113.0,433.3 113.2,433.4 113.5,433.7 113.8,434.1 114.1,434.6 114.3,435.1 114.6,435.6 114.9,436.1 115.2,436.4 115.4,436.6 115.7,436.5 116.0,436.3 116.3,435.8 116.5,435.2 116.8,434.5 117.1,433.7 117.4,432.8 117.6,431.8 117.9,430.9 118.2,429.9 118.5,428.9 118.7,428.0 119.0,427.1 119.3,426.1 119.5,424.9 119.8,423.6 120.1,422.2 120.4,420.9 120.6,419.7 120.9,418.5 121.2,417.6 121.5,416.8 121.7,416.3 122.0,416.2 122.3,416.3 122.6,416.7 122.8,417.2 123.1,417.9 123.4,418.8 123.7,419.7 123.9,420.7 124.2,421.6 124.5,422.6 124.8,423.8 125.0,425.2 125.3,426.9 125.6,428.8 125.9,430.6 126.1,432.4 126.4,433.9 126.7,435.0 127.0,435.7 127.2,436.0 127.5,436.2 127.8,436.4 128.0,436.6 128.3,436.8 128.6,437.0 128.9,437.1 129.1,437.2 129.4,437.3 129.7,437.4 130.0,437.4 130.2,437.5 130.5,437.5 130.8,437.4 131.1,437.2 131.3,437.0 131.6,436.7 131.9,436.3 132.2,435.9 132.4,435.4 132.7,434.8 133.0,434.3 133.3,433.7 133.5,433.0 133.8,432.3 134.1,431.6 134.4,430.9 134.6,430.1 134.9,429.1 135.2,427.9 135.5,426.6 135.7,425.1 136.0,423.5 136.3,421.8 136.5,420.0 136.8,418.1 137.1,416.0 137.4,413.5 137.6,410.7 137.9,407.7 138.2,404.6 138.5,401.7 138.7,399.0 139.0,396.5 139.3,393.9 139.6,391.3 139.8,388.8 140.1,386.5 140.4,384.4 140.7,382.6 140.9,381.2 141.2,379.8 141.5,378.5 141.8,377.3 142.0,376.1 142.3,375.1 142.6,374.3 142.9,373.6 143.1,373.3 143.4,373.1 143.7,373.2 144.0,373.5 144.2,373.9 144.5,374.4 144.8,374.9 145.0,375.5 145.3,376.2 145.6,376.8 145.9,377.5 146.1,378.0 146.4,378.6 146.7,379.0 147.0,379.3 147.2,379.7 147.5,380.1 147.8,380.5 148.1,380.8 148.3,381.1 148.6,381.3 148.9,381.5 149.2,381.6 149.4,381.5 149.7,381.3 150.0,380.9 150.3,380.5 150.5,380.0 150.8,379.4 151.1,378.9 151.4,378.4 151.6,378.0 151.9,377.8 152.2,377.7 152.5,377.8 152.7,378.3 153.0,379.0 153.3,379.9 153.5,380.9 153.8,382.0 154.1,383.1 154.4,384.3 154.6,385.3 154.9,386.3 155.2,387.1 155.5,387.8 155.7,388.1 156.0,388.2 156.3,388.0 156.6,387.7 156.8,387.2 157.1,386.5 157.4,385.7 157.7,384.8 157.9,383.8 158.2,382.8 158.5,381.8 158.8,380.8 159.0,379.9 159.3,379.0 159.6,378.0 159.9,376.8 160.1,375.5 160.4,374.2 160.7,372.9 161.0,371.8 161.2,370.8 161.5,370.2 161.8,369.9 162.1,370.0 162.3,370.3 162.6,370.8 162.9,371.6 163.1,372.4 163.4,373.5 163.7,374.6 164.0,375.9 164.2,377.2 164.5,379.0 164.8,381.9 165.1,385.5 165.3,389.6 165.6,393.7 165.9,397.5 166.2,400.7 166.4,404.3 166.7,407.9 167.0,411.5 167.3,414.8 167.5,417.4 167.8,419.2 168.1,419.9 168.4,419.9 168.6,419.7 168.9,419.5 169.2,419.2 169.5,418.9 169.7,418.6 170.0,418.3 170.3,417.8 170.6,417.2 170.8,416.6 171.1,416.0 171.4,415.4 171.6,415.1 171.9,415.0 172.2,415.2 172.5,415.6 172.7,416.2 173.0,416.8 173.3,417.5 173.6,418.0 173.8,418.4 174.1,418.7 174.4,419.0 174.7,419.3 174.9,419.6 175.2,419.8 175.5,419.9 175.8,419.8 176.0,418.9 176.3,417.1 176.6,414.8 176.9,412.1 177.1,409.5 177.4,407.0 177.7,404.4 178.0,401.5 178.2,398.5 178.5,395.4 178.8,392.2 179.1,389.1 179.3,386.1 179.6,382.8 179.9,379.2 180.1,375.3 180.4,371.5 180.7,367.7 181.0,364.1 181.2,360.9 181.5,358.1 181.8,356.0 182.1,354.6 182.3,354.1 182.6,354.4 182.9,355.4 183.2,356.9 183.4,358.8 183.7,361.0 184.0,363.4 184.3,365.9 184.5,368.4 184.8,370.6 185.1,372.7 185.4,374.3 185.6,376.0 185.9,377.7 186.2,379.4 186.5,381.2 186.7,382.8 187.0,384.3 187.3,385.6 187.6,386.7 187.8,387.5 188.1,387.8 188.4,387.9 188.6,387.9 188.9,387.9 189.2,387.9 189.5,387.8 189.7,387.8 190.0,387.8 190.3,387.8 190.6,387.7 190.8,387.7 191.1,387.6 191.4,387.6 191.7,387.6 191.9,387.5 192.2,387.4 192.5,387.4 192.8,387.3 193.0,387.3 193.3,387.2 193.6,387.1 193.9,387.0 194.1,386.9 194.4,386.6 194.7,386.2 195.0,385.8 195.2,385.4 195.5,384.9 195.8,384.3 196.1,383.7 196.3,383.1 196.6,382.5 196.9,382.0 197.1,381.4 197.4,380.8 197.7,380.3 198.0,379.8 198.2,379.4 198.5,379.0 198.8,378.7 199.1,378.5 199.3,378.4 199.6,378.4 199.9,378.5 200.2,378.8 200.4,379.3 200.7,379.8 201.0,380.5 201.3,381.3 201.5,382.2 201.8,383.2 202.1,384.1 202.4,385.2 202.6,386.2 202.9,387.2 203.2,388.2 203.5,389.2 203.7,390.1 204.0,391.0 204.3,392.1 204.6,393.1 204.8,394.3 205.1,395.5 205.4,396.7 205.6,397.9 205.9,399.1 206.2,400.3 206.5,401.5 206.7,402.6 207.0,403.7 207.3,404.7 207.6,405.7 207.8,406.5 208.1,407.2 208.4,407.9 208.7,408.4 208.9,409.0 209.2,409.6 209.5,410.1 209.8,410.7 210.0,411.1 210.3,411.5 210.6,411.8 210.9,412.0 211.1,412.2 211.4,412.2 211.7,412.1 212.0,412.0 212.2,411.9 212.5,411.8 212.8,411.6 213.1,411.3 213.3,411.1 213.6,410.8 213.9,410.5 214.1,410.2 214.4,409.8 214.7,409.5 215.0,409.1 215.2,408.7 215.5,408.3 215.8,407.9 216.1,407.4 216.3,406.9 216.6,406.2 216.9,405.5 217.2,404.6 217.4,403.7 217.7,402.7 218.0,401.7 218.3,400.6 218.5,399.4 218.8,398.2 219.1,397.0 219.4,395.7 219.6,394.5 219.9,393.2 220.2,391.9 220.5,390.7 220.7,389.5 221.0,388.2 221.3,386.9 221.6,385.5 221.8,384.0 222.1,382.4 222.4,380.8 222.6,379.2 222.9,377.5 223.2,375.9 223.5,374.3 223.7,372.8 224.0,371.4 224.3,370.2 224.6,369.0 224.8,368.0 225.1,367.2 225.4,366.5 225.7,365.8 225.9,365.1 226.2,364.4 226.5,363.8 226.8,363.2 227.0,362.6 227.3,362.1 227.6,361.6 227.9,361.3 228.1,361.0 228.4,360.7 228.7,360.6 229.0,360.6 229.2,360.6 229.5,360.7 229.8,360.8 230.1,360.9 230.3,361.1 230.6,361.2 230.9,361.5 231.1,361.7 231.4,361.9 231.7,362.2 232.0,362.5 232.2,362.8 232.5,363.1 232.8,363.4 233.1,363.7 233.3,364.1 233.6,364.4 233.9,364.9 234.2,365.5 234.4,366.1 234.7,366.8 235.0,367.6 235.3,368.4 235.5,369.2 235.8,370.0 236.1,370.8 236.4,371.5 236.6,372.3 236.9,373.2 237.2,374.1 237.5,375.2 237.7,376.2 238.0,377.2 238.3,378.2 238.6,379.0 238.8,379.8 239.1,380.4 239.4,380.9 239.6,381.1 239.9,381.0 240.2,380.6 240.5,379.8 240.7,378.7 241.0,377.4 241.3,376.1 241.6,374.8 241.8,373.7 242.1,372.7 242.4,372.0 242.7,371.7 242.9,371.8 243.2,372.4 243.5,373.2 243.8,374.4 244.0,375.7 244.3,377.1 244.6,378.7 244.9,380.2 245.1,381.7 245.4,383.2 245.7,384.4 246.0,385.7 246.2,387.2 246.5,388.7 246.8,390.3 247.1,391.9 247.3,393.4 247.6,394.9 247.9,396.1 248.1,397.2 248.4,398.1 248.7,398.7 249.0,398.9 249.2,398.6 249.5,397.6 249.8,396.1 250.1,394.3 250.3,392.3 250.6,390.1 250.9,388.0 251.2,386.1 251.4,384.5 251.7,383.3 252.0,382.0 252.3,380.8 252.5,379.6 252.8,378.5 253.1,377.4 253.4,376.3 253.6,375.3 253.9,374.3 254.2,373.3 254.5,372.5 254.7,371.6 255.0,370.9 255.3,370.1" fill="none" stroke="#f2e02a" stroke-width="2.4" stroke-linejoin="round"/><polyline points="63.6,479.1 64.3,478.7 64.9,478.3 65.5,477.9 66.2,477.5 66.8,477.1 67.5,476.7 68.1,476.3 68.7,475.9 69.4,475.6 70.0,475.2 70.7,474.8 71.3,474.4 71.9,474.1 72.6,473.7 73.2,473.4 73.9,473.0 74.5,472.7 75.2,472.4 75.8,472.0 76.4,471.7 77.1,471.4 77.7,471.1 78.4,470.7 79.0,470.4 79.6,470.1 80.3,469.7 80.9,469.4 81.6,469.0 82.2,468.6 82.8,468.2 83.5,467.7 84.1,467.2 84.8,466.7 85.4,466.2 86.0,465.6 86.7,465.0 87.3,464.3 88.0,463.6 88.6,462.8 89.3,462.0 89.9,461.2 90.5,460.3 91.2,459.5 91.8,458.6 92.5,457.6 93.1,456.7 93.7,455.8 94.4,454.9 95.0,454.0 95.7,453.2 96.3,452.3 96.9,451.5 97.6,450.6 98.2,449.8 98.9,449.0 99.5,448.2 100.2,447.4 100.8,446.6 101.4,445.8 102.1,445.0 102.7,444.2 103.4,443.5 104.0,442.7 104.6,441.9 105.3,441.2 105.9,440.4 106.6,439.7 107.2,438.9 107.8,438.2 108.5,437.5 109.1,436.7 109.8,436.0 110.4,435.3 111.0,434.5 111.7,433.8 112.3,433.1 113.0,432.4 113.6,431.7 114.3,430.9 114.9,430.2 115.5,429.5 116.2,428.8 116.8,428.1 117.5,427.4 118.1,426.7 118.7,426.1 119.4,425.4 120.0,424.7 120.7,424.0 121.3,423.3 121.9,422.7 122.6,422.0 123.2,421.4 123.9,420.7 124.5,420.0 125.2,419.4 125.8,418.7 126.4,418.0 127.1,417.4 127.7,416.7 128.4,416.0 129.0,415.3 129.6,414.7 130.3,414.0 130.9,413.3 131.6,412.6 132.2,411.8 132.8,411.1 133.5,410.4 134.1,409.6 134.8,408.9 135.4,408.1 136.0,407.4 136.7,406.6 137.3,405.9 138.0,405.1 138.6,404.3 139.3,403.6 139.9,402.8 140.5,402.1 141.2,401.4 141.8,400.7 142.5,400.0 143.1,399.3 143.7,398.6 144.4,397.9 145.0,397.3 145.7,396.7 146.3,396.1 146.9,395.5 147.6,395.0 148.2,394.5 148.9,394.0 149.5,393.5 150.2,393.1 150.8,392.6 151.4,392.3 152.1,391.9 152.7,391.5 153.4,391.2 154.0,390.9 154.6,390.6 155.3,390.4 155.9,390.1 156.6,389.9 157.2,389.7 157.8,389.5 158.5,389.4 159.1,389.2 159.8,389.0 160.4,388.9 161.0,388.8 161.7,388.7 162.3,388.6 163.0,388.5 163.6,388.4 164.3,388.4 164.9,388.3 165.5,388.3 166.2,388.3 166.8,388.2 167.5,388.2 168.1,388.2 168.7,388.2 169.4,388.3 170.0,388.3 170.7,388.3 171.3,388.4 171.9,388.5 172.6,388.5 173.2,388.6 173.9,388.7 174.5,388.8 175.2,388.9 175.8,389.0 176.4,389.1 177.1,389.3 177.7,389.4 178.4,389.5 179.0,389.7 179.6,389.8 180.3,389.9 180.9,390.1 181.6,390.2 182.2,390.3 182.8,390.4 183.5,390.5 184.1,390.7 184.8,390.8 185.4,390.8 186.0,390.9 186.7,391.0 187.3,391.1 188.0,391.1 188.6,391.2 189.3,391.2 189.9,391.2 190.5,391.2 191.2,391.3 191.8,391.3 192.5,391.3 193.1,391.2 193.7,391.2 194.4,391.2 195.0,391.2 195.7,391.1 196.3,391.1 196.9,391.0 197.6,391.0 198.2,390.9 198.9,390.8 199.5,390.8 200.2,390.7 200.8,390.6 201.4,390.5 202.1,390.4 202.7,390.3 203.4,390.2 204.0,390.1 204.6,390.0 205.3,389.8 205.9,389.7 206.6,389.6 207.2,389.4 207.8,389.2 208.5,389.1 209.1,388.9 209.8,388.7 210.4,388.5 211.0,388.3 211.7,388.1 212.3,387.8 213.0,387.6 213.6,387.4 214.3,387.1 214.9,386.8 215.5,386.5 216.2,386.2 216.8,385.9 217.5,385.6 218.1,385.3 218.7,385.0 219.4,384.7 220.0,384.3 220.7,384.0 221.3,383.7 221.9,383.3 222.6,383.0 223.2,382.6 223.9,382.3 224.5,382.0 225.2,381.6 225.8,381.3 226.4,381.0 227.1,380.7 227.7,380.3 228.4,380.0 229.0,379.7 229.6,379.4 230.3,379.2 230.9,378.9 231.6,378.6 232.2,378.4 232.8,378.1 233.5,377.9 234.1,377.7 234.8,377.5 235.4,377.3 236.0,377.1 236.7,376.9 237.3,376.7 238.0,376.6 238.6,376.5 239.3,376.3 239.9,376.2 240.5,376.1 241.2,376.1 241.8,376.0 242.5,375.9 243.1,375.9 243.7,375.9 244.4,375.9 245.0,375.9 245.7,375.9 246.3,375.9 246.9,375.9 247.6,376.0 248.2,376.0 248.9,376.0 249.5,376.1 250.2,376.2 250.8,376.2 251.4,376.3 252.1,376.4 252.7,376.5 253.4,376.5 254.0,376.6 254.6,376.7 255.3,376.8" fill="none" stroke="#dd2b26" stroke-width="2.4" stroke-linejoin="round"/><path d="M255.70 376.8V419.9" stroke="#e86a6a" stroke-width="1" stroke-dasharray="6.5 4.1" fill="none"/><polyline points="255.7,419.9 256.3,420.8 256.9,421.7 257.4,422.5 258.0,423.4 258.6,424.2 259.2,425.1 259.7,425.9 260.3,426.8 260.9,427.6 261.5,428.5 262.1,429.3 262.6,430.1 263.2,431.0 263.8,431.8 264.4,432.7 265.0,433.5 265.5,434.3 266.1,435.1 266.7,436.0 267.3,436.8 267.8,437.6 268.4,438.5 269.0,439.3 269.6,440.1 270.2,441.0 270.7,441.8 271.3,442.7 271.9,443.5 272.5,444.4 273.0,445.2 273.6,446.0 274.2,446.8 274.8,447.6 275.4,448.4 275.9,449.2 276.5,449.9 277.1,450.6 277.7,451.3 278.3,452.0 278.8,452.6 279.4,453.3 280.0,453.9 280.6,454.5 281.1,455.1 281.7,455.7 282.3,456.1 282.9,456.6 283.5,457.0 284.0,457.5 284.6,457.9 285.2,458.4 285.8,458.8 286.3,459.2 286.9,459.7 287.5,460.1 288.1,460.5 288.7,460.9 289.2,461.3 289.8,461.7 290.4,462.0 291.0,462.4 291.6,462.8 292.1,463.1 292.7,463.5 293.3,463.8 293.9,464.1 294.4,464.4 295.0,464.7 295.6,465.0 296.2,465.2 296.8,465.5 297.3,465.7 297.9,465.9 298.5,466.1 299.1,466.3 299.6,466.5 300.2,466.6 300.8,466.8 301.4,466.9" fill="none" stroke="#dd2b26" stroke-width="2.4" stroke-dasharray="5.6 4.8"/></g><path d="M33.56 313.46H326.95V535.30H33.56ZM75.47 535.30v-3M75.47 313.46v3M117.39 535.30v-3M117.39 313.46v3M159.30 535.30v-3M159.30 313.46v3M201.21 535.30v-3M201.21 313.46v3M243.12 535.30v-3M243.12 313.46v3M285.04 535.30v-3M285.04 313.46v3M33.56 513.12h3M326.95 513.12h-3M33.56 490.93h3M326.95 490.93h-3M33.56 468.75h3M326.95 468.75h-3M33.56 446.56h3M326.95 446.56h-3M33.56 424.38h3M326.95 424.38h-3M33.56 402.20h3M326.95 402.20h-3M33.56 380.01h3M326.95 380.01h-3M33.56 357.83h3M326.95 357.83h-3M33.56 335.64h3M326.95 335.64h-3" stroke="#4a4a4a" stroke-width="1" fill="none"/><text x="33.5" y="548.9" font-size="9.5" letter-spacing="-0.3" text-anchor="middle" fill="#1c1c1c">2008</text><text x="75.4" y="548.9" font-size="9.5" letter-spacing="-0.3" text-anchor="middle" fill="#1c1c1c">2009</text><text x="117.3" y="548.9" font-size="9.5" letter-spacing="-0.3" text-anchor="middle" fill="#1c1c1c">2010</text><text x="159.2" y="548.9" font-size="9.5" letter-spacing="-0.3" text-anchor="middle" fill="#1c1c1c">2011</text><text x="201.1" y="548.9" font-size="9.5" letter-spacing="-0.3" text-anchor="middle" fill="#1c1c1c">2012</text><text x="243.0" y="548.9" font-size="9.5" letter-spacing="-0.3" text-anchor="middle" fill="#1c1c1c">2013</text><text x="284.9" y="548.9" font-size="9.5" letter-spacing="-0.3" text-anchor="middle" fill="#1c1c1c">2014</text><text x="326.8" y="548.9" font-size="9.5" letter-spacing="-0.3" text-anchor="middle" fill="#1c1c1c">2015</text><text x="30.0" y="540.3" font-size="9.5" letter-spacing="-0.3" text-anchor="end" fill="#1c1c1c">-8</text><text x="30.0" y="518.1" font-size="9.5" letter-spacing="-0.3" text-anchor="end" fill="#1c1c1c">-6</text><text x="30.0" y="495.9" font-size="9.5" letter-spacing="-0.3" text-anchor="end" fill="#1c1c1c">-4</text><text x="30.0" y="473.7" font-size="9.5" letter-spacing="-0.3" text-anchor="end" fill="#1c1c1c">-2</text><text x="30.0" y="451.6" font-size="9.5" letter-spacing="-0.3" text-anchor="end" fill="#1c1c1c">0</text><text x="30.0" y="429.4" font-size="9.5" letter-spacing="-0.3" text-anchor="end" fill="#1c1c1c">2</text><text x="30.0" y="407.2" font-size="9.5" letter-spacing="-0.3" text-anchor="end" fill="#1c1c1c">4</text><text x="30.0" y="385.0" font-size="9.5" letter-spacing="-0.3" text-anchor="end" fill="#1c1c1c">6</text><text x="30.0" y="362.8" font-size="9.5" letter-spacing="-0.3" text-anchor="end" fill="#1c1c1c">8</text><text x="30.0" y="340.6" font-size="9.5" letter-spacing="-0.3" text-anchor="end" fill="#1c1c1c">10</text><text x="30.0" y="318.5" font-size="9.5" letter-spacing="-0.3" text-anchor="end" fill="#1c1c1c">12</text><text x="180.3" y="308.0" font-size="16" font-weight="bold" text-anchor="middle" fill="#000">LS06</text><text x="182.6" y="568.2" font-size="16" text-anchor="middle" fill="#000">time/yr</text><text transform="translate(14.5 424.4) rotate(-90)" font-size="16" text-anchor="middle" fill="#000">E/mm</text></g>
<g><path d="M424.44 314.20V535.50M466.39 314.20V535.50M508.33 314.20V535.50M550.27 314.20V535.50M592.21 314.20V535.50M634.16 314.20V535.50" stroke="#262626" stroke-opacity="0.125" stroke-width="1" fill="none"/><path d="M382.50 510.91H676.10M382.50 486.32H676.10M382.50 461.73H676.10M382.50 437.14H676.10M382.50 412.56H676.10M382.50 387.97H676.10M382.50 363.38H676.10M382.50 338.79H676.10" stroke="#262626" stroke-opacity="0.125" stroke-width="1" fill="none"/><g clip-path="url(#cBR)"><polyline points="413.1,352.9 413.2,350.1 413.3,353.7 413.5,352.4 413.6,337.6 413.7,347.5 413.8,354.8 413.9,345.1 414.0,348.6 414.2,341.5 414.3,343.1 414.4,349.2 414.5,348.9 414.6,351.5 414.7,352.7 414.8,345.9 415.0,349.2 415.1,346.0 415.2,348.9 415.3,346.2 415.4,345.4 415.5,348.3 415.6,348.9 415.8,348.0 415.9,341.9 416.0,354.8 416.1,351.9 416.2,346.8 416.3,347.9 416.4,344.5 416.6,344.2 416.7,342.2 416.8,350.9 416.9,346.5 417.0,349.2 417.1,345.5 417.3,348.1 417.4,346.0 417.5,351.2 417.6,348.5 417.7,350.7 417.8,350.0 417.9,350.8 418.1,352.7 418.2,346.2 418.3,348.9 418.4,346.6 418.5,353.3 418.6,356.5 418.7,352.5 418.9,351.2 419.0,348.4 419.1,347.7 419.2,347.4 419.3,346.6 419.4,349.3 419.5,351.4 419.7,354.3 419.8,349.9 419.9,353.8 420.0,354.9 420.1,350.7 420.2,352.0 420.4,350.1 420.5,355.1 420.6,349.3 420.7,352.0 420.8,353.7 420.9,355.6 421.0,356.7 421.2,357.7 421.3,349.0 421.4,357.9 421.5,345.8 421.6,354.2 421.7,355.2 421.8,354.8 422.0,353.5 422.1,350.2 422.2,351.1 422.3,352.6 422.4,356.7 422.5,357.7 422.6,346.0 422.8,354.7 422.9,356.2 423.0,347.4 423.1,355.3 423.2,347.9 423.3,347.0 423.5,348.7 423.6,346.1 423.7,353.1 423.8,352.3 423.9,348.7 424.0,347.7 424.1,347.6 424.3,345.5 424.4,349.0 424.5,353.0 424.6,344.8 424.7,346.5 424.8,342.9 424.9,338.7 425.1,344.7 425.2,342.8 425.3,347.2 425.4,341.2 425.5,342.7 425.6,342.7 425.7,340.3 425.9,346.4 426.0,340.8 426.1,340.8 426.2,336.9 426.3,347.3 426.4,341.6 426.6,334.1 426.7,342.0 426.8,341.8 426.9,334.6 427.0,332.1 427.1,339.3 427.2,341.7 427.4,341.1 427.5,340.3 427.6,341.6 427.7,341.4 427.8,338.2 427.9,338.5 428.0,337.1 428.2,338.4 428.3,342.3 428.4,336.2 428.5,337.8 428.6,340.5 428.7,339.6 428.9,337.9 429.0,338.7 429.1,339.5 429.2,336.9 429.3,336.1 429.4,340.6 429.5,339.9 429.7,343.6 429.8,340.8 429.9,339.1 430.0,338.1 430.1,340.5 430.2,341.6 430.3,343.8 430.5,341.2 430.6,345.6 430.7,342.0 430.8,342.6 430.9,345.8 431.0,349.6 431.1,344.2 431.3,342.0 431.4,345.7 431.5,342.9 431.6,339.8 431.7,344.4 431.8,342.9 432.0,347.7 432.1,347.1 432.2,352.3 432.3,347.3 432.4,350.7 432.5,347.2 432.6,354.5 432.8,351.1 432.9,348.6 433.0,348.1 433.1,354.9 433.2,351.5 433.3,346.7 433.4,348.6 433.6,350.9 433.7,360.5 433.8,355.1 433.9,351.0 434.0,352.3 434.1,352.0 434.2,350.7 434.4,353.8 434.5,351.8 434.6,360.5 434.7,347.4 434.8,356.6 434.9,358.0 435.1,351.7 435.2,354.9 435.3,354.1 435.4,359.4 435.5,356.9 435.6,355.9 435.7,362.0 435.9,359.5 436.0,359.9 436.1,360.3 436.2,361.8 436.3,363.8 436.4,358.7 436.5,359.5 436.7,356.9 436.8,360.8 436.9,362.9 437.0,365.5 437.1,360.8 437.2,362.2 437.3,355.1 437.5,354.4 437.6,356.7 437.7,364.6 437.8,366.3 437.9,362.8 438.0,364.9 438.2,357.8 438.3,362.0 438.4,363.7 438.5,362.6 438.6,358.7 438.7,365.7 438.8,361.3 439.0,367.1 439.1,363.7 439.2,365.2 439.3,362.9 439.4,362.8 439.5,359.6 439.6,361.3 439.8,365.4 439.9,367.7 440.0,366.2 440.1,365.0 440.2,364.5 440.3,366.2 440.4,360.5 440.6,361.0 440.7,364.8 440.8,365.6 440.9,364.8 441.0,364.3 441.1,364.3 441.3,369.3 441.4,365.6 441.5,370.2 441.6,364.3 441.7,362.3 441.8,367.8 441.9,364.0 442.1,366.5 442.2,366.8 442.3,358.6 442.4,362.0 442.5,363.3 442.6,366.5 442.7,363.7 442.9,365.7 443.0,363.7 443.1,368.0 443.2,365.5 443.3,366.6 443.4,369.9 443.5,360.3 443.7,363.1 443.8,368.3 443.9,370.5 444.0,368.3 444.1,371.3 444.2,368.1 444.4,371.1 444.5,369.0 444.6,366.4 444.7,365.4 444.8,373.0 444.9,366.9 445.0,370.2 445.2,370.5 445.3,368.3 445.4,371.9 445.5,365.4 445.6,365.5 445.7,368.8 445.8,370.0 446.0,362.5 446.1,362.4 446.2,367.2 446.3,369.0 446.4,365.5 446.5,364.3 446.6,370.6 446.8,363.4 446.9,369.7 447.0,366.0 447.1,371.2 447.2,369.5 447.3,377.2 447.5,370.0 447.6,367.1 447.7,373.3 447.8,371.6 447.9,369.1 448.0,372.5 448.1,364.8 448.3,376.0 448.4,363.6 448.5,373.9 448.6,368.9 448.7,367.1 448.8,370.6 448.9,376.9 449.1,373.7 449.2,372.6 449.3,371.1 449.4,369.9 449.5,369.6 449.6,368.6 449.8,376.3 449.9,370.3 450.0,377.8 450.1,373.1 450.2,374.1 450.3,379.4 450.4,371.0 450.6,374.1 450.7,370.9 450.8,379.1 450.9,378.1 451.0,374.6 451.1,371.1 451.2,374.2 451.4,376.5 451.5,375.7 451.6,378.3 451.7,370.7 451.8,375.9 451.9,378.7 452.0,372.8 452.2,373.5 452.3,374.4 452.4,374.5 452.5,376.5 452.6,375.7 452.7,382.3 452.9,380.3 453.0,379.3 453.1,374.6 453.2,371.6 453.3,376.1 453.4,376.4 453.5,372.0 453.7,385.3 453.8,373.6 453.9,374.3 454.0,379.9 454.1,374.7 454.2,375.0 454.3,379.3 454.5,378.9 454.6,379.7 454.7,371.3 454.8,368.9 454.9,373.3 455.0,370.6 455.1,379.8 455.3,371.0 455.4,369.2 455.5,370.3 455.6,378.3 455.7,371.9 455.8,375.6 456.0,371.8 456.1,377.2 456.2,375.1 456.3,376.9 456.4,373.5 456.5,375.2 456.6,371.3 456.8,372.2 456.9,373.4 457.0,374.8 457.1,375.6 457.2,374.5 457.3,372.1 457.4,374.0 457.6,373.4 457.7,374.4 457.8,374.5 457.9,376.3 458.0,380.1 458.1,372.3 458.2,372.3 458.4,377.1 458.5,367.8 458.6,377.6 458.7,370.7 458.8,373.0 458.9,372.8 459.1,370.1 459.2,370.8 459.3,373.6 459.4,377.0 459.5,377.5 459.6,373.0 459.7,368.6 459.9,370.8 460.0,373.6 460.1,372.5 460.2,371.3 460.3,368.0 460.4,375.9 460.5,371.1 460.7,372.5 460.8,375.8 460.9,379.9 461.0,369.3 461.1,372.3 461.2,374.0 461.3,373.0 461.5,370.1 461.6,373.0 461.7,368.1 461.8,374.1 461.9,375.7 462.0,373.6 462.2,376.2 462.3,374.3 462.4,369.3 462.5,367.8 462.6,371.2 462.7,372.6 462.8,376.1 463.0,376.5 463.1,372.2 463.2,372.9 463.3,375.4 463.4,375.1 463.5,368.8 463.6,370.8 463.8,373.9 463.9,373.6 464.0,370.4 464.1,373.5 464.2,378.8 464.3,380.1 464.4,380.7 464.6,381.6 464.7,382.9 464.8,376.0 464.9,375.1 465.0,379.2 465.1,375.3 465.3,375.5 465.4,377.5 465.5,382.3 465.6,373.3 465.7,373.9 465.8,380.6 465.9,373.0 466.1,379.5 466.2,382.7 466.3,382.0 466.4,387.1 466.5,382.8 466.6,387.2 466.7,379.0 466.9,382.1 467.0,388.0 467.1,382.2 467.2,394.6 467.3,384.4 467.4,383.8 467.5,385.5 467.7,389.8 467.8,387.1 467.9,387.8 468.0,387.6 468.1,383.5 468.2,383.4 468.4,384.2 468.5,391.8 468.6,392.6 468.7,390.6 468.8,389.7 468.9,398.0 469.0,393.8 469.2,386.4 469.3,396.3 469.4,394.9 469.5,394.6 469.6,391.3 469.7,393.1 469.8,393.9 470.0,397.7 470.1,390.9 470.2,392.8 470.3,394.2 470.4,392.7 470.5,390.3 470.6,397.5 470.8,397.7 470.9,396.0 471.0,390.4 471.1,402.4 471.2,394.5 471.3,389.0 471.5,393.6 471.6,389.2 471.7,401.6 471.8,392.7 471.9,387.9 472.0,387.2 472.1,393.8 472.3,394.8 472.4,390.8 472.5,395.9 472.6,393.1 472.7,397.2 472.8,391.5 472.9,391.6 473.1,386.3 473.2,390.2 473.3,393.2 473.4,391.2 473.5,394.8 473.6,390.3 473.8,390.9 473.9,388.6 474.0,386.6 474.1,395.8 474.2,388.0 474.3,386.5 474.4,392.4 474.6,382.2 474.7,390.4 474.8,380.0 474.9,382.2 475.0,384.4 475.1,386.4 475.2,383.9 475.4,390.4 475.5,389.6 475.6,393.3 475.7,385.2 475.8,389.3 475.9,384.6 476.0,385.2 476.2,391.4 476.3,385.0 476.4,382.7 476.5,386.7 476.6,386.0 476.7,387.6 476.9,387.6 477.0,384.4 477.1,391.1 477.2,391.9 477.3,390.6 477.4,385.0 477.5,387.0 477.7,382.5 477.8,398.7 477.9,391.2 478.0,390.5 478.1,388.4 478.2,385.1 478.3,390.2 478.5,393.0 478.6,387.2 478.7,385.1 478.8,398.4 478.9,388.5 479.0,389.6 479.1,393.3 479.3,392.3 479.4,390.1 479.5,391.1 479.6,392.1 479.7,395.2 479.8,390.8 480.0,394.0 480.1,391.8 480.2,394.1 480.3,391.8 480.4,390.3 480.5,392.1 480.6,390.9 480.8,397.7 480.9,392.0 481.0,392.7 481.1,395.9 481.2,394.6 481.3,403.2 481.4,394.2 481.6,395.9 481.7,402.1 481.8,393.4 481.9,397.3 482.0,394.5 482.1,396.4 482.2,394.3 482.4,395.8 482.5,397.2 482.6,394.9 482.7,394.1 482.8,404.2 482.9,397.1 483.1,399.3 483.2,401.1 483.3,393.6 483.4,394.9 483.5,401.5 483.6,402.0 483.7,395.9 483.9,400.7 484.0,399.9 484.1,405.3 484.2,399.5 484.3,395.6 484.4,400.8 484.5,399.8 484.7,393.9 484.8,396.7 484.9,395.0 485.0,397.7 485.1,395.9 485.2,405.1 485.3,402.5 485.5,405.3 485.6,392.9 485.7,399.5 485.8,400.6 485.9,402.6 486.0,403.5 486.2,409.3 486.3,393.2 486.4,400.7 486.5,397.1 486.6,405.1 486.7,400.8 486.8,399.5 487.0,401.0 487.1,398.8 487.2,403.5 487.3,399.8 487.4,398.0 487.5,399.1 487.6,399.7 487.8,401.3 487.9,404.2 488.0,399.3 488.1,402.4 488.2,404.1 488.3,406.2 488.4,406.3 488.6,403.0 488.7,398.7 488.8,398.2 488.9,402.4 489.0,401.0 489.1,399.5 489.3,401.5 489.4,403.7 489.5,399.9 489.6,400.7 489.7,400.9 489.8,397.7 489.9,400.3 490.1,402.7 490.2,400.8 490.3,395.1 490.4,403.6 490.5,402.1 490.6,403.8 490.7,400.1 490.9,405.3 491.0,399.8 491.1,398.8 491.2,403.7 491.3,404.0 491.4,406.0 491.5,401.1 491.7,404.8 491.8,403.3 491.9,402.6 492.0,403.5 492.1,398.6 492.2,396.2 492.4,408.1 492.5,407.2 492.6,400.5 492.7,404.6 492.8,403.0 492.9,400.6 493.0,396.8 493.2,397.5 493.3,402.2 493.4,400.8 493.5,402.4 493.6,401.8 493.7,405.0 493.8,406.9 494.0,402.5 494.1,398.2 494.2,399.0 494.3,407.4 494.4,402.2 494.5,403.6 494.6,400.8 494.8,398.1 494.9,399.0 495.0,402.7 495.1,400.4 495.2,399.5 495.3,408.7 495.5,403.3 495.6,397.9 495.7,402.8 495.8,399.8 495.9,401.9 496.0,405.0 496.1,402.6 496.3,400.3 496.4,399.7 496.5,399.4 496.6,407.7 496.7,401.7 496.8,408.9 496.9,405.0 497.1,405.4 497.2,402.9 497.3,404.0 497.4,401.2 497.5,392.2 497.6,402.7 497.8,404.3 497.9,405.7 498.0,409.7 498.1,404.2 498.2,405.1 498.3,403.8 498.4,406.6 498.6,408.2 498.7,405.5 498.8,405.4 498.9,404.9 499.0,401.2 499.1,409.3 499.2,401.1 499.4,417.1 499.5,404.8 499.6,410.6 499.7,401.7 499.8,414.5 499.9,405.0 500.0,411.7 500.2,412.3 500.3,406.3 500.4,406.2 500.5,411.3 500.6,401.5 500.7,410.4 500.9,404.5 501.0,412.8 501.1,412.7 501.2,409.5 501.3,413.1 501.4,408.5 501.5,416.9 501.7,409.6 501.8,412.0 501.9,413.3 502.0,409.7 502.1,411.1 502.2,411.9 502.3,409.0 502.5,409.6 502.6,409.4 502.7,406.4 502.8,411.0 502.9,408.1 503.0,412.2 503.1,408.9 503.3,409.2 503.4,412.7 503.5,415.8 503.6,415.1 503.7,414.1 503.8,409.4 504.0,411.6 504.1,412.2 504.2,409.7 504.3,409.0 504.4,406.9 504.5,413.3 504.6,409.7 504.8,409.2 504.9,414.6 505.0,411.2 505.1,414.6 505.2,412.4 505.3,410.4 505.4,417.3 505.6,414.7 505.7,414.5 505.8,411.8 505.9,414.5 506.0,411.0 506.1,415.1 506.2,414.1 506.4,410.7 506.5,411.7 506.6,412.4 506.7,413.2 506.8,410.0 506.9,409.0 507.1,414.8 507.2,416.1 507.3,417.3 507.4,408.6 507.5,417.2 507.6,418.8 507.7,413.9 507.9,411.6 508.0,419.1 508.1,415.8 508.2,420.1 508.3,418.0 508.4,410.8 508.5,415.6 508.7,417.2 508.8,416.3 508.9,415.8 509.0,417.2 509.1,420.8 509.2,420.9 509.3,410.9 509.5,419.8 509.6,413.7 509.7,419.9 509.8,413.6 509.9,415.6 510.0,418.5 510.2,420.9 510.3,420.9 510.4,418.7 510.5,420.7 510.6,420.4 510.7,419.0 510.8,420.8 511.0,418.6 511.1,412.3 511.2,422.7 511.3,420.9 511.4,419.7 511.5,417.8 511.6,412.8 511.8,413.4 511.9,413.8 512.0,414.3 512.1,407.0 512.2,419.8 512.3,417.4 512.4,413.4 512.6,412.3 512.7,413.3 512.8,414.8 512.9,403.6 513.0,412.1 513.1,413.1 513.3,412.0 513.4,413.5 513.5,405.4 513.6,407.8 513.7,403.0 513.8,410.2 513.9,408.1 514.1,408.8 514.2,407.6 514.3,408.3 514.4,407.8 514.5,413.3 514.6,407.8 514.7,404.6 514.9,412.9 515.0,395.2 515.1,404.8 515.2,402.7 515.3,404.7 515.4,405.3 515.5,401.3 515.7,402.8 515.8,408.5 515.9,409.1 516.0,404.1 516.1,406.8 516.2,409.4 516.4,408.5 516.5,407.0 516.6,408.8 516.7,409.2 516.8,409.3 516.9,413.5 517.0,403.4 517.2,405.3 517.3,404.6 517.4,410.1 517.5,409.6 517.6,408.6 517.7,415.0 517.8,417.1 518.0,410.7 518.1,415.5 518.2,413.1 518.3,415.5 518.4,408.6 518.5,412.9 518.7,415.3 518.8,411.4 518.9,416.7 519.0,419.4 519.1,418.3 519.2,419.5 519.3,418.8 519.5,416.9 519.6,420.5 519.7,420.8 519.8,417.9 519.9,420.7 520.0,419.0 520.1,422.0 520.3,426.9 520.4,426.7 520.5,428.6 520.6,420.0 520.7,422.5 520.8,425.6 520.9,427.4 521.1,423.3 521.2,425.1 521.3,423.9 521.4,427.8 521.5,428.8 521.6,420.5 521.8,428.7 521.9,425.9 522.0,421.8 522.1,432.0 522.2,424.1 522.3,426.2 522.4,427.0 522.6,425.9 522.7,430.6 522.8,434.0 522.9,421.0 523.0,428.0 523.1,424.4 523.2,423.7 523.4,426.4 523.5,425.9 523.6,425.1 523.7,422.4 523.8,425.8 523.9,423.4 524.0,428.4 524.2,428.8 524.3,427.2 524.4,426.2 524.5,425.8 524.6,426.2 524.7,424.9 524.9,427.3 525.0,421.3 525.1,426.5 525.2,426.5 525.3,426.0 525.4,428.7 525.5,431.1 525.7,427.2 525.8,428.6 525.9,430.4 526.0,427.3 526.1,428.4 526.2,429.6 526.3,433.4 526.5,428.4 526.6,422.3 526.7,425.2 526.8,424.7 526.9,428.3 527.0,425.0 527.1,430.6 527.3,430.1 527.4,427.2 527.5,433.6 527.6,429.1 527.7,428.5 527.8,424.3 528.0,432.0 528.1,428.7 528.2,432.3 528.3,432.1 528.4,439.1 528.5,433.7 528.6,427.2 528.8,429.3 528.9,430.6 529.0,423.3 529.1,429.5 529.2,435.1 529.3,431.9 529.4,431.4 529.6,426.1 529.7,433.9 529.8,429.7 529.9,427.8 530.0,433.3 530.1,430.3 530.2,436.8 530.4,429.9 530.5,430.6 530.6,431.0 530.7,424.2 530.8,428.1 530.9,429.0 531.1,428.4 531.2,421.8 531.3,426.7 531.4,424.9 531.5,429.3 531.6,429.1 531.7,430.8 531.9,427.8 532.0,429.2 532.1,423.7 532.2,424.6 532.3,426.8 532.4,427.9 532.5,435.1 532.7,427.6 532.8,424.5 532.9,423.2 533.0,433.7 533.1,432.4 533.2,424.1 533.3,427.6 533.5,424.9 533.6,425.5 533.7,422.1 533.8,429.7 533.9,425.7 534.0,420.9 534.2,423.2 534.3,426.6 534.4,419.2 534.5,423.2 534.6,427.1 534.7,422.2 534.8,422.4 535.0,425.1 535.1,421.9 535.2,428.8 535.3,422.9 535.4,426.1 535.5,428.6 535.6,427.8 535.8,422.4 535.9,428.1 536.0,427.6 536.1,428.8 536.2,429.4 536.3,424.1 536.4,425.5 536.6,423.3 536.7,426.2 536.8,425.6 536.9,429.4 537.0,430.2 537.1,432.6 537.3,424.6 537.4,430.6 537.5,432.1 537.6,432.2 537.7,429.8 537.8,432.5 537.9,431.0 538.1,430.8 538.2,427.3 538.3,435.7 538.4,431.0 538.5,434.3 538.6,433.6 538.7,427.3 538.9,430.5 539.0,433.7 539.1,430.9 539.2,432.5 539.3,428.9 539.4,433.8 539.5,430.7 539.7,432.8 539.8,432.0 539.9,432.5 540.0,433.8 540.1,431.4 540.2,428.6 540.4,433.5 540.5,432.6 540.6,430.1 540.7,433.6 540.8,428.3 540.9,428.7 541.0,438.1 541.2,432.8 541.3,434.0 541.4,427.9 541.5,427.5 541.6,434.1 541.7,432.4 541.8,430.4 542.0,431.3 542.1,427.7 542.2,426.8 542.3,427.9 542.4,426.2 542.5,426.6 542.7,429.7 542.8,430.8 542.9,431.6 543.0,426.6 543.1,426.3 543.2,425.8 543.3,421.5 543.5,430.1 543.6,432.4 543.7,424.7 543.8,427.5 543.9,427.8 544.0,431.1 544.1,427.0 544.3,426.7 544.4,431.3 544.5,422.8 544.6,431.2 544.7,425.3 544.8,428.9 544.9,427.7 545.1,430.7 545.2,430.1 545.3,426.1 545.4,428.9 545.5,429.4 545.6,425.6 545.8,426.1 545.9,427.9 546.0,427.7 546.1,423.1 546.2,429.1 546.3,427.3 546.4,427.3 546.6,433.1 546.7,434.8 546.8,428.3 546.9,429.1 547.0,428.2 547.1,430.5 547.2,431.0 547.4,426.4 547.5,429.9 547.6,434.1 547.7,426.9 547.8,428.3 547.9,427.9 548.0,425.9 548.2,425.0 548.3,427.4 548.4,429.7 548.5,435.9 548.6,428.3 548.7,429.7 548.9,425.1 549.0,425.2 549.1,427.7 549.2,424.9 549.3,429.4 549.4,429.3 549.5,431.8 549.7,430.0 549.8,428.3 549.9,425.6 550.0,431.2 550.1,426.3 550.2,421.4 550.3,433.0 550.5,429.5 550.6,428.5 550.7,425.4 550.8,422.2 550.9,429.3 551.0,428.4 551.1,430.9 551.3,428.3 551.4,438.8 551.5,427.2 551.6,430.8 551.7,423.1 551.8,430.1 552.0,425.6 552.1,427.0 552.2,431.1 552.3,427.4 552.4,427.4 552.5,428.1 552.6,424.9 552.8,428.9 552.9,419.3 553.0,423.8 553.1,430.2 553.2,435.1 553.3,423.3 553.4,426.5 553.6,427.0 553.7,430.4 553.8,431.8 553.9,433.2 554.0,419.3 554.1,422.3 554.2,429.2 554.4,421.5 554.5,433.3 554.6,425.3 554.7,412.6 554.8,430.4 554.9,429.1 555.1,431.1 555.2,427.7 555.3,423.7 555.4,424.8 555.5,426.7 555.6,424.6 555.7,433.8 555.9,421.9 556.0,441.3 556.1,432.6 556.2,429.7 556.3,430.6 556.4,428.4 556.5,427.8 556.7,436.2 556.8,425.0 556.9,423.6 557.0,432.5 557.1,424.7 557.2,425.5 557.3,426.4 557.5,424.6 557.6,434.4 557.7,427.9 557.8,433.6 557.9,423.1 558.0,433.9 558.2,434.9 558.3,427.7 558.4,429.5 558.5,431.6 558.6,431.5 558.7,430.2 558.8,426.9 559.0,434.9 559.1,434.7 559.2,435.0 559.3,440.6 559.4,433.6 559.5,438.0 559.6,433.2 559.8,438.4 559.9,435.6 560.0,435.6 560.1,435.8 560.2,430.6 560.3,430.3 560.4,432.4 560.6,438.5 560.7,437.3 560.8,432.2 560.9,446.7 561.0,436.5 561.1,436.6 561.3,442.1 561.4,440.0 561.5,438.9 561.6,437.5 561.7,436.6 561.8,442.0 561.9,443.2 562.1,439.8 562.2,443.9 562.3,444.2 562.4,441.0 562.5,440.4 562.6,443.9 562.7,447.2 562.9,440.8 563.0,439.3 563.1,443.5 563.2,443.6 563.3,450.1 563.4,440.0 563.5,446.1 563.7,441.0 563.8,445.4 563.9,444.2 564.0,444.6 564.1,450.0 564.2,435.7 564.4,449.8 564.5,444.7 564.6,447.8 564.7,445.2 564.8,444.5 564.9,451.9 565.0,446.6 565.2,444.8 565.3,446.2 565.4,445.5 565.5,449.4 565.6,452.4 565.7,451.6 565.8,448.8 566.0,445.3 566.1,447.6 566.2,442.8 566.3,447.8 566.4,447.6 566.5,447.6 566.7,448.1 566.8,446.6 566.9,452.0 567.0,448.0 567.1,441.0 567.2,452.4 567.3,448.0 567.5,447.4 567.6,447.8 567.7,448.1 567.8,449.8 567.9,441.5 568.0,448.8 568.1,450.8 568.3,442.6 568.4,445.5 568.5,449.5 568.6,449.7 568.7,447.4 568.8,438.0 568.9,444.6 569.1,449.3 569.2,445.0 569.3,447.6 569.4,440.6 569.5,444.2 569.6,440.9 569.8,444.2 569.9,438.0 570.0,443.0 570.1,443.3 570.2,447.3 570.3,445.2 570.4,442.5 570.6,445.2 570.7,435.5 570.8,443.4 570.9,445.6 571.0,439.9 571.1,444.6 571.2,441.4 571.4,442.9 571.5,444.7 571.6,439.8 571.7,441.8 571.8,438.5 571.9,442.9 572.0,446.3 572.2,445.6 572.3,443.2 572.4,442.0 572.5,441.1 572.6,439.6 572.7,445.1 572.9,440.4 573.0,445.0 573.1,443.3 573.2,432.9 573.3,437.0 573.4,442.3 573.5,435.4 573.7,436.7 573.8,438.4 573.9,436.6 574.0,442.2 574.1,441.9 574.2,444.3 574.3,439.8 574.5,445.7 574.6,443.4 574.7,437.2 574.8,443.6 574.9,441.0 575.0,436.4 575.1,445.5 575.3,438.0 575.4,444.8 575.5,445.7 575.6,442.1 575.7,439.7 575.8,445.3 576.0,445.5 576.1,444.7 576.2,445.7 576.3,442.9 576.4,445.8 576.5,444.4 576.6,442.6 576.8,445.1 576.9,440.2 577.0,446.1 577.1,446.4 577.2,437.5 577.3,439.2 577.4,443.8 577.6,441.4 577.7,445.8 577.8,445.6 577.9,441.8 578.0,443.0 578.1,439.8 578.2,449.8 578.4,441.2 578.5,443.2 578.6,445.9 578.7,445.0 578.8,444.8 578.9,447.7 579.1,445.2 579.2,440.8 579.3,448.0 579.4,444.3 579.5,450.6 579.6,444.7 579.7,441.5 579.9,442.8 580.0,442.4 580.1,446.0 580.2,440.5 580.3,445.1 580.4,439.2 580.5,441.4 580.7,443.2 580.8,437.1 580.9,443.0 581.0,438.4 581.1,441.2 581.2,441.4 581.3,438.1 581.5,439.9 581.6,441.2 581.7,441.5 581.8,440.3 581.9,440.7 582.0,441.9 582.2,444.1 582.3,449.0 582.4,441.0 582.5,441.3 582.6,436.5 582.7,438.9 582.8,436.6 583.0,434.6 583.1,440.4 583.2,442.7 583.3,437.3 583.4,441.8 583.5,440.6 583.6,435.1 583.8,437.9 583.9,442.6 584.0,443.9 584.1,439.5 584.2,436.0 584.3,443.7 584.4,439.0 584.6,438.3 584.7,447.0 584.8,434.6 584.9,442.0 585.0,440.2 585.1,434.4 585.3,445.6 585.4,438.4 585.5,441.4 585.6,439.9 585.7,442.7 585.8,435.7 585.9,442.8 586.1,439.1 586.2,438.6 586.3,440.7 586.4,441.3 586.5,441.3 586.6,437.3 586.7,439.2 586.9,440.9 587.0,444.2 587.1,440.3 587.2,439.1 587.3,441.0 587.4,436.3 587.6,447.1 587.7,433.0 587.8,441.6 587.9,444.7 588.0,446.6 588.1,438.3 588.2,439.4 588.4,441.8 588.5,441.2 588.6,440.5 588.7,442.4 588.8,437.4 588.9,439.1 589.0,441.4 589.2,446.3 589.3,436.7 589.4,442.6 589.5,444.4 589.6,436.9 589.7,439.5 589.8,443.5 590.0,446.4 590.1,442.3 590.2,445.1 590.3,441.6 590.4,432.7 590.5,431.5 590.7,441.2 590.8,438.5 590.9,438.2 591.0,441.4 591.1,445.8 591.2,437.6 591.3,441.6 591.5,439.6 591.6,438.8 591.7,443.6 591.8,435.7 591.9,440.8 592.0,440.3 592.1,442.4 592.3,438.8 592.4,437.8 592.5,442.7 592.6,439.0 592.7,442.1 592.8,444.5 592.9,441.4 593.1,438.2 593.2,442.5 593.3,436.3 593.4,441.6 593.5,440.2 593.6,438.7 593.8,436.7 593.9,438.8 594.0,441.2 594.1,442.8 594.2,433.8 594.3,433.9 594.4,439.3 594.6,432.2 594.7,436.9 594.8,435.1 594.9,432.3 595.0,437.7 595.1,438.4 595.2,445.1 595.4,434.6 595.5,433.9 595.6,432.3 595.7,433.0 595.8,434.4 595.9,430.8 596.0,437.6 596.2,432.9 596.3,432.3 596.4,434.2 596.5,428.1 596.6,432.1 596.7,429.1 596.9,430.4 597.0,433.8 597.1,427.0 597.2,429.6 597.3,433.1 597.4,433.6 597.5,436.6 597.7,433.8 597.8,434.2 597.9,432.9 598.0,435.1 598.1,432.1 598.2,434.4 598.3,439.4 598.5,436.2 598.6,437.7 598.7,439.1 598.8,436.1 598.9,432.6 599.0,439.4 599.1,442.5 599.3,436.9 599.4,427.1 599.5,438.8 599.6,436.3 599.7,438.8 599.8,435.0 600.0,433.4 600.1,438.8 600.2,434.8 600.3,442.3 600.4,438.4 600.5,443.4 600.6,439.0 600.8,441.9 600.9,439.4 601.0,444.1 601.1,440.1 601.2,440.7 601.3,443.2 601.4,444.3 601.6,445.8 601.7,443.6 601.8,441.4 601.9,443.4 602.0,442.8 602.1,439.5 602.2,444.9 602.4,443.2 602.5,441.8 602.6,443.0 602.7,443.7 602.8,445.0 602.9,439.3 603.1,446.0 603.2,447.2 603.3,444.3 603.4,441.2 603.5,442.1 603.6,446.8 603.7,444.5 603.9,445.8 604.0,447.4 604.1,445.7 604.2,446.1 604.3,447.8 604.4,442.9 604.5,449.9 604.7,444.4 604.8,442.4 605.0,468.9 605.1,471.3 605.5,464.6 606.2,470.5 606.9,478.3 607.1,471.6 607.1,466.5 607.1,477.5 607.4,467.7 607.5,475.9 607.7,472.8 607.9,474.0 608.0,464.8 608.2,476.3 608.2,476.9 608.4,464.1 608.7,466.0 608.7,465.0 608.8,463.0 609.2,464.4 609.5,466.9 609.6,462.0 609.7,473.6 609.7,469.3 609.7,476.4 609.8,468.9 610.2,466.4 610.4,468.2 610.8,461.5 610.8,466.1 611.0,477.3 611.3,476.5 611.5,463.3 611.5,455.8 611.6,475.0 611.7,455.2 612.2,461.8 612.6,474.2 612.6,468.7 612.6,452.9 612.6,458.6 612.8,456.6 613.1,454.4 613.2,453.6 613.7,450.2 613.7,467.3 613.8,468.3 613.9,464.2 614.3,472.6 614.5,472.1 614.6,478.1 614.7,444.9 614.7,470.0 614.7,444.7 615.0,462.2 615.0,458.2 615.2,462.7 615.3,444.3 615.4,479.0 615.7,511.6 615.7,462.9 615.8,479.5 616.4,458.7 616.5,471.5 616.7,459.5 616.9,482.8 617.1,445.3 617.3,475.3 617.5,435.6 618.0,470.9 618.2,440.6 618.6,440.4 618.7,462.8 618.9,438.9 619.3,470.2 619.3,474.7 619.7,450.7 619.8,458.8 619.8,439.9 619.9,455.7 619.9,437.5 620.0,463.9 620.0,459.9 620.1,445.6 620.2,431.4 620.3,461.3 620.4,469.1 620.5,441.6 620.6,469.9 620.6,471.0 620.8,458.8 620.9,471.1 620.9,477.2 620.9,456.1 621.0,481.8 621.1,479.1 621.2,491.7 621.4,462.8 621.5,476.0 621.5,448.4 621.6,485.8 621.7,465.1 621.7,457.3 621.9,431.6 622.0,474.1 622.0,476.6 622.1,469.7 622.1,433.8 622.3,456.0 622.4,438.7 622.4,472.9 622.5,448.9 622.7,458.5 622.7,458.4 622.8,476.5 623.0,454.6 623.1,435.7 623.1,439.2 623.3,458.5 623.4,440.1 623.5,516.8 623.6,458.0 623.8,463.2 624.1,478.1 624.5,454.0 624.6,452.4 624.7,456.6 624.8,451.1 624.8,478.6 624.9,472.6 625.4,442.4 625.8,477.1 625.9,473.9 626.1,477.4 626.5,456.7 626.6,467.1 627.1,466.0 627.4,470.6 627.4,462.1 627.4,480.2 627.4,473.7 627.5,466.2 627.6,464.6 627.7,466.4 627.7,480.3 628.3,461.2 628.4,469.6 628.8,455.0 629.0,471.6 629.0,463.0 629.2,479.5 629.8,480.9 630.3,479.9 630.4,467.4 630.5,468.6 630.7,464.4 630.8,470.9 630.9,470.8 630.9,481.8 631.5,479.6 631.6,466.1 631.6,463.5 631.7,475.8 631.8,471.6 631.9,476.4 632.3,477.7 632.4,468.0 632.6,463.5 632.8,471.1 632.9,471.5 632.9,486.0 633.2,461.0 634.0,481.7 634.0,475.1 634.5,482.1 634.6,474.4 634.8,466.5 635.3,484.0 635.4,489.1 635.7,467.7 635.7,436.3 635.9,450.7 636.1,472.7 636.3,479.3 636.3,438.4 636.3,457.4 636.7,484.5 637.3,458.2 637.3,457.5 637.4,450.8 637.9,429.8 638.0,469.6 638.2,452.2 638.2,426.0 638.3,456.7 638.5,487.8 638.6,471.0 638.8,470.0 638.8,431.0 639.0,488.9 639.0,427.6 639.1,454.2 639.2,460.0 639.6,463.3 639.6,448.4 639.6,472.5 639.7,470.5 639.7,474.7 639.8,468.0 639.8,431.0 640.0,467.0 640.0,444.9 640.1,488.3 640.2,456.3 640.2,459.7 640.2,450.6 640.6,456.6 640.8,451.9 641.2,478.9 641.3,434.8 641.9,435.5 642.1,458.2 642.1,451.6 642.2,471.3 642.3,468.6 642.3,462.0 642.3,466.2 642.6,480.8 642.6,485.8 643.0,457.8 643.0,476.9 643.3,447.3 643.3,457.9 643.7,463.6 643.7,454.0 643.8,481.6 643.9,483.1 644.0,445.3 644.0,479.8 644.0,462.2 644.1,443.1 644.1,476.7 644.2,450.7 644.2,483.7 644.2,464.7 644.4,464.3 644.4,465.5 644.6,448.5 644.6,452.9 644.9,472.8 645.0,468.6 646.0,462.1 646.7,465.6 646.9,474.3 647.1,467.8 647.2,459.9 647.3,467.2 647.7,482.0 647.8,475.2 648.0,483.8 648.1,476.0 648.4,477.2 648.5,464.5 648.6,470.0 649.0,484.2 649.1,474.3 649.3,473.7 649.6,480.4 649.6,476.7 649.6,485.1 453.8,356.0 450.4,397.8 471.8,410.1 492.0,374.7 489.9,423.9 510.0,431.2 510.0,434.2 528.9,448.0 573.8,458.3 591.8,461.7 517.1,397.8" fill="none" stroke="none" marker-start="url(#m)" marker-mid="url(#m)" marker-end="url(#m)"/><polyline points="412.6,349.1 412.9,349.0 413.2,348.8 413.4,348.7 413.7,348.6 414.0,348.6 414.3,348.5 414.5,348.5 414.8,348.4 415.1,348.4 415.4,348.4 415.6,348.4 415.9,348.4 416.2,348.4 416.5,348.4 416.7,348.4 417.0,348.5 417.3,348.7 417.6,349.0 417.8,349.3 418.1,349.6 418.4,350.0 418.7,350.4 418.9,350.9 419.2,351.3 419.5,351.7 419.7,352.1 420.0,352.5 420.3,352.8 420.6,353.1 420.8,353.3 421.1,353.5 421.4,353.5 421.7,353.5 421.9,353.3 422.2,352.9 422.5,352.3 422.8,351.6 423.0,350.9 423.3,350.0 423.6,349.2 423.9,348.3 424.1,347.4 424.4,346.6 424.7,345.9 425.0,345.3 425.2,344.6 425.5,343.9 425.8,343.1 426.1,342.4 426.3,341.6 426.6,340.9 426.9,340.3 427.2,339.7 427.4,339.2 427.7,338.9 428.0,338.7 428.3,338.6 428.5,338.7 428.8,338.9 429.1,339.2 429.3,339.6 429.6,340.1 429.9,340.6 430.2,341.2 430.4,341.9 430.7,342.6 431.0,343.3 431.3,343.9 431.5,344.6 431.8,345.3 432.1,346.2 432.4,347.1 432.6,348.1 432.9,349.1 433.2,350.1 433.5,351.2 433.7,352.1 434.0,353.1 434.3,353.9 434.6,354.8 434.8,355.7 435.1,356.6 435.4,357.5 435.7,358.3 435.9,359.0 436.2,359.7 436.5,360.2 436.8,360.6 437.0,361.0 437.3,361.4 437.6,361.7 437.9,362.0 438.1,362.3 438.4,362.5 438.7,362.7 439.0,363.0 439.2,363.2 439.5,363.3 439.8,363.5 440.0,363.7 440.3,363.8 440.6,364.0 440.9,364.1 441.1,364.2 441.4,364.3 441.7,364.4 442.0,364.6 442.2,364.7 442.5,364.9 442.8,365.0 443.1,365.2 443.3,365.4 443.6,365.7 443.9,365.9 444.2,366.2 444.4,366.4 444.7,366.7 445.0,367.0 445.3,367.3 445.5,367.6 445.8,368.0 446.1,368.3 446.4,368.6 446.6,368.9 446.9,369.3 447.2,369.7 447.5,370.1 447.7,370.6 448.0,371.0 448.3,371.5 448.6,371.9 448.8,372.3 449.1,372.7 449.4,373.0 449.7,373.2 449.9,373.5 450.2,373.7 450.5,373.9 450.7,374.1 451.0,374.3 451.3,374.5 451.6,374.7 451.8,374.9 452.1,375.0 452.4,375.2 452.7,375.3 452.9,375.4 453.2,375.5 453.5,375.6 453.8,375.6 454.0,375.7 454.3,375.7 454.6,375.6 454.9,375.6 455.1,375.5 455.4,375.4 455.7,375.3 456.0,375.2 456.2,375.1 456.5,374.9 456.8,374.8 457.1,374.6 457.3,374.5 457.6,374.4 457.9,374.2 458.2,374.1 458.4,374.0 458.7,373.9 459.0,373.8 459.3,373.7 459.5,373.6 459.8,373.6 460.1,373.5 460.3,373.5 460.6,373.4 460.9,373.4 461.2,373.3 461.4,373.3 461.7,373.3 462.0,373.2 462.3,373.2 462.5,373.2 462.8,373.2 463.1,373.4 463.4,373.6 463.6,374.0 463.9,374.4 464.2,374.8 464.5,375.3 464.7,375.9 465.0,376.4 465.3,377.0 465.6,377.8 465.8,378.8 466.1,379.9 466.4,381.1 466.7,382.3 466.9,383.4 467.2,384.5 467.5,385.5 467.8,386.7 468.0,387.9 468.3,389.1 468.6,390.2 468.9,391.2 469.1,392.0 469.4,392.6 469.7,392.9 470.0,392.9 470.2,392.9 470.5,392.8 470.8,392.7 471.0,392.7 471.3,392.6 471.6,392.4 471.9,392.3 472.1,392.2 472.4,392.0 472.7,391.9 473.0,391.6 473.2,391.2 473.5,390.7 473.8,390.1 474.1,389.4 474.3,388.8 474.6,388.2 474.9,387.7 475.2,387.3 475.4,387.0 475.7,387.0 476.0,387.1 476.3,387.2 476.5,387.4 476.8,387.6 477.1,387.9 477.4,388.3 477.6,388.6 477.9,389.0 478.2,389.4 478.5,389.7 478.7,390.1 479.0,390.5 479.3,390.8 479.6,391.2 479.8,391.7 480.1,392.1 480.4,392.6 480.7,393.1 480.9,393.5 481.2,394.0 481.5,394.5 481.7,394.9 482.0,395.4 482.3,395.9 482.6,396.5 482.8,397.0 483.1,397.5 483.4,398.0 483.7,398.4 483.9,398.8 484.2,399.1 484.5,399.3 484.8,399.5 485.0,399.7 485.3,399.8 485.6,400.0 485.9,400.2 486.1,400.3 486.4,400.4 486.7,400.6 487.0,400.7 487.2,400.8 487.5,400.9 487.8,401.0 488.1,401.1 488.3,401.1 488.6,401.2 488.9,401.2 489.2,401.2 489.4,401.2 489.7,401.2 490.0,401.2 490.3,401.2 490.5,401.2 490.8,401.2 491.1,401.2 491.4,401.2 491.6,401.2 491.9,401.2 492.2,401.2 492.4,401.2 492.7,401.2 493.0,401.2 493.3,401.2 493.5,401.2 493.8,401.3 494.1,401.3 494.4,401.5 494.6,401.7 494.9,402.0 495.2,402.3 495.5,402.6 495.7,403.0 496.0,403.3 496.3,403.7 496.6,404.1 496.8,404.5 497.1,404.8 497.4,405.1 497.7,405.4 497.9,405.8 498.2,406.1 498.5,406.5 498.8,406.8 499.0,407.2 499.3,407.6 499.6,407.9 499.9,408.3 500.1,408.6 500.4,409.0 500.7,409.3 501.0,409.5 501.2,409.8 501.5,410.0 501.8,410.2 502.0,410.4 502.3,410.5 502.6,410.6 502.9,410.8 503.1,410.9 503.4,411.0 503.7,411.1 504.0,411.2 504.2,411.3 504.5,411.4 504.8,411.5 505.1,411.6 505.3,411.8 505.6,411.9 505.9,412.1 506.2,412.4 506.4,412.7 506.7,413.0 507.0,413.5 507.3,413.9 507.5,414.4 507.8,414.9 508.1,415.3 508.4,415.8 508.6,416.3 508.9,416.7 509.2,417.1 509.5,417.4 509.7,417.7 510.0,417.9 510.3,418.0 510.6,417.9 510.8,417.7 511.1,417.3 511.4,416.7 511.7,416.0 511.9,415.2 512.2,414.2 512.5,413.3 512.7,412.3 513.0,411.2 513.3,410.3 513.6,409.4 513.8,408.5 514.1,407.8 514.4,407.3 514.7,406.9 514.9,406.7 515.2,406.7 515.5,406.8 515.8,407.0 516.0,407.4 516.3,407.7 516.6,408.2 516.9,408.6 517.1,409.1 517.4,409.8 517.7,410.7 518.0,411.8 518.2,413.1 518.5,414.5 518.8,416.0 519.1,417.5 519.3,418.9 519.6,420.3 519.9,421.5 520.2,422.5 520.4,423.2 520.7,423.8 521.0,424.3 521.3,424.8 521.5,425.3 521.8,425.7 522.1,426.1 522.4,426.5 522.6,426.8 522.9,427.0 523.2,427.2 523.4,427.3 523.7,427.4 524.0,427.4 524.3,427.5 524.5,427.5 524.8,427.5 525.1,427.6 525.4,427.6 525.6,427.6 525.9,427.7 526.2,427.8 526.5,427.8 526.7,428.0 527.0,428.3 527.3,428.7 527.6,429.2 527.8,429.6 528.1,430.1 528.4,430.5 528.7,430.9 528.9,431.1 529.2,431.2 529.5,431.2 529.8,431.0 530.0,430.7 530.3,430.3 530.6,429.9 530.9,429.3 531.1,428.8 531.4,428.2 531.7,427.6 532.0,427.1 532.2,426.6 532.5,426.1 532.8,425.5 533.0,424.9 533.3,424.4 533.6,424.0 533.9,423.9 534.1,423.9 534.4,424.1 534.7,424.4 535.0,424.8 535.2,425.2 535.5,425.7 535.8,426.2 536.1,426.7 536.3,427.2 536.6,427.7 536.9,428.3 537.2,429.0 537.4,429.7 537.7,430.5 538.0,431.2 538.3,431.8 538.5,432.2 538.8,432.4 539.1,432.5 539.4,432.4 539.6,432.2 539.9,432.0 540.2,431.7 540.5,431.5 540.7,431.2 541.0,430.9 541.3,430.6 541.6,430.4 541.8,430.2 542.1,430.0 542.4,429.8 542.7,429.5 542.9,429.3 543.2,429.1 543.5,428.8 543.7,428.7 544.0,428.5 544.3,428.4 544.6,428.3 544.8,428.3 545.1,428.3 545.4,428.3 545.7,428.4 545.9,428.5 546.2,428.6 546.5,428.7 546.8,428.8 547.0,428.9 547.3,429.0 547.6,429.1 547.9,429.1 548.1,429.2 548.4,429.2 548.7,429.3 549.0,429.3 549.2,429.2 549.5,429.2 549.8,429.0 550.1,428.9 550.3,428.8 550.6,428.6 550.9,428.4 551.2,428.3 551.4,428.1 551.7,427.9 552.0,427.8 552.3,427.6 552.5,427.5 552.8,427.4 553.1,427.3 553.4,427.3 553.6,427.3 553.9,427.4 554.2,427.4 554.4,427.5 554.7,427.6 555.0,427.8 555.3,427.9 555.5,428.1 555.8,428.3 556.1,428.4 556.4,428.6 556.6,428.8 556.9,429.1 557.2,429.4 557.5,429.8 557.7,430.3 558.0,430.8 558.3,431.3 558.6,431.8 558.8,432.4 559.1,433.0 559.4,433.6 559.7,434.2 559.9,434.7 560.2,435.3 560.5,435.9 560.8,436.6 561.0,437.2 561.3,437.9 561.6,438.6 561.9,439.3 562.1,440.0 562.4,440.7 562.7,441.3 563.0,441.9 563.2,442.5 563.5,443.0 563.8,443.5 564.0,444.1 564.3,444.7 564.6,445.3 564.9,445.8 565.1,446.4 565.4,446.9 565.7,447.3 566.0,447.7 566.2,448.0 566.5,448.3 566.8,448.4 567.1,448.5 567.3,448.4 567.6,448.2 567.9,447.9 568.2,447.5 568.4,447.1 568.7,446.6 569.0,446.1 569.3,445.6 569.5,445.1 569.8,444.6 570.1,444.2 570.4,443.8 570.6,443.5 570.9,443.2 571.2,442.8 571.5,442.4 571.7,442.1 572.0,441.8 572.3,441.5 572.6,441.3 572.8,441.1 573.1,441.1 573.4,441.1 573.7,441.2 573.9,441.3 574.2,441.5 574.5,441.7 574.7,442.0 575.0,442.2 575.3,442.5 575.6,442.8 575.8,443.1 576.1,443.3 576.4,443.5 576.7,443.7 576.9,443.9 577.2,444.0 577.5,444.0 577.8,444.0 578.0,443.9 578.3,443.8 578.6,443.7 578.9,443.5 579.1,443.3 579.4,443.1 579.7,442.8 580.0,442.6 580.2,442.3 580.5,442.1 580.8,441.8 581.1,441.6 581.3,441.4 581.6,441.2 581.9,441.0 582.2,440.8 582.4,440.6 582.7,440.4 583.0,440.1 583.3,440.0 583.5,439.8 583.8,439.7 584.1,439.6 584.4,439.6 584.6,439.6 584.9,439.7 585.2,439.8 585.4,439.9 585.7,440.1 586.0,440.2 586.3,440.4 586.5,440.5 586.8,440.7 587.1,440.8 587.4,440.9 587.6,441.0 587.9,441.1 588.2,441.1 588.5,441.1 588.7,441.1 589.0,441.1 589.3,441.1 589.6,441.1 589.8,441.1 590.1,441.1 590.4,441.1 590.7,441.1 590.9,441.1 591.2,441.1 591.5,441.1 591.8,441.1 592.0,441.1 592.3,441.1 592.6,440.9 592.9,440.6 593.1,440.1 593.4,439.5 593.7,438.9 594.0,438.2 594.2,437.6 594.5,437.0 594.8,436.6 595.1,436.1 595.3,435.6 595.6,435.1 595.9,434.6 596.1,434.2 596.4,433.8 596.7,433.5 597.0,433.3 597.2,433.2 597.5,433.3 597.8,433.5 598.1,433.9 598.3,434.4 598.6,434.9 598.9,435.5 599.2,436.2 599.4,436.9 599.7,437.5 600.0,438.2 600.3,438.8 600.5,439.4 600.8,440.1 601.1,440.8 601.4,441.6 601.6,442.3 601.9,443.0 602.2,443.8 602.5,444.4 602.7,445.1 603.0,445.7 603.3,446.3 603.6,446.8 603.8,447.4 604.1,447.9 604.4,448.5" fill="none" stroke="#f2e02a" stroke-width="2.4" stroke-linejoin="round"/><polyline points="412.6,344.9 413.3,345.1 413.9,345.3 414.5,345.5 415.2,345.7 415.8,345.9 416.5,346.1 417.1,346.3 417.7,346.5 418.4,346.7 419.0,346.9 419.7,347.2 420.3,347.4 421.0,347.7 421.6,348.0 422.2,348.2 422.9,348.5 423.5,348.8 424.2,349.1 424.8,349.5 425.4,349.8 426.1,350.1 426.7,350.5 427.4,350.9 428.0,351.2 428.6,351.6 429.3,352.0 429.9,352.3 430.6,352.7 431.2,353.1 431.9,353.5 432.5,353.9 433.1,354.3 433.8,354.7 434.4,355.2 435.1,355.6 435.7,356.1 436.3,356.6 437.0,357.1 437.6,357.7 438.3,358.3 438.9,358.8 439.6,359.4 440.2,360.0 440.8,360.6 441.5,361.2 442.1,361.9 442.8,362.5 443.4,363.1 444.0,363.7 444.7,364.2 445.3,364.8 446.0,365.4 446.6,366.0 447.2,366.6 447.9,367.1 448.5,367.7 449.2,368.3 449.8,368.9 450.5,369.4 451.1,370.0 451.7,370.6 452.4,371.1 453.0,371.7 453.7,372.3 454.3,372.8 454.9,373.4 455.6,374.0 456.2,374.5 456.9,375.1 457.5,375.6 458.2,376.1 458.8,376.7 459.4,377.2 460.1,377.7 460.7,378.2 461.4,378.7 462.0,379.2 462.6,379.7 463.3,380.2 463.9,380.7 464.6,381.2 465.2,381.7 465.8,382.2 466.5,382.7 467.1,383.2 467.8,383.7 468.4,384.2 469.1,384.7 469.7,385.2 470.3,385.7 471.0,386.2 471.6,386.7 472.3,387.2 472.9,387.7 473.5,388.3 474.2,388.8 474.8,389.3 475.5,389.8 476.1,390.3 476.7,390.9 477.4,391.4 478.0,391.9 478.7,392.4 479.3,393.0 480.0,393.5 480.6,394.0 481.2,394.5 481.9,395.0 482.5,395.5 483.2,396.0 483.8,396.5 484.4,397.0 485.1,397.5 485.7,398.0 486.4,398.5 487.0,398.9 487.7,399.4 488.3,399.9 488.9,400.4 489.6,400.8 490.2,401.3 490.9,401.7 491.5,402.2 492.1,402.7 492.8,403.1 493.4,403.6 494.1,404.0 494.7,404.4 495.3,404.9 496.0,405.3 496.6,405.7 497.3,406.2 497.9,406.6 498.6,407.0 499.2,407.4 499.8,407.8 500.5,408.3 501.1,408.7 501.8,409.1 502.4,409.5 503.0,409.9 503.7,410.3 504.3,410.7 505.0,411.0 505.6,411.4 506.3,411.8 506.9,412.2 507.5,412.6 508.2,413.0 508.8,413.3 509.5,413.7 510.1,414.1 510.7,414.4 511.4,414.8 512.0,415.1 512.7,415.5 513.3,415.9 513.9,416.2 514.6,416.6 515.2,416.9 515.9,417.2 516.5,417.6 517.2,417.9 517.8,418.2 518.4,418.6 519.1,418.9 519.7,419.2 520.4,419.6 521.0,419.9 521.6,420.2 522.3,420.5 522.9,420.8 523.6,421.1 524.2,421.4 524.9,421.8 525.5,422.1 526.1,422.4 526.8,422.7 527.4,423.0 528.1,423.3 528.7,423.6 529.3,424.0 530.0,424.3 530.6,424.6 531.3,424.9 531.9,425.2 532.5,425.6 533.2,425.9 533.8,426.2 534.5,426.6 535.1,426.9 535.8,427.2 536.4,427.6 537.0,427.9 537.7,428.3 538.3,428.6 539.0,428.9 539.6,429.3 540.2,429.6 540.9,429.9 541.5,430.3 542.2,430.6 542.8,430.9 543.4,431.2 544.1,431.5 544.7,431.9 545.4,432.2 546.0,432.4 546.7,432.7 547.3,433.0 547.9,433.3 548.6,433.5 549.2,433.8 549.9,434.0 550.5,434.3 551.1,434.5 551.8,434.8 552.4,435.0 553.1,435.2 553.7,435.4 554.4,435.6 555.0,435.8 555.6,436.0 556.3,436.2 556.9,436.4 557.6,436.6 558.2,436.8 558.8,437.0 559.5,437.1 560.1,437.3 560.8,437.5 561.4,437.6 562.0,437.8 562.7,438.0 563.3,438.1 564.0,438.3 564.6,438.4 565.3,438.6 565.9,438.7 566.5,438.9 567.2,439.0 567.8,439.1 568.5,439.2 569.1,439.4 569.7,439.5 570.4,439.6 571.0,439.7 571.7,439.8 572.3,440.0 573.0,440.1 573.6,440.2 574.2,440.3 574.9,440.4 575.5,440.5 576.2,440.6 576.8,440.6 577.4,440.7 578.1,440.8 578.7,440.9 579.4,441.0 580.0,441.0 580.6,441.1 581.3,441.2 581.9,441.2 582.6,441.3 583.2,441.4 583.9,441.4 584.5,441.5 585.1,441.5 585.8,441.5 586.4,441.6 587.1,441.6 587.7,441.7 588.3,441.7 589.0,441.7 589.6,441.7 590.3,441.8 590.9,441.8 591.6,441.8 592.2,441.8 592.8,441.9 593.5,441.9 594.1,441.9 594.8,441.9 595.4,441.9 596.0,441.9 596.7,442.0 597.3,442.0 598.0,442.0 598.6,442.0 599.2,442.1 599.9,442.1 600.5,442.1 601.2,442.1 601.8,442.2 602.5,442.2 603.1,442.2 603.7,442.3 604.4,442.3" fill="none" stroke="#dd2b26" stroke-width="2.4" stroke-linejoin="round"/><path d="M604.80 442.3V468.1" stroke="#e86a6a" stroke-width="1" stroke-dasharray="6.5 4.1" fill="none"/><polyline points="604.4,468.1 605.0,468.1 605.5,468.1 606.1,468.1 606.7,468.1 607.3,468.0 607.8,468.0 608.4,468.0 609.0,468.0 609.6,468.0 610.2,467.9 610.7,467.9 611.3,467.9 611.9,467.9 612.5,467.9 613.1,467.8 613.6,467.8 614.2,467.8 614.8,467.8 615.4,467.8 616.0,467.8 616.5,467.7 617.1,467.7 617.7,467.7 618.3,467.7 618.8,467.7 619.4,467.6 620.0,467.6 620.6,467.6 621.2,467.6 621.7,467.6 622.3,467.5 622.9,467.5 623.5,467.5 624.1,467.5 624.6,467.5 625.2,467.5 625.8,467.4 626.4,467.4 626.9,467.4 627.5,467.4 628.1,467.4 628.7,467.3 629.3,467.3 629.8,467.3 630.4,467.3 631.0,467.3 631.6,467.2 632.2,467.2 632.7,467.2 633.3,467.2 633.9,467.2 634.5,467.2 635.0,467.1 635.6,467.1 636.2,467.1 636.8,467.1 637.4,467.1 637.9,467.0 638.5,467.0 639.1,467.0 639.7,467.0 640.3,467.0 640.8,466.9 641.4,466.9 642.0,466.9 642.6,466.9 643.2,466.9 643.7,466.9 644.3,466.8 644.9,466.8 645.5,466.8 646.0,466.8 646.6,466.8 647.2,466.7 647.8,466.7 648.4,466.7 648.9,466.7 649.5,466.7 650.1,466.7" fill="none" stroke="#dd2b26" stroke-width="2.4" stroke-dasharray="5.6 4.8"/></g><path d="M382.50 314.20H676.10V535.50H382.50ZM424.44 535.50v-3M424.44 314.20v3M466.39 535.50v-3M466.39 314.20v3M508.33 535.50v-3M508.33 314.20v3M550.27 535.50v-3M550.27 314.20v3M592.21 535.50v-3M592.21 314.20v3M634.16 535.50v-3M634.16 314.20v3M382.50 510.91h3M676.10 510.91h-3M382.50 486.32h3M676.10 486.32h-3M382.50 461.73h3M676.10 461.73h-3M382.50 437.14h3M676.10 437.14h-3M382.50 412.56h3M676.10 412.56h-3M382.50 387.97h3M676.10 387.97h-3M382.50 363.38h3M676.10 363.38h-3M382.50 338.79h3M676.10 338.79h-3" stroke="#4a4a4a" stroke-width="1" fill="none"/><text x="382.4" y="549.1" font-size="9.5" letter-spacing="-0.3" text-anchor="middle" fill="#1c1c1c">2008</text><text x="424.3" y="549.1" font-size="9.5" letter-spacing="-0.3" text-anchor="middle" fill="#1c1c1c">2009</text><text x="466.3" y="549.1" font-size="9.5" letter-spacing="-0.3" text-anchor="middle" fill="#1c1c1c">2010</text><text x="508.2" y="549.1" font-size="9.5" letter-spacing="-0.3" text-anchor="middle" fill="#1c1c1c">2011</text><text x="550.2" y="549.1" font-size="9.5" letter-spacing="-0.3" text-anchor="middle" fill="#1c1c1c">2012</text><text x="592.1" y="549.1" font-size="9.5" letter-spacing="-0.3" text-anchor="middle" fill="#1c1c1c">2013</text><text x="634.1" y="549.1" font-size="9.5" letter-spacing="-0.3" text-anchor="middle" fill="#1c1c1c">2014</text><text x="676.0" y="549.1" font-size="9.5" letter-spacing="-0.3" text-anchor="middle" fill="#1c1c1c">2015</text><text x="378.9" y="540.5" font-size="9.5" letter-spacing="-0.3" text-anchor="end" fill="#1c1c1c">-40</text><text x="378.9" y="515.9" font-size="9.5" letter-spacing="-0.3" text-anchor="end" fill="#1c1c1c">-35</text><text x="378.9" y="491.3" font-size="9.5" letter-spacing="-0.3" text-anchor="end" fill="#1c1c1c">-30</text><text x="378.9" y="466.7" font-size="9.5" letter-spacing="-0.3" text-anchor="end" fill="#1c1c1c">-25</text><text x="378.9" y="442.1" font-size="9.5" letter-spacing="-0.3" text-anchor="end" fill="#1c1c1c">-20</text><text x="378.9" y="417.6" font-size="9.5" letter-spacing="-0.3" text-anchor="end" fill="#1c1c1c">-15</text><text x="378.9" y="393.0" font-size="9.5" letter-spacing="-0.3" text-anchor="end" fill="#1c1c1c">-10</text><text x="378.9" y="368.4" font-size="9.5" letter-spacing="-0.3" text-anchor="end" fill="#1c1c1c">-5</text><text x="378.9" y="343.8" font-size="9.5" letter-spacing="-0.3" text-anchor="end" fill="#1c1c1c">0</text><text x="378.9" y="319.2" font-size="9.5" letter-spacing="-0.3" text-anchor="end" fill="#1c1c1c">5</text><text x="529.3" y="308.0" font-size="16" font-weight="bold" text-anchor="middle" fill="#000">LS06</text><text x="531.6" y="568.3" font-size="16" text-anchor="middle" fill="#000">time/yr</text><text transform="translate(360.7 424.9) rotate(-90)" font-size="16" text-anchor="middle" fill="#000">N/mm</text></g>
<g><text x="61.9" y="103.5" font-size="16" fill="#000" text-anchor="start">A</text><path d="M66.4 107V128.66" stroke="#1a1a1a" stroke-width="0.8" fill="none"/><path d="M66.4 135.5L62.60000000000001 126.0L66.4 128.66L70.2 126.0Z" fill="#000"/><text x="157.3" y="45" font-size="16" fill="#000" text-anchor="start">B</text><path d="M160.8 49.3V70.86" stroke="#1a1a1a" stroke-width="0.8" fill="none"/><path d="M160.8 77.7L157.0 68.2L160.8 70.86L164.60000000000002 68.2Z" fill="#000"/><text x="219" y="49.7" font-size="16" fill="#000" text-anchor="start">Lushan_EQ</text><path d="M260.4 54.1V75.75999999999999" stroke="#1a1a1a" stroke-width="0.8" fill="none"/><path d="M260.4 82.6L256.59999999999997 73.1L260.4 75.75999999999999L264.2 73.1Z" fill="#000"/><text x="261.5" y="105.6" font-size="16" fill="#000" text-anchor="start">C</text><text x="560.8" y="39.5" font-size="16" fill="#000" text-anchor="start">Lushan_EQ</text><path d="M601.2 43.7V64.36" stroke="#1a1a1a" stroke-width="0.8" fill="none"/><path d="M601.2 71.2L597.4000000000001 61.7L601.2 64.36L605.0 61.7Z" fill="#000"/><text x="59.6" y="413.8" font-size="16" fill="#000" text-anchor="start">A</text><path d="M64.1 417.7V439.36" stroke="#1a1a1a" stroke-width="0.8" fill="none"/><path d="M64.1 446.2L60.3 436.7L64.1 439.36L67.89999999999999 436.7Z" fill="#000"/><text x="159.2" y="459.9" font-size="16" fill="#000" text-anchor="start">B</text><path d="M162.4 443.6V421.73999999999995" stroke="#1a1a1a" stroke-width="0.8" fill="none"/><path d="M162.4 414.9L158.6 424.4L162.4 421.73999999999995L166.20000000000002 424.4Z" fill="#000"/><text x="236.8" y="329" font-size="16" fill="#000" text-anchor="start">Lushan_EQ</text><path d="M256.6 333.4V354.96000000000004" stroke="#1a1a1a" stroke-width="0.8" fill="none"/><path d="M256.6 361.8L252.8 352.3L256.6 354.96000000000004L260.40000000000003 352.3Z" fill="#000"/><text x="265.1" y="384.2" font-size="16" fill="#000" text-anchor="start">C</text><text x="562" y="386.5" font-size="16" fill="#000" text-anchor="start">Lushan_EQ</text><path d="M605.4 395V415.76000000000005" stroke="#1a1a1a" stroke-width="0.8" fill="none"/><path d="M605.4 422.6L601.6 413.1L605.4 415.76000000000005L609.1999999999999 413.1Z" fill="#000"/></g>
<g><circle cx="125.7" cy="599.4" r="2.7" fill="none" stroke="#4259b5" stroke-width="1"/><text x="135.3" y="604.5" font-size="16" fill="#000" text-anchor="start">original data</text><path d="M315.9 598.2H342.9" stroke="#f2e02a" stroke-width="2"/><text x="352.8" y="605.5" font-size="16" fill="#000" text-anchor="start">LSC</text><path d="M478 599H504.6" stroke="#dd2b26" stroke-width="2"/><text x="507.3" y="605.5" font-size="16" fill="#000" text-anchor="start">S_LSC</text></g>
</svg></body></html>
